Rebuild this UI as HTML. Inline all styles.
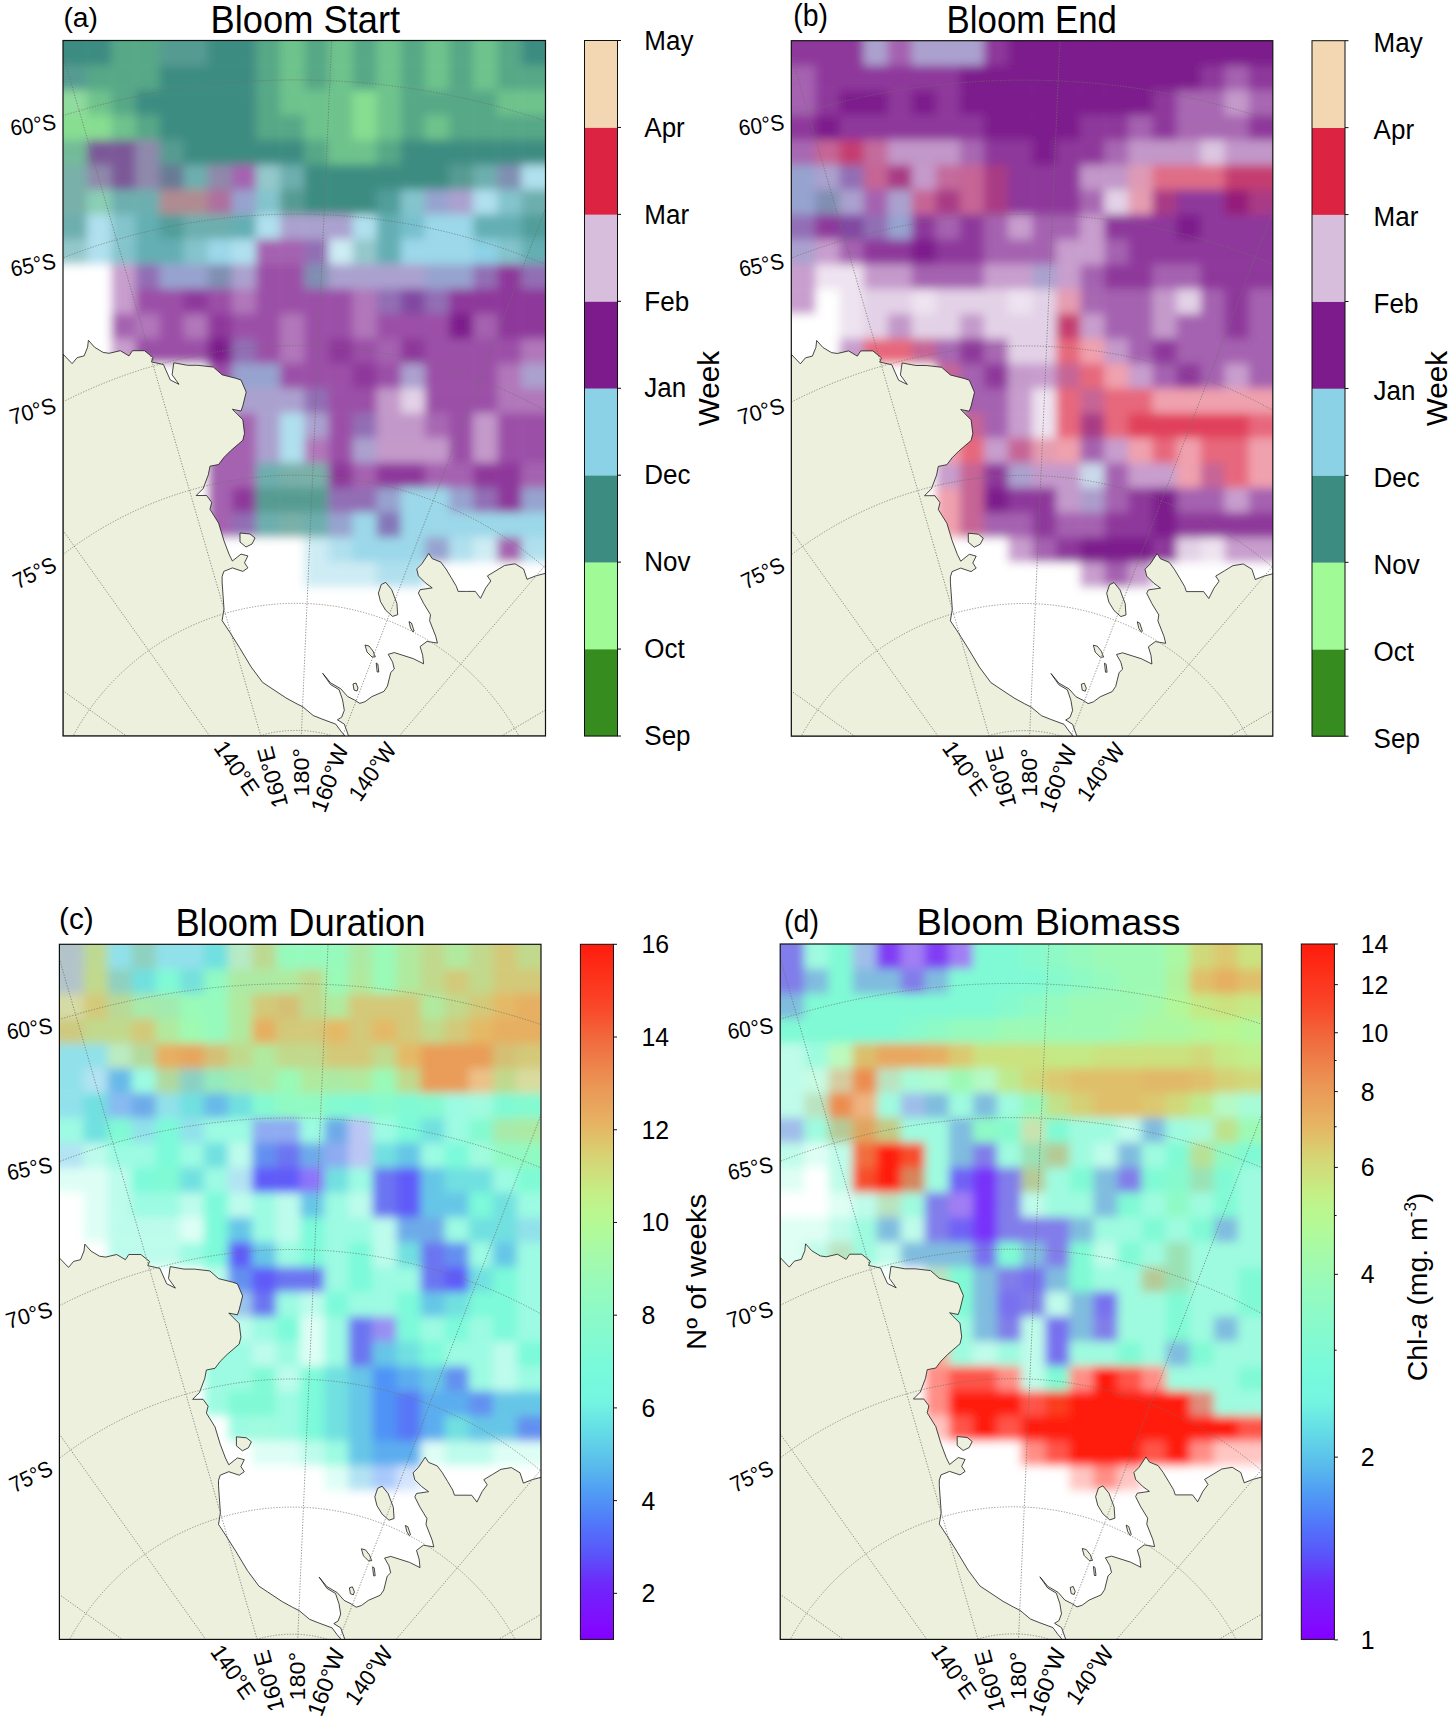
<!DOCTYPE html><html><head><meta charset="utf-8"><style>html,body{margin:0;padding:0;background:#fff;}svg{display:block}text{font-family:"Liberation Sans",sans-serif;fill:#000}</style></head><body>
<svg width="1450" height="1722" viewBox="0 0 1450 1722">
<rect width="1450" height="1722" fill="#fff"/>
<defs>
<clipPath id="clipa"><rect x="0" y="0" width="482.5" height="695.5"/></clipPath>
<clipPath id="clipb"><rect x="0" y="0" width="481.5" height="695.5"/></clipPath>
<clipPath id="clipc"><rect x="0" y="0" width="481.6" height="695.1"/></clipPath>
<clipPath id="clipd"><rect x="0" y="0" width="481.8" height="695.4"/></clipPath>
<filter id="blur" x="-5%" y="-5%" width="110%" height="110%"><feGaussianBlur stdDeviation="5"/></filter>
<linearGradient id="gc" x1="0" y1="1" x2="0" y2="0"><stop offset="0.000" stop-color="#8200ff"/><stop offset="0.010" stop-color="#8205ff"/><stop offset="0.020" stop-color="#820aff"/><stop offset="0.030" stop-color="#7f0ffe"/><stop offset="0.040" stop-color="#7b14fd"/><stop offset="0.050" stop-color="#7819fc"/><stop offset="0.060" stop-color="#741efc"/><stop offset="0.070" stop-color="#7123fb"/><stop offset="0.080" stop-color="#6e29fa"/><stop offset="0.090" stop-color="#6933fa"/><stop offset="0.100" stop-color="#643dfa"/><stop offset="0.110" stop-color="#6048fa"/><stop offset="0.120" stop-color="#5b52fa"/><stop offset="0.130" stop-color="#585bfa"/><stop offset="0.140" stop-color="#5663fa"/><stop offset="0.150" stop-color="#546afa"/><stop offset="0.160" stop-color="#5272fa"/><stop offset="0.170" stop-color="#507afa"/><stop offset="0.180" stop-color="#5083f8"/><stop offset="0.190" stop-color="#508bf7"/><stop offset="0.200" stop-color="#5093f6"/><stop offset="0.210" stop-color="#509bf5"/><stop offset="0.220" stop-color="#52a3f3"/><stop offset="0.230" stop-color="#55abf0"/><stop offset="0.240" stop-color="#57b3ee"/><stop offset="0.250" stop-color="#59bbec"/><stop offset="0.260" stop-color="#5bc2ea"/><stop offset="0.270" stop-color="#5ec9e9"/><stop offset="0.280" stop-color="#60cfe8"/><stop offset="0.290" stop-color="#62d6e7"/><stop offset="0.300" stop-color="#64dde6"/><stop offset="0.310" stop-color="#68e2e5"/><stop offset="0.320" stop-color="#6be8e4"/><stop offset="0.330" stop-color="#6feee2"/><stop offset="0.340" stop-color="#72f4e1"/><stop offset="0.350" stop-color="#74f6e0"/><stop offset="0.360" stop-color="#75f7df"/><stop offset="0.370" stop-color="#76f8de"/><stop offset="0.380" stop-color="#77f9dd"/><stop offset="0.390" stop-color="#79fadb"/><stop offset="0.400" stop-color="#7bfad9"/><stop offset="0.410" stop-color="#7efad6"/><stop offset="0.420" stop-color="#81fad3"/><stop offset="0.430" stop-color="#83fad1"/><stop offset="0.440" stop-color="#86face"/><stop offset="0.450" stop-color="#88facc"/><stop offset="0.460" stop-color="#8bfac9"/><stop offset="0.470" stop-color="#8dfac7"/><stop offset="0.480" stop-color="#90fac4"/><stop offset="0.490" stop-color="#93fac1"/><stop offset="0.500" stop-color="#95fabf"/><stop offset="0.510" stop-color="#98fabb"/><stop offset="0.520" stop-color="#9bfab7"/><stop offset="0.530" stop-color="#9efab3"/><stop offset="0.540" stop-color="#a1faaf"/><stop offset="0.550" stop-color="#a4faab"/><stop offset="0.560" stop-color="#a7faa7"/><stop offset="0.570" stop-color="#abfaa2"/><stop offset="0.580" stop-color="#aefa9d"/><stop offset="0.590" stop-color="#b2fa99"/><stop offset="0.600" stop-color="#b5f995"/><stop offset="0.610" stop-color="#b9f791"/><stop offset="0.620" stop-color="#bcf58e"/><stop offset="0.630" stop-color="#c0f28a"/><stop offset="0.640" stop-color="#c3f087"/><stop offset="0.650" stop-color="#c7eb83"/><stop offset="0.660" stop-color="#cae580"/><stop offset="0.670" stop-color="#cee07c"/><stop offset="0.680" stop-color="#d1db79"/><stop offset="0.690" stop-color="#d5d675"/><stop offset="0.700" stop-color="#d8d072"/><stop offset="0.710" stop-color="#dcc96e"/><stop offset="0.720" stop-color="#dfc26b"/><stop offset="0.730" stop-color="#e3bb67"/><stop offset="0.740" stop-color="#e6b464"/><stop offset="0.750" stop-color="#e7af61"/><stop offset="0.760" stop-color="#e8a95f"/><stop offset="0.770" stop-color="#e9a45c"/><stop offset="0.780" stop-color="#ea9f59"/><stop offset="0.790" stop-color="#ea9a57"/><stop offset="0.800" stop-color="#eb9454"/><stop offset="0.810" stop-color="#ec8d51"/><stop offset="0.820" stop-color="#ed874d"/><stop offset="0.830" stop-color="#ee804a"/><stop offset="0.840" stop-color="#ef7947"/><stop offset="0.850" stop-color="#ef7343"/><stop offset="0.860" stop-color="#f16c40"/><stop offset="0.870" stop-color="#f2653b"/><stop offset="0.880" stop-color="#f45e37"/><stop offset="0.890" stop-color="#f65632"/><stop offset="0.900" stop-color="#f84f2e"/><stop offset="0.910" stop-color="#f94829"/><stop offset="0.920" stop-color="#fa4226"/><stop offset="0.930" stop-color="#fb3d23"/><stop offset="0.940" stop-color="#fc3920"/><stop offset="0.950" stop-color="#fc341c"/><stop offset="0.960" stop-color="#fd2f19"/><stop offset="0.970" stop-color="#fe2a16"/><stop offset="0.980" stop-color="#fe2513"/><stop offset="0.990" stop-color="#ff2010"/><stop offset="1.000" stop-color="#ff1c0c"/></linearGradient>
<linearGradient id="gd" x1="0" y1="1" x2="0" y2="0"><stop offset="0.000" stop-color="#8200ff"/><stop offset="0.010" stop-color="#8205ff"/><stop offset="0.020" stop-color="#820aff"/><stop offset="0.030" stop-color="#7f0ffe"/><stop offset="0.040" stop-color="#7b14fd"/><stop offset="0.050" stop-color="#7819fc"/><stop offset="0.060" stop-color="#741efc"/><stop offset="0.070" stop-color="#7123fb"/><stop offset="0.080" stop-color="#6e29fa"/><stop offset="0.090" stop-color="#6933fa"/><stop offset="0.100" stop-color="#643dfa"/><stop offset="0.110" stop-color="#6048fa"/><stop offset="0.120" stop-color="#5b52fa"/><stop offset="0.130" stop-color="#585bfa"/><stop offset="0.140" stop-color="#5663fa"/><stop offset="0.150" stop-color="#546afa"/><stop offset="0.160" stop-color="#5272fa"/><stop offset="0.170" stop-color="#507afa"/><stop offset="0.180" stop-color="#5083f8"/><stop offset="0.190" stop-color="#508bf7"/><stop offset="0.200" stop-color="#5093f6"/><stop offset="0.210" stop-color="#509bf5"/><stop offset="0.220" stop-color="#52a3f3"/><stop offset="0.230" stop-color="#55abf0"/><stop offset="0.240" stop-color="#57b3ee"/><stop offset="0.250" stop-color="#59bbec"/><stop offset="0.260" stop-color="#5bc2ea"/><stop offset="0.270" stop-color="#5ec9e9"/><stop offset="0.280" stop-color="#60cfe8"/><stop offset="0.290" stop-color="#62d6e7"/><stop offset="0.300" stop-color="#64dde6"/><stop offset="0.310" stop-color="#68e2e5"/><stop offset="0.320" stop-color="#6be8e4"/><stop offset="0.330" stop-color="#6feee2"/><stop offset="0.340" stop-color="#72f4e1"/><stop offset="0.350" stop-color="#74f6e0"/><stop offset="0.360" stop-color="#75f7df"/><stop offset="0.370" stop-color="#76f8de"/><stop offset="0.380" stop-color="#77f9dd"/><stop offset="0.390" stop-color="#79fadb"/><stop offset="0.400" stop-color="#7bfad9"/><stop offset="0.410" stop-color="#7efad6"/><stop offset="0.420" stop-color="#81fad3"/><stop offset="0.430" stop-color="#83fad1"/><stop offset="0.440" stop-color="#86face"/><stop offset="0.450" stop-color="#88facc"/><stop offset="0.460" stop-color="#8bfac9"/><stop offset="0.470" stop-color="#8dfac7"/><stop offset="0.480" stop-color="#90fac4"/><stop offset="0.490" stop-color="#93fac1"/><stop offset="0.500" stop-color="#95fabf"/><stop offset="0.510" stop-color="#98fabb"/><stop offset="0.520" stop-color="#9bfab7"/><stop offset="0.530" stop-color="#9efab3"/><stop offset="0.540" stop-color="#a1faaf"/><stop offset="0.550" stop-color="#a4faab"/><stop offset="0.560" stop-color="#a7faa7"/><stop offset="0.570" stop-color="#abfaa2"/><stop offset="0.580" stop-color="#aefa9d"/><stop offset="0.590" stop-color="#b2fa99"/><stop offset="0.600" stop-color="#b5f995"/><stop offset="0.610" stop-color="#b9f791"/><stop offset="0.620" stop-color="#bcf58e"/><stop offset="0.630" stop-color="#c0f28a"/><stop offset="0.640" stop-color="#c3f087"/><stop offset="0.650" stop-color="#c7eb83"/><stop offset="0.660" stop-color="#cae580"/><stop offset="0.670" stop-color="#cee07c"/><stop offset="0.680" stop-color="#d1db79"/><stop offset="0.690" stop-color="#d5d675"/><stop offset="0.700" stop-color="#d8d072"/><stop offset="0.710" stop-color="#dcc96e"/><stop offset="0.720" stop-color="#dfc26b"/><stop offset="0.730" stop-color="#e3bb67"/><stop offset="0.740" stop-color="#e6b464"/><stop offset="0.750" stop-color="#e7af61"/><stop offset="0.760" stop-color="#e8a95f"/><stop offset="0.770" stop-color="#e9a45c"/><stop offset="0.780" stop-color="#ea9f59"/><stop offset="0.790" stop-color="#ea9a57"/><stop offset="0.800" stop-color="#eb9454"/><stop offset="0.810" stop-color="#ec8d51"/><stop offset="0.820" stop-color="#ed874d"/><stop offset="0.830" stop-color="#ee804a"/><stop offset="0.840" stop-color="#ef7947"/><stop offset="0.850" stop-color="#ef7343"/><stop offset="0.860" stop-color="#f16c40"/><stop offset="0.870" stop-color="#f2653b"/><stop offset="0.880" stop-color="#f45e37"/><stop offset="0.890" stop-color="#f65632"/><stop offset="0.900" stop-color="#f84f2e"/><stop offset="0.910" stop-color="#f94829"/><stop offset="0.920" stop-color="#fa4226"/><stop offset="0.930" stop-color="#fb3d23"/><stop offset="0.940" stop-color="#fc3920"/><stop offset="0.950" stop-color="#fc341c"/><stop offset="0.960" stop-color="#fd2f19"/><stop offset="0.970" stop-color="#fe2a16"/><stop offset="0.980" stop-color="#fe2513"/><stop offset="0.990" stop-color="#ff2010"/><stop offset="1.000" stop-color="#ff1c0c"/></linearGradient>
</defs>
<g transform="translate(63.0,40.5)">
<g clip-path="url(#clipa)">
<rect width="482.5" height="695.5" fill="#fff"/>
<g filter="url(#blur)"><rect x="-12.0" y="-12.0" width="36.7" height="37.4" fill="#3d8c82"/><rect x="24.1" y="-12.0" width="24.7" height="37.4" fill="#3d8c82"/><rect x="48.2" y="-12.0" width="24.7" height="37.4" fill="#56a887"/><rect x="72.4" y="-12.0" width="24.7" height="37.4" fill="#56a887"/><rect x="96.5" y="-12.0" width="24.7" height="37.4" fill="#569b92"/><rect x="120.6" y="-12.0" width="24.7" height="37.4" fill="#569b92"/><rect x="144.8" y="-12.0" width="24.7" height="37.4" fill="#3d8c82"/><rect x="168.9" y="-12.0" width="24.7" height="37.4" fill="#3d8c82"/><rect x="193.0" y="-12.0" width="24.7" height="37.4" fill="#56a887"/><rect x="217.1" y="-12.0" width="24.7" height="37.4" fill="#6ec38c"/><rect x="241.2" y="-12.0" width="24.7" height="37.4" fill="#56a887"/><rect x="265.4" y="-12.0" width="24.7" height="37.4" fill="#6ec38c"/><rect x="289.5" y="-12.0" width="24.7" height="37.4" fill="#56a887"/><rect x="313.6" y="-12.0" width="24.7" height="37.4" fill="#6ec38c"/><rect x="337.8" y="-12.0" width="24.7" height="37.4" fill="#56a887"/><rect x="361.9" y="-12.0" width="24.7" height="37.4" fill="#6ec38c"/><rect x="386.0" y="-12.0" width="24.7" height="37.4" fill="#56a887"/><rect x="410.1" y="-12.0" width="24.7" height="37.4" fill="#6ec38c"/><rect x="434.2" y="-12.0" width="24.7" height="37.4" fill="#56a887"/><rect x="458.4" y="-12.0" width="36.7" height="37.4" fill="#3d8c82"/><rect x="-12.0" y="24.8" width="36.7" height="25.4" fill="#569b92"/><rect x="24.1" y="24.8" width="24.7" height="25.4" fill="#56a887"/><rect x="48.2" y="24.8" width="24.7" height="25.4" fill="#56a887"/><rect x="72.4" y="24.8" width="24.7" height="25.4" fill="#56a887"/><rect x="96.5" y="24.8" width="24.7" height="25.4" fill="#3d8c82"/><rect x="120.6" y="24.8" width="24.7" height="25.4" fill="#3d8c82"/><rect x="144.8" y="24.8" width="24.7" height="25.4" fill="#3d8c82"/><rect x="168.9" y="24.8" width="24.7" height="25.4" fill="#3d8c82"/><rect x="193.0" y="24.8" width="24.7" height="25.4" fill="#56a887"/><rect x="217.1" y="24.8" width="24.7" height="25.4" fill="#6ec38c"/><rect x="241.2" y="24.8" width="24.7" height="25.4" fill="#56a887"/><rect x="265.4" y="24.8" width="24.7" height="25.4" fill="#6ec38c"/><rect x="289.5" y="24.8" width="24.7" height="25.4" fill="#56a887"/><rect x="313.6" y="24.8" width="24.7" height="25.4" fill="#6ec38c"/><rect x="337.8" y="24.8" width="24.7" height="25.4" fill="#56a887"/><rect x="361.9" y="24.8" width="24.7" height="25.4" fill="#6ec38c"/><rect x="386.0" y="24.8" width="24.7" height="25.4" fill="#56a887"/><rect x="410.1" y="24.8" width="24.7" height="25.4" fill="#6ec38c"/><rect x="434.2" y="24.8" width="24.7" height="25.4" fill="#56a887"/><rect x="458.4" y="24.8" width="36.7" height="25.4" fill="#56a887"/><rect x="-12.0" y="49.7" width="36.7" height="25.4" fill="#90db9e"/><rect x="24.1" y="49.7" width="24.7" height="25.4" fill="#6ec38c"/><rect x="48.2" y="49.7" width="24.7" height="25.4" fill="#56a887"/><rect x="72.4" y="49.7" width="24.7" height="25.4" fill="#3d8c82"/><rect x="96.5" y="49.7" width="24.7" height="25.4" fill="#3d8c82"/><rect x="120.6" y="49.7" width="24.7" height="25.4" fill="#3d8c82"/><rect x="144.8" y="49.7" width="24.7" height="25.4" fill="#3d8c82"/><rect x="168.9" y="49.7" width="24.7" height="25.4" fill="#3d8c82"/><rect x="193.0" y="49.7" width="24.7" height="25.4" fill="#56a887"/><rect x="217.1" y="49.7" width="24.7" height="25.4" fill="#6ec38c"/><rect x="241.2" y="49.7" width="24.7" height="25.4" fill="#6ec38c"/><rect x="265.4" y="49.7" width="24.7" height="25.4" fill="#6ec38c"/><rect x="289.5" y="49.7" width="24.7" height="25.4" fill="#87de91"/><rect x="313.6" y="49.7" width="24.7" height="25.4" fill="#6ec38c"/><rect x="337.8" y="49.7" width="24.7" height="25.4" fill="#56a887"/><rect x="361.9" y="49.7" width="24.7" height="25.4" fill="#56a887"/><rect x="386.0" y="49.7" width="24.7" height="25.4" fill="#56a887"/><rect x="410.1" y="49.7" width="24.7" height="25.4" fill="#56a887"/><rect x="434.2" y="49.7" width="24.7" height="25.4" fill="#6ec38c"/><rect x="458.4" y="49.7" width="36.7" height="25.4" fill="#6ec38c"/><rect x="-12.0" y="74.5" width="36.7" height="25.4" fill="#87de91"/><rect x="24.1" y="74.5" width="24.7" height="25.4" fill="#87de91"/><rect x="48.2" y="74.5" width="24.7" height="25.4" fill="#6ec38c"/><rect x="72.4" y="74.5" width="24.7" height="25.4" fill="#56a887"/><rect x="96.5" y="74.5" width="24.7" height="25.4" fill="#3d8c82"/><rect x="120.6" y="74.5" width="24.7" height="25.4" fill="#3d8c82"/><rect x="144.8" y="74.5" width="24.7" height="25.4" fill="#3d8c82"/><rect x="168.9" y="74.5" width="24.7" height="25.4" fill="#3d8c82"/><rect x="193.0" y="74.5" width="24.7" height="25.4" fill="#56a887"/><rect x="217.1" y="74.5" width="24.7" height="25.4" fill="#56a887"/><rect x="241.2" y="74.5" width="24.7" height="25.4" fill="#6ec38c"/><rect x="265.4" y="74.5" width="24.7" height="25.4" fill="#6ec38c"/><rect x="289.5" y="74.5" width="24.7" height="25.4" fill="#87de91"/><rect x="313.6" y="74.5" width="24.7" height="25.4" fill="#6ec38c"/><rect x="337.8" y="74.5" width="24.7" height="25.4" fill="#56a887"/><rect x="361.9" y="74.5" width="24.7" height="25.4" fill="#6ec38c"/><rect x="386.0" y="74.5" width="24.7" height="25.4" fill="#56a887"/><rect x="410.1" y="74.5" width="24.7" height="25.4" fill="#56a887"/><rect x="434.2" y="74.5" width="24.7" height="25.4" fill="#56a887"/><rect x="458.4" y="74.5" width="36.7" height="25.4" fill="#56a887"/><rect x="-12.0" y="99.4" width="36.7" height="25.4" fill="#73bb98"/><rect x="24.1" y="99.4" width="24.7" height="25.4" fill="#7b5998"/><rect x="48.2" y="99.4" width="24.7" height="25.4" fill="#7b5998"/><rect x="72.4" y="99.4" width="24.7" height="25.4" fill="#8f89ac"/><rect x="96.5" y="99.4" width="24.7" height="25.4" fill="#569b92"/><rect x="120.6" y="99.4" width="24.7" height="25.4" fill="#3d8c82"/><rect x="144.8" y="99.4" width="24.7" height="25.4" fill="#3d8c82"/><rect x="168.9" y="99.4" width="24.7" height="25.4" fill="#3d8c82"/><rect x="193.0" y="99.4" width="24.7" height="25.4" fill="#3d8c82"/><rect x="217.1" y="99.4" width="24.7" height="25.4" fill="#3d8c82"/><rect x="241.2" y="99.4" width="24.7" height="25.4" fill="#56a887"/><rect x="265.4" y="99.4" width="24.7" height="25.4" fill="#6ec38c"/><rect x="289.5" y="99.4" width="24.7" height="25.4" fill="#6ec38c"/><rect x="313.6" y="99.4" width="24.7" height="25.4" fill="#56a887"/><rect x="337.8" y="99.4" width="24.7" height="25.4" fill="#3d8c82"/><rect x="361.9" y="99.4" width="24.7" height="25.4" fill="#3d8c82"/><rect x="386.0" y="99.4" width="24.7" height="25.4" fill="#3d8c82"/><rect x="410.1" y="99.4" width="24.7" height="25.4" fill="#3d8c82"/><rect x="434.2" y="99.4" width="24.7" height="25.4" fill="#3d8c82"/><rect x="458.4" y="99.4" width="36.7" height="25.4" fill="#3d8c82"/><rect x="-12.0" y="124.2" width="36.7" height="25.4" fill="#79b0a9"/><rect x="24.1" y="124.2" width="24.7" height="25.4" fill="#8f89ac"/><rect x="48.2" y="124.2" width="24.7" height="25.4" fill="#7b5998"/><rect x="72.4" y="124.2" width="24.7" height="25.4" fill="#8f89ac"/><rect x="96.5" y="124.2" width="24.7" height="25.4" fill="#697a95"/><rect x="120.6" y="124.2" width="24.7" height="25.4" fill="#6dafaf"/><rect x="144.8" y="124.2" width="24.7" height="25.4" fill="#8f89ac"/><rect x="168.9" y="124.2" width="24.7" height="25.4" fill="#a562b0"/><rect x="193.0" y="124.2" width="24.7" height="25.4" fill="#94c8cb"/><rect x="217.1" y="124.2" width="24.7" height="25.4" fill="#6dafaf"/><rect x="241.2" y="124.2" width="24.7" height="25.4" fill="#3d8c82"/><rect x="265.4" y="124.2" width="24.7" height="25.4" fill="#3d8c82"/><rect x="289.5" y="124.2" width="24.7" height="25.4" fill="#3d8c82"/><rect x="313.6" y="124.2" width="24.7" height="25.4" fill="#3d8c82"/><rect x="337.8" y="124.2" width="24.7" height="25.4" fill="#3d8c82"/><rect x="361.9" y="124.2" width="24.7" height="25.4" fill="#3d8c82"/><rect x="386.0" y="124.2" width="24.7" height="25.4" fill="#569b92"/><rect x="410.1" y="124.2" width="24.7" height="25.4" fill="#6dafaf"/><rect x="434.2" y="124.2" width="24.7" height="25.4" fill="#808fb2"/><rect x="458.4" y="124.2" width="36.7" height="25.4" fill="#b0e0ee"/><rect x="-12.0" y="149.0" width="36.7" height="25.4" fill="#79b0a9"/><rect x="24.1" y="149.0" width="24.7" height="25.4" fill="#8acfb5"/><rect x="48.2" y="149.0" width="24.7" height="25.4" fill="#6dafaf"/><rect x="72.4" y="149.0" width="24.7" height="25.4" fill="#6dafaf"/><rect x="96.5" y="149.0" width="24.7" height="25.4" fill="#b08b92"/><rect x="120.6" y="149.0" width="24.7" height="25.4" fill="#b08b92"/><rect x="144.8" y="149.0" width="24.7" height="25.4" fill="#ae709f"/><rect x="168.9" y="149.0" width="24.7" height="25.4" fill="#97a3cf"/><rect x="193.0" y="149.0" width="24.7" height="25.4" fill="#84c4cc"/><rect x="217.1" y="149.0" width="24.7" height="25.4" fill="#569b92"/><rect x="241.2" y="149.0" width="24.7" height="25.4" fill="#3d8c82"/><rect x="265.4" y="149.0" width="24.7" height="25.4" fill="#3d8c82"/><rect x="289.5" y="149.0" width="24.7" height="25.4" fill="#3d8c82"/><rect x="313.6" y="149.0" width="24.7" height="25.4" fill="#519e9b"/><rect x="337.8" y="149.0" width="24.7" height="25.4" fill="#84c4cc"/><rect x="361.9" y="149.0" width="24.7" height="25.4" fill="#97a3cf"/><rect x="386.0" y="149.0" width="24.7" height="25.4" fill="#aba1cf"/><rect x="410.1" y="149.0" width="24.7" height="25.4" fill="#b0e0ee"/><rect x="434.2" y="149.0" width="24.7" height="25.4" fill="#84c4cc"/><rect x="458.4" y="149.0" width="36.7" height="25.4" fill="#6dafaf"/><rect x="-12.0" y="173.9" width="36.7" height="25.4" fill="#6dafaf"/><rect x="24.1" y="173.9" width="24.7" height="25.4" fill="#b0e0ee"/><rect x="48.2" y="173.9" width="24.7" height="25.4" fill="#84c4cc"/><rect x="72.4" y="173.9" width="24.7" height="25.4" fill="#64afb4"/><rect x="96.5" y="173.9" width="24.7" height="25.4" fill="#519e9b"/><rect x="120.6" y="173.9" width="24.7" height="25.4" fill="#6dafaf"/><rect x="144.8" y="173.9" width="24.7" height="25.4" fill="#6dafaf"/><rect x="168.9" y="173.9" width="24.7" height="25.4" fill="#64afb4"/><rect x="193.0" y="173.9" width="24.7" height="25.4" fill="#b0e0ee"/><rect x="217.1" y="173.9" width="24.7" height="25.4" fill="#aba1cf"/><rect x="241.2" y="173.9" width="24.7" height="25.4" fill="#aba1cf"/><rect x="265.4" y="173.9" width="24.7" height="25.4" fill="#aba1cf"/><rect x="289.5" y="173.9" width="24.7" height="25.4" fill="#b0e0ee"/><rect x="313.6" y="173.9" width="24.7" height="25.4" fill="#64afb4"/><rect x="337.8" y="173.9" width="24.7" height="25.4" fill="#78c0cd"/><rect x="361.9" y="173.9" width="24.7" height="25.4" fill="#9bd8e9"/><rect x="386.0" y="173.9" width="24.7" height="25.4" fill="#9bd8e9"/><rect x="410.1" y="173.9" width="24.7" height="25.4" fill="#64afb4"/><rect x="434.2" y="173.9" width="24.7" height="25.4" fill="#64afb4"/><rect x="458.4" y="173.9" width="36.7" height="25.4" fill="#519e9b"/><rect x="-12.0" y="198.7" width="36.7" height="25.4" fill="#94c8cb"/><rect x="24.1" y="198.7" width="24.7" height="25.4" fill="#b0e0ee"/><rect x="48.2" y="198.7" width="24.7" height="25.4" fill="#84c4cc"/><rect x="72.4" y="198.7" width="24.7" height="25.4" fill="#64afb4"/><rect x="96.5" y="198.7" width="24.7" height="25.4" fill="#64afb4"/><rect x="120.6" y="198.7" width="24.7" height="25.4" fill="#84c4cc"/><rect x="144.8" y="198.7" width="24.7" height="25.4" fill="#9bd8e9"/><rect x="168.9" y="198.7" width="24.7" height="25.4" fill="#b0e0ee"/><rect x="193.0" y="198.7" width="24.7" height="25.4" fill="#a562b0"/><rect x="217.1" y="198.7" width="24.7" height="25.4" fill="#a562b0"/><rect x="241.2" y="198.7" width="24.7" height="25.4" fill="#926eb5"/><rect x="265.4" y="198.7" width="24.7" height="25.4" fill="#ceecf4"/><rect x="289.5" y="198.7" width="24.7" height="25.4" fill="#94c8cb"/><rect x="313.6" y="198.7" width="24.7" height="25.4" fill="#64afb4"/><rect x="337.8" y="198.7" width="24.7" height="25.4" fill="#9bd8e9"/><rect x="361.9" y="198.7" width="24.7" height="25.4" fill="#9bd8e9"/><rect x="386.0" y="198.7" width="24.7" height="25.4" fill="#9bd8e9"/><rect x="410.1" y="198.7" width="24.7" height="25.4" fill="#8cd2e6"/><rect x="434.2" y="198.7" width="24.7" height="25.4" fill="#84c4cc"/><rect x="458.4" y="198.7" width="36.7" height="25.4" fill="#64afb4"/><rect x="-12.0" y="223.6" width="36.7" height="25.4" fill="#ffffff"/><rect x="24.1" y="223.6" width="24.7" height="25.4" fill="#ffffff"/><rect x="48.2" y="223.6" width="24.7" height="25.4" fill="#c89ece"/><rect x="72.4" y="223.6" width="24.7" height="25.4" fill="#926eb5"/><rect x="96.5" y="223.6" width="24.7" height="25.4" fill="#97a3cf"/><rect x="120.6" y="223.6" width="24.7" height="25.4" fill="#97a3cf"/><rect x="144.8" y="223.6" width="24.7" height="25.4" fill="#808fb2"/><rect x="168.9" y="223.6" width="24.7" height="25.4" fill="#aba1cf"/><rect x="193.0" y="223.6" width="24.7" height="25.4" fill="#9b50a7"/><rect x="217.1" y="223.6" width="24.7" height="25.4" fill="#9b50a7"/><rect x="241.2" y="223.6" width="24.7" height="25.4" fill="#808fb2"/><rect x="265.4" y="223.6" width="24.7" height="25.4" fill="#aba1cf"/><rect x="289.5" y="223.6" width="24.7" height="25.4" fill="#aba1cf"/><rect x="313.6" y="223.6" width="24.7" height="25.4" fill="#aba1cf"/><rect x="337.8" y="223.6" width="24.7" height="25.4" fill="#aba1cf"/><rect x="361.9" y="223.6" width="24.7" height="25.4" fill="#97a3cf"/><rect x="386.0" y="223.6" width="24.7" height="25.4" fill="#97a3cf"/><rect x="410.1" y="223.6" width="24.7" height="25.4" fill="#926eb5"/><rect x="434.2" y="223.6" width="24.7" height="25.4" fill="#8e399b"/><rect x="458.4" y="223.6" width="36.7" height="25.4" fill="#926eb5"/><rect x="-12.0" y="248.4" width="36.7" height="25.4" fill="#ffffff"/><rect x="24.1" y="248.4" width="24.7" height="25.4" fill="#ffffff"/><rect x="48.2" y="248.4" width="24.7" height="25.4" fill="#c89ece"/><rect x="72.4" y="248.4" width="24.7" height="25.4" fill="#9b50a7"/><rect x="96.5" y="248.4" width="24.7" height="25.4" fill="#9b50a7"/><rect x="120.6" y="248.4" width="24.7" height="25.4" fill="#8e399b"/><rect x="144.8" y="248.4" width="24.7" height="25.4" fill="#9b50a7"/><rect x="168.9" y="248.4" width="24.7" height="25.4" fill="#b177ba"/><rect x="193.0" y="248.4" width="24.7" height="25.4" fill="#9b50a7"/><rect x="217.1" y="248.4" width="24.7" height="25.4" fill="#9b50a7"/><rect x="241.2" y="248.4" width="24.7" height="25.4" fill="#9b50a7"/><rect x="265.4" y="248.4" width="24.7" height="25.4" fill="#9b50a7"/><rect x="289.5" y="248.4" width="24.7" height="25.4" fill="#b177ba"/><rect x="313.6" y="248.4" width="24.7" height="25.4" fill="#926eb5"/><rect x="337.8" y="248.4" width="24.7" height="25.4" fill="#8149a2"/><rect x="361.9" y="248.4" width="24.7" height="25.4" fill="#926eb5"/><rect x="386.0" y="248.4" width="24.7" height="25.4" fill="#8e399b"/><rect x="410.1" y="248.4" width="24.7" height="25.4" fill="#8e399b"/><rect x="434.2" y="248.4" width="24.7" height="25.4" fill="#8e399b"/><rect x="458.4" y="248.4" width="36.7" height="25.4" fill="#8e399b"/><rect x="-12.0" y="273.2" width="36.7" height="25.4" fill="#ffffff"/><rect x="24.1" y="273.2" width="24.7" height="25.4" fill="#ffffff"/><rect x="48.2" y="273.2" width="24.7" height="25.4" fill="#a562b0"/><rect x="72.4" y="273.2" width="24.7" height="25.4" fill="#b177ba"/><rect x="96.5" y="273.2" width="24.7" height="25.4" fill="#9b50a7"/><rect x="120.6" y="273.2" width="24.7" height="25.4" fill="#b177ba"/><rect x="144.8" y="273.2" width="24.7" height="25.4" fill="#8e399b"/><rect x="168.9" y="273.2" width="24.7" height="25.4" fill="#9b50a7"/><rect x="193.0" y="273.2" width="24.7" height="25.4" fill="#9b50a7"/><rect x="217.1" y="273.2" width="24.7" height="25.4" fill="#b177ba"/><rect x="241.2" y="273.2" width="24.7" height="25.4" fill="#9b50a7"/><rect x="265.4" y="273.2" width="24.7" height="25.4" fill="#9b50a7"/><rect x="289.5" y="273.2" width="24.7" height="25.4" fill="#b177ba"/><rect x="313.6" y="273.2" width="24.7" height="25.4" fill="#9b50a7"/><rect x="337.8" y="273.2" width="24.7" height="25.4" fill="#9b50a7"/><rect x="361.9" y="273.2" width="24.7" height="25.4" fill="#9b50a7"/><rect x="386.0" y="273.2" width="24.7" height="25.4" fill="#7d1b8c"/><rect x="410.1" y="273.2" width="24.7" height="25.4" fill="#a562b0"/><rect x="434.2" y="273.2" width="24.7" height="25.4" fill="#8e399b"/><rect x="458.4" y="273.2" width="36.7" height="25.4" fill="#8e399b"/><rect x="-12.0" y="298.1" width="36.7" height="25.4" fill="#ffffff"/><rect x="24.1" y="298.1" width="24.7" height="25.4" fill="#ffffff"/><rect x="48.2" y="298.1" width="24.7" height="25.4" fill="#c89ece"/><rect x="72.4" y="298.1" width="24.7" height="25.4" fill="#9b50a7"/><rect x="96.5" y="298.1" width="24.7" height="25.4" fill="#9b50a7"/><rect x="120.6" y="298.1" width="24.7" height="25.4" fill="#9b50a7"/><rect x="144.8" y="298.1" width="24.7" height="25.4" fill="#7d1b8c"/><rect x="168.9" y="298.1" width="24.7" height="25.4" fill="#926eb5"/><rect x="193.0" y="298.1" width="24.7" height="25.4" fill="#9b50a7"/><rect x="217.1" y="298.1" width="24.7" height="25.4" fill="#b177ba"/><rect x="241.2" y="298.1" width="24.7" height="25.4" fill="#9b50a7"/><rect x="265.4" y="298.1" width="24.7" height="25.4" fill="#8e399b"/><rect x="289.5" y="298.1" width="24.7" height="25.4" fill="#9b50a7"/><rect x="313.6" y="298.1" width="24.7" height="25.4" fill="#a562b0"/><rect x="337.8" y="298.1" width="24.7" height="25.4" fill="#8e399b"/><rect x="361.9" y="298.1" width="24.7" height="25.4" fill="#9b50a7"/><rect x="386.0" y="298.1" width="24.7" height="25.4" fill="#9b50a7"/><rect x="410.1" y="298.1" width="24.7" height="25.4" fill="#9b50a7"/><rect x="434.2" y="298.1" width="24.7" height="25.4" fill="#9b50a7"/><rect x="458.4" y="298.1" width="36.7" height="25.4" fill="#b177ba"/><rect x="-12.0" y="322.9" width="36.7" height="25.4" fill="#ffffff"/><rect x="24.1" y="322.9" width="24.7" height="25.4" fill="#ffffff"/><rect x="48.2" y="322.9" width="24.7" height="25.4" fill="#ffffff"/><rect x="72.4" y="322.9" width="24.7" height="25.4" fill="#ffffff"/><rect x="96.5" y="322.9" width="24.7" height="25.4" fill="#ffffff"/><rect x="120.6" y="322.9" width="24.7" height="25.4" fill="#ffffff"/><rect x="144.8" y="322.9" width="24.7" height="25.4" fill="#9b50a7"/><rect x="168.9" y="322.9" width="24.7" height="25.4" fill="#97a3cf"/><rect x="193.0" y="322.9" width="24.7" height="25.4" fill="#97a3cf"/><rect x="217.1" y="322.9" width="24.7" height="25.4" fill="#9b50a7"/><rect x="241.2" y="322.9" width="24.7" height="25.4" fill="#9b50a7"/><rect x="265.4" y="322.9" width="24.7" height="25.4" fill="#9b50a7"/><rect x="289.5" y="322.9" width="24.7" height="25.4" fill="#8e399b"/><rect x="313.6" y="322.9" width="24.7" height="25.4" fill="#9b50a7"/><rect x="337.8" y="322.9" width="24.7" height="25.4" fill="#aba1cf"/><rect x="361.9" y="322.9" width="24.7" height="25.4" fill="#9b50a7"/><rect x="386.0" y="322.9" width="24.7" height="25.4" fill="#9b50a7"/><rect x="410.1" y="322.9" width="24.7" height="25.4" fill="#9b50a7"/><rect x="434.2" y="322.9" width="24.7" height="25.4" fill="#b177ba"/><rect x="458.4" y="322.9" width="36.7" height="25.4" fill="#aba1cf"/><rect x="-12.0" y="347.8" width="36.7" height="25.4" fill="#ffffff"/><rect x="24.1" y="347.8" width="24.7" height="25.4" fill="#ffffff"/><rect x="48.2" y="347.8" width="24.7" height="25.4" fill="#ffffff"/><rect x="72.4" y="347.8" width="24.7" height="25.4" fill="#ffffff"/><rect x="96.5" y="347.8" width="24.7" height="25.4" fill="#ffffff"/><rect x="120.6" y="347.8" width="24.7" height="25.4" fill="#ffffff"/><rect x="144.8" y="347.8" width="24.7" height="25.4" fill="#ffffff"/><rect x="168.9" y="347.8" width="24.7" height="25.4" fill="#aba1cf"/><rect x="193.0" y="347.8" width="24.7" height="25.4" fill="#aba1cf"/><rect x="217.1" y="347.8" width="24.7" height="25.4" fill="#aba1cf"/><rect x="241.2" y="347.8" width="24.7" height="25.4" fill="#926eb5"/><rect x="265.4" y="347.8" width="24.7" height="25.4" fill="#9b50a7"/><rect x="289.5" y="347.8" width="24.7" height="25.4" fill="#9b50a7"/><rect x="313.6" y="347.8" width="24.7" height="25.4" fill="#c49acb"/><rect x="337.8" y="347.8" width="24.7" height="25.4" fill="#e3d2e7"/><rect x="361.9" y="347.8" width="24.7" height="25.4" fill="#9b50a7"/><rect x="386.0" y="347.8" width="24.7" height="25.4" fill="#9b50a7"/><rect x="410.1" y="347.8" width="24.7" height="25.4" fill="#9b50a7"/><rect x="434.2" y="347.8" width="24.7" height="25.4" fill="#b177ba"/><rect x="458.4" y="347.8" width="36.7" height="25.4" fill="#b177ba"/><rect x="-12.0" y="372.6" width="36.7" height="25.4" fill="#ffffff"/><rect x="24.1" y="372.6" width="24.7" height="25.4" fill="#ffffff"/><rect x="48.2" y="372.6" width="24.7" height="25.4" fill="#ffffff"/><rect x="72.4" y="372.6" width="24.7" height="25.4" fill="#ffffff"/><rect x="96.5" y="372.6" width="24.7" height="25.4" fill="#ffffff"/><rect x="120.6" y="372.6" width="24.7" height="25.4" fill="#ffffff"/><rect x="144.8" y="372.6" width="24.7" height="25.4" fill="#ffffff"/><rect x="168.9" y="372.6" width="24.7" height="25.4" fill="#a562b0"/><rect x="193.0" y="372.6" width="24.7" height="25.4" fill="#aba1cf"/><rect x="217.1" y="372.6" width="24.7" height="25.4" fill="#b0e0ee"/><rect x="241.2" y="372.6" width="24.7" height="25.4" fill="#aba1cf"/><rect x="265.4" y="372.6" width="24.7" height="25.4" fill="#9b50a7"/><rect x="289.5" y="372.6" width="24.7" height="25.4" fill="#926eb5"/><rect x="313.6" y="372.6" width="24.7" height="25.4" fill="#c297c9"/><rect x="337.8" y="372.6" width="24.7" height="25.4" fill="#c297c9"/><rect x="361.9" y="372.6" width="24.7" height="25.4" fill="#a868b2"/><rect x="386.0" y="372.6" width="24.7" height="25.4" fill="#9b50a7"/><rect x="410.1" y="372.6" width="24.7" height="25.4" fill="#c49acb"/><rect x="434.2" y="372.6" width="24.7" height="25.4" fill="#9b50a7"/><rect x="458.4" y="372.6" width="36.7" height="25.4" fill="#9b50a7"/><rect x="-12.0" y="397.4" width="36.7" height="25.4" fill="#ffffff"/><rect x="24.1" y="397.4" width="24.7" height="25.4" fill="#ffffff"/><rect x="48.2" y="397.4" width="24.7" height="25.4" fill="#ffffff"/><rect x="72.4" y="397.4" width="24.7" height="25.4" fill="#ffffff"/><rect x="96.5" y="397.4" width="24.7" height="25.4" fill="#ffffff"/><rect x="120.6" y="397.4" width="24.7" height="25.4" fill="#ffffff"/><rect x="144.8" y="397.4" width="24.7" height="25.4" fill="#a562b0"/><rect x="168.9" y="397.4" width="24.7" height="25.4" fill="#a562b0"/><rect x="193.0" y="397.4" width="24.7" height="25.4" fill="#aba1cf"/><rect x="217.1" y="397.4" width="24.7" height="25.4" fill="#b0e0ee"/><rect x="241.2" y="397.4" width="24.7" height="25.4" fill="#b177ba"/><rect x="265.4" y="397.4" width="24.7" height="25.4" fill="#9b50a7"/><rect x="289.5" y="397.4" width="24.7" height="25.4" fill="#aba1cf"/><rect x="313.6" y="397.4" width="24.7" height="25.4" fill="#c49acb"/><rect x="337.8" y="397.4" width="24.7" height="25.4" fill="#c49acb"/><rect x="361.9" y="397.4" width="24.7" height="25.4" fill="#c49acb"/><rect x="386.0" y="397.4" width="24.7" height="25.4" fill="#9b50a7"/><rect x="410.1" y="397.4" width="24.7" height="25.4" fill="#c49acb"/><rect x="434.2" y="397.4" width="24.7" height="25.4" fill="#9b50a7"/><rect x="458.4" y="397.4" width="36.7" height="25.4" fill="#9b50a7"/><rect x="-12.0" y="422.3" width="36.7" height="25.4" fill="#ffffff"/><rect x="24.1" y="422.3" width="24.7" height="25.4" fill="#ffffff"/><rect x="48.2" y="422.3" width="24.7" height="25.4" fill="#ffffff"/><rect x="72.4" y="422.3" width="24.7" height="25.4" fill="#ffffff"/><rect x="96.5" y="422.3" width="24.7" height="25.4" fill="#ffffff"/><rect x="120.6" y="422.3" width="24.7" height="25.4" fill="#ffffff"/><rect x="144.8" y="422.3" width="24.7" height="25.4" fill="#a562b0"/><rect x="168.9" y="422.3" width="24.7" height="25.4" fill="#a562b0"/><rect x="193.0" y="422.3" width="24.7" height="25.4" fill="#6dafaf"/><rect x="217.1" y="422.3" width="24.7" height="25.4" fill="#79b0a9"/><rect x="241.2" y="422.3" width="24.7" height="25.4" fill="#79b0a9"/><rect x="265.4" y="422.3" width="24.7" height="25.4" fill="#8e399b"/><rect x="289.5" y="422.3" width="24.7" height="25.4" fill="#a562b0"/><rect x="313.6" y="422.3" width="24.7" height="25.4" fill="#8e399b"/><rect x="337.8" y="422.3" width="24.7" height="25.4" fill="#8e399b"/><rect x="361.9" y="422.3" width="24.7" height="25.4" fill="#a562b0"/><rect x="386.0" y="422.3" width="24.7" height="25.4" fill="#a562b0"/><rect x="410.1" y="422.3" width="24.7" height="25.4" fill="#8e399b"/><rect x="434.2" y="422.3" width="24.7" height="25.4" fill="#8e399b"/><rect x="458.4" y="422.3" width="36.7" height="25.4" fill="#a562b0"/><rect x="-12.0" y="447.1" width="36.7" height="25.4" fill="#ffffff"/><rect x="24.1" y="447.1" width="24.7" height="25.4" fill="#ffffff"/><rect x="48.2" y="447.1" width="24.7" height="25.4" fill="#ffffff"/><rect x="72.4" y="447.1" width="24.7" height="25.4" fill="#ffffff"/><rect x="96.5" y="447.1" width="24.7" height="25.4" fill="#ffffff"/><rect x="120.6" y="447.1" width="24.7" height="25.4" fill="#ffffff"/><rect x="144.8" y="447.1" width="24.7" height="25.4" fill="#a562b0"/><rect x="168.9" y="447.1" width="24.7" height="25.4" fill="#8e399b"/><rect x="193.0" y="447.1" width="24.7" height="25.4" fill="#569b92"/><rect x="217.1" y="447.1" width="24.7" height="25.4" fill="#569b92"/><rect x="241.2" y="447.1" width="24.7" height="25.4" fill="#569b92"/><rect x="265.4" y="447.1" width="24.7" height="25.4" fill="#926eb5"/><rect x="289.5" y="447.1" width="24.7" height="25.4" fill="#926eb5"/><rect x="313.6" y="447.1" width="24.7" height="25.4" fill="#97a3cf"/><rect x="337.8" y="447.1" width="24.7" height="25.4" fill="#9bd8e9"/><rect x="361.9" y="447.1" width="24.7" height="25.4" fill="#9bd8e9"/><rect x="386.0" y="447.1" width="24.7" height="25.4" fill="#97a3cf"/><rect x="410.1" y="447.1" width="24.7" height="25.4" fill="#926eb5"/><rect x="434.2" y="447.1" width="24.7" height="25.4" fill="#8e399b"/><rect x="458.4" y="447.1" width="36.7" height="25.4" fill="#97a3cf"/><rect x="-12.0" y="471.9" width="36.7" height="25.4" fill="#ffffff"/><rect x="24.1" y="471.9" width="24.7" height="25.4" fill="#ffffff"/><rect x="48.2" y="471.9" width="24.7" height="25.4" fill="#ffffff"/><rect x="72.4" y="471.9" width="24.7" height="25.4" fill="#ffffff"/><rect x="96.5" y="471.9" width="24.7" height="25.4" fill="#ffffff"/><rect x="120.6" y="471.9" width="24.7" height="25.4" fill="#ffffff"/><rect x="144.8" y="471.9" width="24.7" height="25.4" fill="#a562b0"/><rect x="168.9" y="471.9" width="24.7" height="25.4" fill="#926eb5"/><rect x="193.0" y="471.9" width="24.7" height="25.4" fill="#6dafaf"/><rect x="217.1" y="471.9" width="24.7" height="25.4" fill="#79b0a9"/><rect x="241.2" y="471.9" width="24.7" height="25.4" fill="#6dafaf"/><rect x="265.4" y="471.9" width="24.7" height="25.4" fill="#97a3cf"/><rect x="289.5" y="471.9" width="24.7" height="25.4" fill="#9bd8e9"/><rect x="313.6" y="471.9" width="24.7" height="25.4" fill="#8476b9"/><rect x="337.8" y="471.9" width="24.7" height="25.4" fill="#9bd8e9"/><rect x="361.9" y="471.9" width="24.7" height="25.4" fill="#9bd8e9"/><rect x="386.0" y="471.9" width="24.7" height="25.4" fill="#9bd8e9"/><rect x="410.1" y="471.9" width="24.7" height="25.4" fill="#9bd8e9"/><rect x="434.2" y="471.9" width="24.7" height="25.4" fill="#9bd8e9"/><rect x="458.4" y="471.9" width="36.7" height="25.4" fill="#9bd8e9"/><rect x="-12.0" y="496.8" width="36.7" height="25.4" fill="#ffffff"/><rect x="24.1" y="496.8" width="24.7" height="25.4" fill="#ffffff"/><rect x="48.2" y="496.8" width="24.7" height="25.4" fill="#ffffff"/><rect x="72.4" y="496.8" width="24.7" height="25.4" fill="#ffffff"/><rect x="96.5" y="496.8" width="24.7" height="25.4" fill="#ffffff"/><rect x="120.6" y="496.8" width="24.7" height="25.4" fill="#ffffff"/><rect x="144.8" y="496.8" width="24.7" height="25.4" fill="#ffffff"/><rect x="168.9" y="496.8" width="24.7" height="25.4" fill="#ffffff"/><rect x="193.0" y="496.8" width="24.7" height="25.4" fill="#ffffff"/><rect x="217.1" y="496.8" width="24.7" height="25.4" fill="#ffffff"/><rect x="241.2" y="496.8" width="24.7" height="25.4" fill="#ceecf4"/><rect x="265.4" y="496.8" width="24.7" height="25.4" fill="#b0e0ee"/><rect x="289.5" y="496.8" width="24.7" height="25.4" fill="#9bd8e9"/><rect x="313.6" y="496.8" width="24.7" height="25.4" fill="#9bd8e9"/><rect x="337.8" y="496.8" width="24.7" height="25.4" fill="#9bd8e9"/><rect x="361.9" y="496.8" width="24.7" height="25.4" fill="#97a3cf"/><rect x="386.0" y="496.8" width="24.7" height="25.4" fill="#b0e0ee"/><rect x="410.1" y="496.8" width="24.7" height="25.4" fill="#ceecf4"/><rect x="434.2" y="496.8" width="24.7" height="25.4" fill="#a562b0"/><rect x="458.4" y="496.8" width="36.7" height="25.4" fill="#b0e0ee"/><rect x="-12.0" y="521.6" width="36.7" height="25.4" fill="#ffffff"/><rect x="24.1" y="521.6" width="24.7" height="25.4" fill="#ffffff"/><rect x="48.2" y="521.6" width="24.7" height="25.4" fill="#ffffff"/><rect x="72.4" y="521.6" width="24.7" height="25.4" fill="#ffffff"/><rect x="96.5" y="521.6" width="24.7" height="25.4" fill="#ffffff"/><rect x="120.6" y="521.6" width="24.7" height="25.4" fill="#ffffff"/><rect x="144.8" y="521.6" width="24.7" height="25.4" fill="#ffffff"/><rect x="168.9" y="521.6" width="24.7" height="25.4" fill="#ffffff"/><rect x="193.0" y="521.6" width="24.7" height="25.4" fill="#ffffff"/><rect x="217.1" y="521.6" width="24.7" height="25.4" fill="#ffffff"/><rect x="241.2" y="521.6" width="24.7" height="25.4" fill="#ceecf4"/><rect x="265.4" y="521.6" width="24.7" height="25.4" fill="#ceecf4"/><rect x="289.5" y="521.6" width="24.7" height="25.4" fill="#ceecf4"/><rect x="313.6" y="521.6" width="24.7" height="25.4" fill="#b0e0ee"/><rect x="337.8" y="521.6" width="24.7" height="25.4" fill="#b0e0ee"/><rect x="361.9" y="521.6" width="24.7" height="25.4" fill="#ffffff"/><rect x="386.0" y="521.6" width="24.7" height="25.4" fill="#ffffff"/><rect x="410.1" y="521.6" width="24.7" height="25.4" fill="#ffffff"/><rect x="434.2" y="521.6" width="24.7" height="25.4" fill="#ffffff"/><rect x="458.4" y="521.6" width="36.7" height="25.4" fill="#ffffff"/><rect x="-12.0" y="546.5" width="36.7" height="25.4" fill="#ffffff"/><rect x="24.1" y="546.5" width="24.7" height="25.4" fill="#ffffff"/><rect x="48.2" y="546.5" width="24.7" height="25.4" fill="#ffffff"/><rect x="72.4" y="546.5" width="24.7" height="25.4" fill="#ffffff"/><rect x="96.5" y="546.5" width="24.7" height="25.4" fill="#ffffff"/><rect x="120.6" y="546.5" width="24.7" height="25.4" fill="#ffffff"/><rect x="144.8" y="546.5" width="24.7" height="25.4" fill="#ffffff"/><rect x="168.9" y="546.5" width="24.7" height="25.4" fill="#ffffff"/><rect x="193.0" y="546.5" width="24.7" height="25.4" fill="#ffffff"/><rect x="217.1" y="546.5" width="24.7" height="25.4" fill="#ffffff"/><rect x="241.2" y="546.5" width="24.7" height="25.4" fill="#ffffff"/><rect x="265.4" y="546.5" width="24.7" height="25.4" fill="#ffffff"/><rect x="289.5" y="546.5" width="24.7" height="25.4" fill="#ffffff"/><rect x="313.6" y="546.5" width="24.7" height="25.4" fill="#ffffff"/><rect x="337.8" y="546.5" width="24.7" height="25.4" fill="#ffffff"/><rect x="361.9" y="546.5" width="24.7" height="25.4" fill="#ffffff"/><rect x="386.0" y="546.5" width="24.7" height="25.4" fill="#ffffff"/><rect x="410.1" y="546.5" width="24.7" height="25.4" fill="#ffffff"/><rect x="434.2" y="546.5" width="24.7" height="25.4" fill="#ffffff"/><rect x="458.4" y="546.5" width="36.7" height="25.4" fill="#ffffff"/><rect x="-12.0" y="571.3" width="36.7" height="25.4" fill="#ffffff"/><rect x="24.1" y="571.3" width="24.7" height="25.4" fill="#ffffff"/><rect x="48.2" y="571.3" width="24.7" height="25.4" fill="#ffffff"/><rect x="72.4" y="571.3" width="24.7" height="25.4" fill="#ffffff"/><rect x="96.5" y="571.3" width="24.7" height="25.4" fill="#ffffff"/><rect x="120.6" y="571.3" width="24.7" height="25.4" fill="#ffffff"/><rect x="144.8" y="571.3" width="24.7" height="25.4" fill="#ffffff"/><rect x="168.9" y="571.3" width="24.7" height="25.4" fill="#ffffff"/><rect x="193.0" y="571.3" width="24.7" height="25.4" fill="#ffffff"/><rect x="217.1" y="571.3" width="24.7" height="25.4" fill="#ffffff"/><rect x="241.2" y="571.3" width="24.7" height="25.4" fill="#ffffff"/><rect x="265.4" y="571.3" width="24.7" height="25.4" fill="#ffffff"/><rect x="289.5" y="571.3" width="24.7" height="25.4" fill="#ffffff"/><rect x="313.6" y="571.3" width="24.7" height="25.4" fill="#ffffff"/><rect x="337.8" y="571.3" width="24.7" height="25.4" fill="#ffffff"/><rect x="361.9" y="571.3" width="24.7" height="25.4" fill="#ffffff"/><rect x="386.0" y="571.3" width="24.7" height="25.4" fill="#ffffff"/><rect x="410.1" y="571.3" width="24.7" height="25.4" fill="#ffffff"/><rect x="434.2" y="571.3" width="24.7" height="25.4" fill="#ffffff"/><rect x="458.4" y="571.3" width="36.7" height="25.4" fill="#ffffff"/><rect x="-12.0" y="596.1" width="36.7" height="25.4" fill="#ffffff"/><rect x="24.1" y="596.1" width="24.7" height="25.4" fill="#ffffff"/><rect x="48.2" y="596.1" width="24.7" height="25.4" fill="#ffffff"/><rect x="72.4" y="596.1" width="24.7" height="25.4" fill="#ffffff"/><rect x="96.5" y="596.1" width="24.7" height="25.4" fill="#ffffff"/><rect x="120.6" y="596.1" width="24.7" height="25.4" fill="#ffffff"/><rect x="144.8" y="596.1" width="24.7" height="25.4" fill="#ffffff"/><rect x="168.9" y="596.1" width="24.7" height="25.4" fill="#ffffff"/><rect x="193.0" y="596.1" width="24.7" height="25.4" fill="#ffffff"/><rect x="217.1" y="596.1" width="24.7" height="25.4" fill="#ffffff"/><rect x="241.2" y="596.1" width="24.7" height="25.4" fill="#ffffff"/><rect x="265.4" y="596.1" width="24.7" height="25.4" fill="#ffffff"/><rect x="289.5" y="596.1" width="24.7" height="25.4" fill="#ffffff"/><rect x="313.6" y="596.1" width="24.7" height="25.4" fill="#ffffff"/><rect x="337.8" y="596.1" width="24.7" height="25.4" fill="#ffffff"/><rect x="361.9" y="596.1" width="24.7" height="25.4" fill="#ffffff"/><rect x="386.0" y="596.1" width="24.7" height="25.4" fill="#ffffff"/><rect x="410.1" y="596.1" width="24.7" height="25.4" fill="#ffffff"/><rect x="434.2" y="596.1" width="24.7" height="25.4" fill="#ffffff"/><rect x="458.4" y="596.1" width="36.7" height="25.4" fill="#ffffff"/><rect x="-12.0" y="621.0" width="36.7" height="25.4" fill="#ffffff"/><rect x="24.1" y="621.0" width="24.7" height="25.4" fill="#ffffff"/><rect x="48.2" y="621.0" width="24.7" height="25.4" fill="#ffffff"/><rect x="72.4" y="621.0" width="24.7" height="25.4" fill="#ffffff"/><rect x="96.5" y="621.0" width="24.7" height="25.4" fill="#ffffff"/><rect x="120.6" y="621.0" width="24.7" height="25.4" fill="#ffffff"/><rect x="144.8" y="621.0" width="24.7" height="25.4" fill="#ffffff"/><rect x="168.9" y="621.0" width="24.7" height="25.4" fill="#ffffff"/><rect x="193.0" y="621.0" width="24.7" height="25.4" fill="#ffffff"/><rect x="217.1" y="621.0" width="24.7" height="25.4" fill="#ffffff"/><rect x="241.2" y="621.0" width="24.7" height="25.4" fill="#ffffff"/><rect x="265.4" y="621.0" width="24.7" height="25.4" fill="#ffffff"/><rect x="289.5" y="621.0" width="24.7" height="25.4" fill="#ffffff"/><rect x="313.6" y="621.0" width="24.7" height="25.4" fill="#ffffff"/><rect x="337.8" y="621.0" width="24.7" height="25.4" fill="#ffffff"/><rect x="361.9" y="621.0" width="24.7" height="25.4" fill="#ffffff"/><rect x="386.0" y="621.0" width="24.7" height="25.4" fill="#ffffff"/><rect x="410.1" y="621.0" width="24.7" height="25.4" fill="#ffffff"/><rect x="434.2" y="621.0" width="24.7" height="25.4" fill="#ffffff"/><rect x="458.4" y="621.0" width="36.7" height="25.4" fill="#ffffff"/><rect x="-12.0" y="645.8" width="36.7" height="25.4" fill="#ffffff"/><rect x="24.1" y="645.8" width="24.7" height="25.4" fill="#ffffff"/><rect x="48.2" y="645.8" width="24.7" height="25.4" fill="#ffffff"/><rect x="72.4" y="645.8" width="24.7" height="25.4" fill="#ffffff"/><rect x="96.5" y="645.8" width="24.7" height="25.4" fill="#ffffff"/><rect x="120.6" y="645.8" width="24.7" height="25.4" fill="#ffffff"/><rect x="144.8" y="645.8" width="24.7" height="25.4" fill="#ffffff"/><rect x="168.9" y="645.8" width="24.7" height="25.4" fill="#ffffff"/><rect x="193.0" y="645.8" width="24.7" height="25.4" fill="#ffffff"/><rect x="217.1" y="645.8" width="24.7" height="25.4" fill="#ffffff"/><rect x="241.2" y="645.8" width="24.7" height="25.4" fill="#ffffff"/><rect x="265.4" y="645.8" width="24.7" height="25.4" fill="#ffffff"/><rect x="289.5" y="645.8" width="24.7" height="25.4" fill="#ffffff"/><rect x="313.6" y="645.8" width="24.7" height="25.4" fill="#ffffff"/><rect x="337.8" y="645.8" width="24.7" height="25.4" fill="#ffffff"/><rect x="361.9" y="645.8" width="24.7" height="25.4" fill="#ffffff"/><rect x="386.0" y="645.8" width="24.7" height="25.4" fill="#ffffff"/><rect x="410.1" y="645.8" width="24.7" height="25.4" fill="#ffffff"/><rect x="434.2" y="645.8" width="24.7" height="25.4" fill="#ffffff"/><rect x="458.4" y="645.8" width="36.7" height="25.4" fill="#ffffff"/><rect x="-12.0" y="670.7" width="36.7" height="37.4" fill="#ffffff"/><rect x="24.1" y="670.7" width="24.7" height="37.4" fill="#ffffff"/><rect x="48.2" y="670.7" width="24.7" height="37.4" fill="#ffffff"/><rect x="72.4" y="670.7" width="24.7" height="37.4" fill="#ffffff"/><rect x="96.5" y="670.7" width="24.7" height="37.4" fill="#ffffff"/><rect x="120.6" y="670.7" width="24.7" height="37.4" fill="#ffffff"/><rect x="144.8" y="670.7" width="24.7" height="37.4" fill="#ffffff"/><rect x="168.9" y="670.7" width="24.7" height="37.4" fill="#ffffff"/><rect x="193.0" y="670.7" width="24.7" height="37.4" fill="#ffffff"/><rect x="217.1" y="670.7" width="24.7" height="37.4" fill="#ffffff"/><rect x="241.2" y="670.7" width="24.7" height="37.4" fill="#ffffff"/><rect x="265.4" y="670.7" width="24.7" height="37.4" fill="#ffffff"/><rect x="289.5" y="670.7" width="24.7" height="37.4" fill="#ffffff"/><rect x="313.6" y="670.7" width="24.7" height="37.4" fill="#ffffff"/><rect x="337.8" y="670.7" width="24.7" height="37.4" fill="#ffffff"/><rect x="361.9" y="670.7" width="24.7" height="37.4" fill="#ffffff"/><rect x="386.0" y="670.7" width="24.7" height="37.4" fill="#ffffff"/><rect x="410.1" y="670.7" width="24.7" height="37.4" fill="#ffffff"/><rect x="434.2" y="670.7" width="24.7" height="37.4" fill="#ffffff"/><rect x="458.4" y="670.7" width="36.7" height="37.4" fill="#ffffff"/></g>
<path d="M0.0,313.6 L9.1,323.1 L14.2,317.1 L21.1,315.4 L24.6,306.7 L25.4,299.8 L31.5,306.7 L40.1,311.9 L46.1,312.8 L57.3,310.2 L66.0,315.4 L69.4,310.2 L81.5,310.2 L90.1,317.1 L88.4,321.4 L100.4,324.0 L107.3,339.5 L116.0,343.8 L109.1,334.3 L110.8,322.3 L124.6,324.8 L134.9,324.8 L150.4,326.6 L159.1,334.3 L172.9,337.8 L178.0,339.5 L183.2,351.6 L179.8,365.4 L178.0,370.5 L169.4,368.8 L179.8,379.2 L181.5,392.9 L179.8,399.8 L167.7,410.2 L160.8,417.1 L155.6,424.0 L147.0,425.7 L145.3,434.3 L140.1,448.1 L133.2,455.0 L143.6,455.0 L148.7,461.9 L147.0,468.8 L155.6,482.6 L160.8,499.8 L166.0,513.6 L169.4,520.5 L178.0,513.6 L184.9,515.4 L181.5,522.3 L184.9,527.4 L179.8,530.9 L169.4,527.4 L160.8,530.9 L159.1,536.1 L159.1,541.5 L161.0,568.5 L159.1,580.1 L166.8,591.7 L176.5,607.1 L188.1,626.4 L199.6,641.9 L222.8,657.3 L233.0,662.9 L239.9,666.4 L250.2,675.0 L258.9,678.5 L272.7,683.6 L277.8,690.5 L282.0,695.5 L0.0,695.5 Z" fill="#ecf0dc" stroke="#1a1a1a" stroke-width="0.8"/>
<path d="M285.6,695.5 L281.3,683.6 L274.4,679.3 L278.7,676.7 L281.3,669.8 L279.6,659.5 L276.1,649.2 L267.5,644.0 L259.7,632.8 L267.5,642.3 L277.8,648.3 L284.7,656.1 L291.6,659.5 L296.8,662.9 L302.0,661.2 L308.9,656.1 L320.9,650.9 L324.4,645.7 L327.8,631.9 L331.3,628.5 L329.6,621.6 L325.2,613.8 L331.3,612.1 L350.2,618.1 L360.6,623.3 L359.7,614.7 L357.1,606.1 L364.0,600.9 L374.4,602.6 L372.7,595.7 L366.6,580.2 L367.5,574.2 L360.6,562.9 L355.4,552.6 L357.1,549.2 L369.2,547.4 L362.3,542.3 L355.4,535.4 L353.7,528.5 L358.9,523.3 L365.8,512.9 L369.2,518.1 L377.8,521.6 L383.0,528.5 L388.2,537.1 L393.3,545.7 L395.1,550.9 L403.7,550.9 L412.3,550.9 L417.5,557.8 L422.7,547.4 L427.8,540.5 L424.4,535.4 L433.0,530.2 L441.6,525.0 L452.0,523.3 L460.6,528.5 L464.0,538.8 L472.7,535.4 L482.5,532.8 L482.5,695.5 Z" fill="#ecf0dc" stroke="#1a1a1a" stroke-width="0.8"/>
<path d="M322.7,541.9 L328.7,549.2 L333.9,562.9 L334.7,574.2 L329.6,575.9 L322.7,569.8 L317.5,561.2 L315.4,552.6 L318.3,544.0 Z" fill="#ecf0dc" stroke="#1a1a1a" stroke-width="0.8"/>
<path d="M302.0,604.5 L306.0,605.5 L310.0,610.5 L312.3,616.4 L309.0,616.5 L304.0,611.5 Z" fill="#ecf0dc" stroke="#1a1a1a" stroke-width="0.8"/>
<path d="M290.0,643.5 L293.0,642.5 L295.0,647.5 L294.0,650.5 L291.0,649.5 Z" fill="#ecf0dc" stroke="#1a1a1a" stroke-width="0.8"/>
<path d="M177.0,492.5 L187.0,493.5 L192.0,497.5 L189.0,503.5 L183.0,506.5 L177.0,501.5 Z" fill="#ecf0dc" stroke="#1a1a1a" stroke-width="0.8"/>
<path d="M346.0,581.1 L348.5,582.5 L351.1,590.5 L350.0,591.5 L347.5,587.5 Z" fill="#ecf0dc" stroke="#1a1a1a" stroke-width="0.8"/>
<path d="M313.2,622.5 L314.8,623.5 L315.8,631.5 L314.2,631.5 Z" fill="#ecf0dc" stroke="#1a1a1a" stroke-width="0.8"/>
<g fill="none" stroke="#6e7268" stroke-width="1.0" stroke-dasharray="1.3,1.5" opacity="0.75"><circle cx="233.0" cy="816.5" r="777.1"/><circle cx="233.0" cy="816.5" r="642.9"/><circle cx="233.0" cy="816.5" r="511.3"/><circle cx="233.0" cy="816.5" r="381.8"/><circle cx="233.0" cy="816.5" r="253.7"/><circle cx="233.0" cy="816.5" r="126.6"/><line x1="233.0" y1="816.5" x2="-1684.6" y2="248.5"/><line x1="233.0" y1="816.5" x2="-1395.2" y2="-344.9"/><line x1="233.0" y1="816.5" x2="-928.4" y2="-811.7"/><line x1="233.0" y1="816.5" x2="-325.0" y2="-1104.1"/><line x1="233.0" y1="816.5" x2="320.2" y2="-1181.6"/><line x1="233.0" y1="816.5" x2="951.4" y2="-1050.0"/><line x1="233.0" y1="816.5" x2="1531.9" y2="-704.3"/><line x1="233.0" y1="816.5" x2="1956.3" y2="-198.6"/><line x1="233.0" y1="816.5" x2="2192.8" y2="417.8"/></g>
</g>
<rect x="0" y="0" width="482.5" height="695.5" fill="none" stroke="#111" stroke-width="1.2"/>
</g>
<g transform="translate(791.3,40.7)">
<g clip-path="url(#clipb)">
<rect width="481.5" height="695.5" fill="#fff"/>
<g filter="url(#blur)"><rect x="-12.0" y="-12.0" width="36.7" height="37.4" fill="#8e399b"/><rect x="24.1" y="-12.0" width="24.7" height="37.4" fill="#8e399b"/><rect x="48.1" y="-12.0" width="24.7" height="37.4" fill="#8e399b"/><rect x="72.2" y="-12.0" width="24.7" height="37.4" fill="#aba1cf"/><rect x="96.3" y="-12.0" width="24.7" height="37.4" fill="#a562b0"/><rect x="120.4" y="-12.0" width="24.7" height="37.4" fill="#aba1cf"/><rect x="144.4" y="-12.0" width="24.7" height="37.4" fill="#aba1cf"/><rect x="168.5" y="-12.0" width="24.7" height="37.4" fill="#aba1cf"/><rect x="192.6" y="-12.0" width="24.7" height="37.4" fill="#8e399b"/><rect x="216.7" y="-12.0" width="24.7" height="37.4" fill="#7d1b8c"/><rect x="240.8" y="-12.0" width="24.7" height="37.4" fill="#7d1b8c"/><rect x="264.8" y="-12.0" width="24.7" height="37.4" fill="#7d1b8c"/><rect x="288.9" y="-12.0" width="24.7" height="37.4" fill="#7d1b8c"/><rect x="313.0" y="-12.0" width="24.7" height="37.4" fill="#7d1b8c"/><rect x="337.1" y="-12.0" width="24.7" height="37.4" fill="#7d1b8c"/><rect x="361.1" y="-12.0" width="24.7" height="37.4" fill="#7d1b8c"/><rect x="385.2" y="-12.0" width="24.7" height="37.4" fill="#7d1b8c"/><rect x="409.3" y="-12.0" width="24.7" height="37.4" fill="#7d1b8c"/><rect x="433.3" y="-12.0" width="24.7" height="37.4" fill="#7d1b8c"/><rect x="457.4" y="-12.0" width="36.7" height="37.4" fill="#7d1b8c"/><rect x="-12.0" y="24.8" width="36.7" height="25.4" fill="#a562b0"/><rect x="24.1" y="24.8" width="24.7" height="25.4" fill="#8e399b"/><rect x="48.1" y="24.8" width="24.7" height="25.4" fill="#8e399b"/><rect x="72.2" y="24.8" width="24.7" height="25.4" fill="#8e399b"/><rect x="96.3" y="24.8" width="24.7" height="25.4" fill="#8e399b"/><rect x="120.4" y="24.8" width="24.7" height="25.4" fill="#8e399b"/><rect x="144.4" y="24.8" width="24.7" height="25.4" fill="#8e399b"/><rect x="168.5" y="24.8" width="24.7" height="25.4" fill="#7d1b8c"/><rect x="192.6" y="24.8" width="24.7" height="25.4" fill="#7d1b8c"/><rect x="216.7" y="24.8" width="24.7" height="25.4" fill="#7d1b8c"/><rect x="240.8" y="24.8" width="24.7" height="25.4" fill="#7d1b8c"/><rect x="264.8" y="24.8" width="24.7" height="25.4" fill="#7d1b8c"/><rect x="288.9" y="24.8" width="24.7" height="25.4" fill="#7d1b8c"/><rect x="313.0" y="24.8" width="24.7" height="25.4" fill="#7d1b8c"/><rect x="337.1" y="24.8" width="24.7" height="25.4" fill="#7d1b8c"/><rect x="361.1" y="24.8" width="24.7" height="25.4" fill="#7d1b8c"/><rect x="385.2" y="24.8" width="24.7" height="25.4" fill="#7d1b8c"/><rect x="409.3" y="24.8" width="24.7" height="25.4" fill="#8e399b"/><rect x="433.3" y="24.8" width="24.7" height="25.4" fill="#a562b0"/><rect x="457.4" y="24.8" width="36.7" height="25.4" fill="#8e399b"/><rect x="-12.0" y="49.7" width="36.7" height="25.4" fill="#a562b0"/><rect x="24.1" y="49.7" width="24.7" height="25.4" fill="#8e399b"/><rect x="48.1" y="49.7" width="24.7" height="25.4" fill="#7d1b8c"/><rect x="72.2" y="49.7" width="24.7" height="25.4" fill="#7d1b8c"/><rect x="96.3" y="49.7" width="24.7" height="25.4" fill="#8e399b"/><rect x="120.4" y="49.7" width="24.7" height="25.4" fill="#7d1b8c"/><rect x="144.4" y="49.7" width="24.7" height="25.4" fill="#8e399b"/><rect x="168.5" y="49.7" width="24.7" height="25.4" fill="#7d1b8c"/><rect x="192.6" y="49.7" width="24.7" height="25.4" fill="#7d1b8c"/><rect x="216.7" y="49.7" width="24.7" height="25.4" fill="#7d1b8c"/><rect x="240.8" y="49.7" width="24.7" height="25.4" fill="#7d1b8c"/><rect x="264.8" y="49.7" width="24.7" height="25.4" fill="#7d1b8c"/><rect x="288.9" y="49.7" width="24.7" height="25.4" fill="#7d1b8c"/><rect x="313.0" y="49.7" width="24.7" height="25.4" fill="#7d1b8c"/><rect x="337.1" y="49.7" width="24.7" height="25.4" fill="#7d1b8c"/><rect x="361.1" y="49.7" width="24.7" height="25.4" fill="#8e399b"/><rect x="385.2" y="49.7" width="24.7" height="25.4" fill="#a868b2"/><rect x="409.3" y="49.7" width="24.7" height="25.4" fill="#a868b2"/><rect x="433.3" y="49.7" width="24.7" height="25.4" fill="#c49acb"/><rect x="457.4" y="49.7" width="36.7" height="25.4" fill="#a868b2"/><rect x="-12.0" y="74.5" width="36.7" height="25.4" fill="#8e399b"/><rect x="24.1" y="74.5" width="24.7" height="25.4" fill="#7d1b8c"/><rect x="48.1" y="74.5" width="24.7" height="25.4" fill="#8e399b"/><rect x="72.2" y="74.5" width="24.7" height="25.4" fill="#8e399b"/><rect x="96.3" y="74.5" width="24.7" height="25.4" fill="#8e399b"/><rect x="120.4" y="74.5" width="24.7" height="25.4" fill="#8e399b"/><rect x="144.4" y="74.5" width="24.7" height="25.4" fill="#8e399b"/><rect x="168.5" y="74.5" width="24.7" height="25.4" fill="#8e399b"/><rect x="192.6" y="74.5" width="24.7" height="25.4" fill="#7d1b8c"/><rect x="216.7" y="74.5" width="24.7" height="25.4" fill="#7d1b8c"/><rect x="240.8" y="74.5" width="24.7" height="25.4" fill="#7d1b8c"/><rect x="264.8" y="74.5" width="24.7" height="25.4" fill="#7d1b8c"/><rect x="288.9" y="74.5" width="24.7" height="25.4" fill="#8e399b"/><rect x="313.0" y="74.5" width="24.7" height="25.4" fill="#8e399b"/><rect x="337.1" y="74.5" width="24.7" height="25.4" fill="#a562b0"/><rect x="361.1" y="74.5" width="24.7" height="25.4" fill="#8e399b"/><rect x="385.2" y="74.5" width="24.7" height="25.4" fill="#a868b2"/><rect x="409.3" y="74.5" width="24.7" height="25.4" fill="#a868b2"/><rect x="433.3" y="74.5" width="24.7" height="25.4" fill="#a868b2"/><rect x="457.4" y="74.5" width="36.7" height="25.4" fill="#8e399b"/><rect x="-12.0" y="99.4" width="36.7" height="25.4" fill="#a868b2"/><rect x="24.1" y="99.4" width="24.7" height="25.4" fill="#c66596"/><rect x="48.1" y="99.4" width="24.7" height="25.4" fill="#c53d70"/><rect x="72.2" y="99.4" width="24.7" height="25.4" fill="#c46a9c"/><rect x="96.3" y="99.4" width="24.7" height="25.4" fill="#c297c9"/><rect x="120.4" y="99.4" width="24.7" height="25.4" fill="#c297c9"/><rect x="144.4" y="99.4" width="24.7" height="25.4" fill="#c297c9"/><rect x="168.5" y="99.4" width="24.7" height="25.4" fill="#a868b2"/><rect x="192.6" y="99.4" width="24.7" height="25.4" fill="#8e399b"/><rect x="216.7" y="99.4" width="24.7" height="25.4" fill="#8e399b"/><rect x="240.8" y="99.4" width="24.7" height="25.4" fill="#7d1b8c"/><rect x="264.8" y="99.4" width="24.7" height="25.4" fill="#8e399b"/><rect x="288.9" y="99.4" width="24.7" height="25.4" fill="#8e399b"/><rect x="313.0" y="99.4" width="24.7" height="25.4" fill="#a868b2"/><rect x="337.1" y="99.4" width="24.7" height="25.4" fill="#c297c9"/><rect x="361.1" y="99.4" width="24.7" height="25.4" fill="#c297c9"/><rect x="385.2" y="99.4" width="24.7" height="25.4" fill="#c297c9"/><rect x="409.3" y="99.4" width="24.7" height="25.4" fill="#dcc6e1"/><rect x="433.3" y="99.4" width="24.7" height="25.4" fill="#c297c9"/><rect x="457.4" y="99.4" width="36.7" height="25.4" fill="#c297c9"/><rect x="-12.0" y="124.2" width="36.7" height="25.4" fill="#97a3cf"/><rect x="24.1" y="124.2" width="24.7" height="25.4" fill="#aba1cf"/><rect x="48.1" y="124.2" width="24.7" height="25.4" fill="#926eb5"/><rect x="72.2" y="124.2" width="24.7" height="25.4" fill="#c66596"/><rect x="96.3" y="124.2" width="24.7" height="25.4" fill="#a93b85"/><rect x="120.4" y="124.2" width="24.7" height="25.4" fill="#c49acb"/><rect x="144.4" y="124.2" width="24.7" height="25.4" fill="#c46a9c"/><rect x="168.5" y="124.2" width="24.7" height="25.4" fill="#c66596"/><rect x="192.6" y="124.2" width="24.7" height="25.4" fill="#a93b85"/><rect x="216.7" y="124.2" width="24.7" height="25.4" fill="#8e399b"/><rect x="240.8" y="124.2" width="24.7" height="25.4" fill="#8e399b"/><rect x="264.8" y="124.2" width="24.7" height="25.4" fill="#8e399b"/><rect x="288.9" y="124.2" width="24.7" height="25.4" fill="#c297c9"/><rect x="313.0" y="124.2" width="24.7" height="25.4" fill="#c297c9"/><rect x="337.1" y="124.2" width="24.7" height="25.4" fill="#de9ab4"/><rect x="361.1" y="124.2" width="24.7" height="25.4" fill="#df6d87"/><rect x="385.2" y="124.2" width="24.7" height="25.4" fill="#df6d87"/><rect x="409.3" y="124.2" width="24.7" height="25.4" fill="#df6d87"/><rect x="433.3" y="124.2" width="24.7" height="25.4" fill="#c53d70"/><rect x="457.4" y="124.2" width="36.7" height="25.4" fill="#c53d70"/><rect x="-12.0" y="149.0" width="36.7" height="25.4" fill="#97a3cf"/><rect x="24.1" y="149.0" width="24.7" height="25.4" fill="#808fb2"/><rect x="48.1" y="149.0" width="24.7" height="25.4" fill="#aba1cf"/><rect x="72.2" y="149.0" width="24.7" height="25.4" fill="#a562b0"/><rect x="96.3" y="149.0" width="24.7" height="25.4" fill="#aba1cf"/><rect x="120.4" y="149.0" width="24.7" height="25.4" fill="#c66596"/><rect x="144.4" y="149.0" width="24.7" height="25.4" fill="#a93b85"/><rect x="168.5" y="149.0" width="24.7" height="25.4" fill="#c66596"/><rect x="192.6" y="149.0" width="24.7" height="25.4" fill="#a93b85"/><rect x="216.7" y="149.0" width="24.7" height="25.4" fill="#8e399b"/><rect x="240.8" y="149.0" width="24.7" height="25.4" fill="#8e399b"/><rect x="264.8" y="149.0" width="24.7" height="25.4" fill="#8e399b"/><rect x="288.9" y="149.0" width="24.7" height="25.4" fill="#a868b2"/><rect x="313.0" y="149.0" width="24.7" height="25.4" fill="#e3d2e7"/><rect x="337.1" y="149.0" width="24.7" height="25.4" fill="#e59db1"/><rect x="361.1" y="149.0" width="24.7" height="25.4" fill="#a93b85"/><rect x="385.2" y="149.0" width="24.7" height="25.4" fill="#8e399b"/><rect x="409.3" y="149.0" width="24.7" height="25.4" fill="#8e399b"/><rect x="433.3" y="149.0" width="24.7" height="25.4" fill="#951d79"/><rect x="457.4" y="149.0" width="36.7" height="25.4" fill="#a93b85"/><rect x="-12.0" y="173.9" width="36.7" height="25.4" fill="#926eb5"/><rect x="24.1" y="173.9" width="24.7" height="25.4" fill="#8e399b"/><rect x="48.1" y="173.9" width="24.7" height="25.4" fill="#8149a2"/><rect x="72.2" y="173.9" width="24.7" height="25.4" fill="#926eb5"/><rect x="96.3" y="173.9" width="24.7" height="25.4" fill="#97a3cf"/><rect x="120.4" y="173.9" width="24.7" height="25.4" fill="#8e399b"/><rect x="144.4" y="173.9" width="24.7" height="25.4" fill="#a562b0"/><rect x="168.5" y="173.9" width="24.7" height="25.4" fill="#8e399b"/><rect x="192.6" y="173.9" width="24.7" height="25.4" fill="#a562b0"/><rect x="216.7" y="173.9" width="24.7" height="25.4" fill="#c89ece"/><rect x="240.8" y="173.9" width="24.7" height="25.4" fill="#a562b0"/><rect x="264.8" y="173.9" width="24.7" height="25.4" fill="#a562b0"/><rect x="288.9" y="173.9" width="24.7" height="25.4" fill="#c89ece"/><rect x="313.0" y="173.9" width="24.7" height="25.4" fill="#8e399b"/><rect x="337.1" y="173.9" width="24.7" height="25.4" fill="#8e399b"/><rect x="361.1" y="173.9" width="24.7" height="25.4" fill="#8e399b"/><rect x="385.2" y="173.9" width="24.7" height="25.4" fill="#7d1b8c"/><rect x="409.3" y="173.9" width="24.7" height="25.4" fill="#8e399b"/><rect x="433.3" y="173.9" width="24.7" height="25.4" fill="#8e399b"/><rect x="457.4" y="173.9" width="36.7" height="25.4" fill="#8e399b"/><rect x="-12.0" y="198.7" width="36.7" height="25.4" fill="#aba1cf"/><rect x="24.1" y="198.7" width="24.7" height="25.4" fill="#c89ece"/><rect x="48.1" y="198.7" width="24.7" height="25.4" fill="#a562b0"/><rect x="72.2" y="198.7" width="24.7" height="25.4" fill="#8e399b"/><rect x="96.3" y="198.7" width="24.7" height="25.4" fill="#8e399b"/><rect x="120.4" y="198.7" width="24.7" height="25.4" fill="#7d1b8c"/><rect x="144.4" y="198.7" width="24.7" height="25.4" fill="#8e399b"/><rect x="168.5" y="198.7" width="24.7" height="25.4" fill="#8e399b"/><rect x="192.6" y="198.7" width="24.7" height="25.4" fill="#a562b0"/><rect x="216.7" y="198.7" width="24.7" height="25.4" fill="#a562b0"/><rect x="240.8" y="198.7" width="24.7" height="25.4" fill="#a562b0"/><rect x="264.8" y="198.7" width="24.7" height="25.4" fill="#c89ece"/><rect x="288.9" y="198.7" width="24.7" height="25.4" fill="#c89ece"/><rect x="313.0" y="198.7" width="24.7" height="25.4" fill="#a562b0"/><rect x="337.1" y="198.7" width="24.7" height="25.4" fill="#8e399b"/><rect x="361.1" y="198.7" width="24.7" height="25.4" fill="#8e399b"/><rect x="385.2" y="198.7" width="24.7" height="25.4" fill="#8e399b"/><rect x="409.3" y="198.7" width="24.7" height="25.4" fill="#8e399b"/><rect x="433.3" y="198.7" width="24.7" height="25.4" fill="#8e399b"/><rect x="457.4" y="198.7" width="36.7" height="25.4" fill="#8e399b"/><rect x="-12.0" y="223.6" width="36.7" height="25.4" fill="#c89ece"/><rect x="24.1" y="223.6" width="24.7" height="25.4" fill="#eee3f0"/><rect x="48.1" y="223.6" width="24.7" height="25.4" fill="#eee3f0"/><rect x="72.2" y="223.6" width="24.7" height="25.4" fill="#c49acb"/><rect x="96.3" y="223.6" width="24.7" height="25.4" fill="#c49acb"/><rect x="120.4" y="223.6" width="24.7" height="25.4" fill="#a562b0"/><rect x="144.4" y="223.6" width="24.7" height="25.4" fill="#a562b0"/><rect x="168.5" y="223.6" width="24.7" height="25.4" fill="#a562b0"/><rect x="192.6" y="223.6" width="24.7" height="25.4" fill="#c89ece"/><rect x="216.7" y="223.6" width="24.7" height="25.4" fill="#c89ece"/><rect x="240.8" y="223.6" width="24.7" height="25.4" fill="#aba1cf"/><rect x="264.8" y="223.6" width="24.7" height="25.4" fill="#c89ece"/><rect x="288.9" y="223.6" width="24.7" height="25.4" fill="#a562b0"/><rect x="313.0" y="223.6" width="24.7" height="25.4" fill="#8e399b"/><rect x="337.1" y="223.6" width="24.7" height="25.4" fill="#8e399b"/><rect x="361.1" y="223.6" width="24.7" height="25.4" fill="#a562b0"/><rect x="385.2" y="223.6" width="24.7" height="25.4" fill="#a562b0"/><rect x="409.3" y="223.6" width="24.7" height="25.4" fill="#8e399b"/><rect x="433.3" y="223.6" width="24.7" height="25.4" fill="#8e399b"/><rect x="457.4" y="223.6" width="36.7" height="25.4" fill="#8e399b"/><rect x="-12.0" y="248.4" width="36.7" height="25.4" fill="#c89ece"/><rect x="24.1" y="248.4" width="24.7" height="25.4" fill="#ffffff"/><rect x="48.1" y="248.4" width="24.7" height="25.4" fill="#eee3f0"/><rect x="72.2" y="248.4" width="24.7" height="25.4" fill="#e3d2e7"/><rect x="96.3" y="248.4" width="24.7" height="25.4" fill="#e3d2e7"/><rect x="120.4" y="248.4" width="24.7" height="25.4" fill="#eee3f0"/><rect x="144.4" y="248.4" width="24.7" height="25.4" fill="#e3d2e7"/><rect x="168.5" y="248.4" width="24.7" height="25.4" fill="#e3d2e7"/><rect x="192.6" y="248.4" width="24.7" height="25.4" fill="#e3d2e7"/><rect x="216.7" y="248.4" width="24.7" height="25.4" fill="#eee3f0"/><rect x="240.8" y="248.4" width="24.7" height="25.4" fill="#e3d2e7"/><rect x="264.8" y="248.4" width="24.7" height="25.4" fill="#e59db1"/><rect x="288.9" y="248.4" width="24.7" height="25.4" fill="#a868b2"/><rect x="313.0" y="248.4" width="24.7" height="25.4" fill="#a562b0"/><rect x="337.1" y="248.4" width="24.7" height="25.4" fill="#a562b0"/><rect x="361.1" y="248.4" width="24.7" height="25.4" fill="#c49acb"/><rect x="385.2" y="248.4" width="24.7" height="25.4" fill="#e3d2e7"/><rect x="409.3" y="248.4" width="24.7" height="25.4" fill="#a562b0"/><rect x="433.3" y="248.4" width="24.7" height="25.4" fill="#8e399b"/><rect x="457.4" y="248.4" width="36.7" height="25.4" fill="#a562b0"/><rect x="-12.0" y="273.2" width="36.7" height="25.4" fill="#ffffff"/><rect x="24.1" y="273.2" width="24.7" height="25.4" fill="#ffffff"/><rect x="48.1" y="273.2" width="24.7" height="25.4" fill="#eee3f0"/><rect x="72.2" y="273.2" width="24.7" height="25.4" fill="#e3d2e7"/><rect x="96.3" y="273.2" width="24.7" height="25.4" fill="#c297c9"/><rect x="120.4" y="273.2" width="24.7" height="25.4" fill="#e3d2e7"/><rect x="144.4" y="273.2" width="24.7" height="25.4" fill="#e3d2e7"/><rect x="168.5" y="273.2" width="24.7" height="25.4" fill="#c49acb"/><rect x="192.6" y="273.2" width="24.7" height="25.4" fill="#e3d2e7"/><rect x="216.7" y="273.2" width="24.7" height="25.4" fill="#e3d2e7"/><rect x="240.8" y="273.2" width="24.7" height="25.4" fill="#e3d2e7"/><rect x="264.8" y="273.2" width="24.7" height="25.4" fill="#c53d70"/><rect x="288.9" y="273.2" width="24.7" height="25.4" fill="#c89ece"/><rect x="313.0" y="273.2" width="24.7" height="25.4" fill="#a562b0"/><rect x="337.1" y="273.2" width="24.7" height="25.4" fill="#a562b0"/><rect x="361.1" y="273.2" width="24.7" height="25.4" fill="#c49acb"/><rect x="385.2" y="273.2" width="24.7" height="25.4" fill="#a562b0"/><rect x="409.3" y="273.2" width="24.7" height="25.4" fill="#a562b0"/><rect x="433.3" y="273.2" width="24.7" height="25.4" fill="#8e399b"/><rect x="457.4" y="273.2" width="36.7" height="25.4" fill="#a562b0"/><rect x="-12.0" y="298.1" width="36.7" height="25.4" fill="#ffffff"/><rect x="24.1" y="298.1" width="24.7" height="25.4" fill="#ffffff"/><rect x="48.1" y="298.1" width="24.7" height="25.4" fill="#c89ece"/><rect x="72.2" y="298.1" width="24.7" height="25.4" fill="#e7677c"/><rect x="96.3" y="298.1" width="24.7" height="25.4" fill="#e7677c"/><rect x="120.4" y="298.1" width="24.7" height="25.4" fill="#c66596"/><rect x="144.4" y="298.1" width="24.7" height="25.4" fill="#a868b2"/><rect x="168.5" y="298.1" width="24.7" height="25.4" fill="#8e399b"/><rect x="192.6" y="298.1" width="24.7" height="25.4" fill="#a868b2"/><rect x="216.7" y="298.1" width="24.7" height="25.4" fill="#e3d2e7"/><rect x="240.8" y="298.1" width="24.7" height="25.4" fill="#e3d2e7"/><rect x="264.8" y="298.1" width="24.7" height="25.4" fill="#e7677c"/><rect x="288.9" y="298.1" width="24.7" height="25.4" fill="#f0a1ae"/><rect x="313.0" y="298.1" width="24.7" height="25.4" fill="#c49acb"/><rect x="337.1" y="298.1" width="24.7" height="25.4" fill="#a562b0"/><rect x="361.1" y="298.1" width="24.7" height="25.4" fill="#8e399b"/><rect x="385.2" y="298.1" width="24.7" height="25.4" fill="#a562b0"/><rect x="409.3" y="298.1" width="24.7" height="25.4" fill="#a562b0"/><rect x="433.3" y="298.1" width="24.7" height="25.4" fill="#a562b0"/><rect x="457.4" y="298.1" width="36.7" height="25.4" fill="#a562b0"/><rect x="-12.0" y="322.9" width="36.7" height="25.4" fill="#ffffff"/><rect x="24.1" y="322.9" width="24.7" height="25.4" fill="#ffffff"/><rect x="48.1" y="322.9" width="24.7" height="25.4" fill="#ffffff"/><rect x="72.2" y="322.9" width="24.7" height="25.4" fill="#ffffff"/><rect x="96.3" y="322.9" width="24.7" height="25.4" fill="#ffffff"/><rect x="120.4" y="322.9" width="24.7" height="25.4" fill="#ffffff"/><rect x="144.4" y="322.9" width="24.7" height="25.4" fill="#c66596"/><rect x="168.5" y="322.9" width="24.7" height="25.4" fill="#a562b0"/><rect x="192.6" y="322.9" width="24.7" height="25.4" fill="#8e399b"/><rect x="216.7" y="322.9" width="24.7" height="25.4" fill="#c49acb"/><rect x="240.8" y="322.9" width="24.7" height="25.4" fill="#c89ece"/><rect x="264.8" y="322.9" width="24.7" height="25.4" fill="#c66596"/><rect x="288.9" y="322.9" width="24.7" height="25.4" fill="#e7677c"/><rect x="313.0" y="322.9" width="24.7" height="25.4" fill="#f0a1ae"/><rect x="337.1" y="322.9" width="24.7" height="25.4" fill="#c89ece"/><rect x="361.1" y="322.9" width="24.7" height="25.4" fill="#a562b0"/><rect x="385.2" y="322.9" width="24.7" height="25.4" fill="#8e399b"/><rect x="409.3" y="322.9" width="24.7" height="25.4" fill="#a562b0"/><rect x="433.3" y="322.9" width="24.7" height="25.4" fill="#c89ece"/><rect x="457.4" y="322.9" width="36.7" height="25.4" fill="#a562b0"/><rect x="-12.0" y="347.8" width="36.7" height="25.4" fill="#ffffff"/><rect x="24.1" y="347.8" width="24.7" height="25.4" fill="#ffffff"/><rect x="48.1" y="347.8" width="24.7" height="25.4" fill="#ffffff"/><rect x="72.2" y="347.8" width="24.7" height="25.4" fill="#ffffff"/><rect x="96.3" y="347.8" width="24.7" height="25.4" fill="#ffffff"/><rect x="120.4" y="347.8" width="24.7" height="25.4" fill="#ffffff"/><rect x="144.4" y="347.8" width="24.7" height="25.4" fill="#ffffff"/><rect x="168.5" y="347.8" width="24.7" height="25.4" fill="#a562b0"/><rect x="192.6" y="347.8" width="24.7" height="25.4" fill="#a562b0"/><rect x="216.7" y="347.8" width="24.7" height="25.4" fill="#c89ece"/><rect x="240.8" y="347.8" width="24.7" height="25.4" fill="#eee3f0"/><rect x="264.8" y="347.8" width="24.7" height="25.4" fill="#e7677c"/><rect x="288.9" y="347.8" width="24.7" height="25.4" fill="#c66596"/><rect x="313.0" y="347.8" width="24.7" height="25.4" fill="#e7677c"/><rect x="337.1" y="347.8" width="24.7" height="25.4" fill="#e7677c"/><rect x="361.1" y="347.8" width="24.7" height="25.4" fill="#f0a1ae"/><rect x="385.2" y="347.8" width="24.7" height="25.4" fill="#f0a1ae"/><rect x="409.3" y="347.8" width="24.7" height="25.4" fill="#f0a1ae"/><rect x="433.3" y="347.8" width="24.7" height="25.4" fill="#f0a1ae"/><rect x="457.4" y="347.8" width="36.7" height="25.4" fill="#f0a1ae"/><rect x="-12.0" y="372.6" width="36.7" height="25.4" fill="#ffffff"/><rect x="24.1" y="372.6" width="24.7" height="25.4" fill="#ffffff"/><rect x="48.1" y="372.6" width="24.7" height="25.4" fill="#ffffff"/><rect x="72.2" y="372.6" width="24.7" height="25.4" fill="#ffffff"/><rect x="96.3" y="372.6" width="24.7" height="25.4" fill="#ffffff"/><rect x="120.4" y="372.6" width="24.7" height="25.4" fill="#ffffff"/><rect x="144.4" y="372.6" width="24.7" height="25.4" fill="#ffffff"/><rect x="168.5" y="372.6" width="24.7" height="25.4" fill="#c66596"/><rect x="192.6" y="372.6" width="24.7" height="25.4" fill="#a562b0"/><rect x="216.7" y="372.6" width="24.7" height="25.4" fill="#c89ece"/><rect x="240.8" y="372.6" width="24.7" height="25.4" fill="#eee3f0"/><rect x="264.8" y="372.6" width="24.7" height="25.4" fill="#e7677c"/><rect x="288.9" y="372.6" width="24.7" height="25.4" fill="#a93b85"/><rect x="313.0" y="372.6" width="24.7" height="25.4" fill="#e7677c"/><rect x="337.1" y="372.6" width="24.7" height="25.4" fill="#e1405a"/><rect x="361.1" y="372.6" width="24.7" height="25.4" fill="#e1405a"/><rect x="385.2" y="372.6" width="24.7" height="25.4" fill="#e1405a"/><rect x="409.3" y="372.6" width="24.7" height="25.4" fill="#e1405a"/><rect x="433.3" y="372.6" width="24.7" height="25.4" fill="#e1405a"/><rect x="457.4" y="372.6" width="36.7" height="25.4" fill="#e7677c"/><rect x="-12.0" y="397.4" width="36.7" height="25.4" fill="#ffffff"/><rect x="24.1" y="397.4" width="24.7" height="25.4" fill="#ffffff"/><rect x="48.1" y="397.4" width="24.7" height="25.4" fill="#ffffff"/><rect x="72.2" y="397.4" width="24.7" height="25.4" fill="#ffffff"/><rect x="96.3" y="397.4" width="24.7" height="25.4" fill="#ffffff"/><rect x="120.4" y="397.4" width="24.7" height="25.4" fill="#ffffff"/><rect x="144.4" y="397.4" width="24.7" height="25.4" fill="#f0a1ae"/><rect x="168.5" y="397.4" width="24.7" height="25.4" fill="#e7677c"/><rect x="192.6" y="397.4" width="24.7" height="25.4" fill="#c89ece"/><rect x="216.7" y="397.4" width="24.7" height="25.4" fill="#c66596"/><rect x="240.8" y="397.4" width="24.7" height="25.4" fill="#e59db1"/><rect x="264.8" y="397.4" width="24.7" height="25.4" fill="#f0a1ae"/><rect x="288.9" y="397.4" width="24.7" height="25.4" fill="#a562b0"/><rect x="313.0" y="397.4" width="24.7" height="25.4" fill="#c89ece"/><rect x="337.1" y="397.4" width="24.7" height="25.4" fill="#f0a1ae"/><rect x="361.1" y="397.4" width="24.7" height="25.4" fill="#e7677c"/><rect x="385.2" y="397.4" width="24.7" height="25.4" fill="#f0a1ae"/><rect x="409.3" y="397.4" width="24.7" height="25.4" fill="#e7677c"/><rect x="433.3" y="397.4" width="24.7" height="25.4" fill="#e7677c"/><rect x="457.4" y="397.4" width="36.7" height="25.4" fill="#f0a1ae"/><rect x="-12.0" y="422.3" width="36.7" height="25.4" fill="#ffffff"/><rect x="24.1" y="422.3" width="24.7" height="25.4" fill="#ffffff"/><rect x="48.1" y="422.3" width="24.7" height="25.4" fill="#ffffff"/><rect x="72.2" y="422.3" width="24.7" height="25.4" fill="#ffffff"/><rect x="96.3" y="422.3" width="24.7" height="25.4" fill="#ffffff"/><rect x="120.4" y="422.3" width="24.7" height="25.4" fill="#ffffff"/><rect x="144.4" y="422.3" width="24.7" height="25.4" fill="#c89ece"/><rect x="168.5" y="422.3" width="24.7" height="25.4" fill="#c66596"/><rect x="192.6" y="422.3" width="24.7" height="25.4" fill="#8e399b"/><rect x="216.7" y="422.3" width="24.7" height="25.4" fill="#aba1cf"/><rect x="240.8" y="422.3" width="24.7" height="25.4" fill="#c49acb"/><rect x="264.8" y="422.3" width="24.7" height="25.4" fill="#c49acb"/><rect x="288.9" y="422.3" width="24.7" height="25.4" fill="#cad9ea"/><rect x="313.0" y="422.3" width="24.7" height="25.4" fill="#a562b0"/><rect x="337.1" y="422.3" width="24.7" height="25.4" fill="#c89ece"/><rect x="361.1" y="422.3" width="24.7" height="25.4" fill="#c89ece"/><rect x="385.2" y="422.3" width="24.7" height="25.4" fill="#f0a1ae"/><rect x="409.3" y="422.3" width="24.7" height="25.4" fill="#c66596"/><rect x="433.3" y="422.3" width="24.7" height="25.4" fill="#e7677c"/><rect x="457.4" y="422.3" width="36.7" height="25.4" fill="#f0a1ae"/><rect x="-12.0" y="447.1" width="36.7" height="25.4" fill="#ffffff"/><rect x="24.1" y="447.1" width="24.7" height="25.4" fill="#ffffff"/><rect x="48.1" y="447.1" width="24.7" height="25.4" fill="#ffffff"/><rect x="72.2" y="447.1" width="24.7" height="25.4" fill="#ffffff"/><rect x="96.3" y="447.1" width="24.7" height="25.4" fill="#ffffff"/><rect x="120.4" y="447.1" width="24.7" height="25.4" fill="#ffffff"/><rect x="144.4" y="447.1" width="24.7" height="25.4" fill="#f0a1ae"/><rect x="168.5" y="447.1" width="24.7" height="25.4" fill="#c66596"/><rect x="192.6" y="447.1" width="24.7" height="25.4" fill="#7d1b8c"/><rect x="216.7" y="447.1" width="24.7" height="25.4" fill="#8e399b"/><rect x="240.8" y="447.1" width="24.7" height="25.4" fill="#8e399b"/><rect x="264.8" y="447.1" width="24.7" height="25.4" fill="#c49acb"/><rect x="288.9" y="447.1" width="24.7" height="25.4" fill="#ac9dcc"/><rect x="313.0" y="447.1" width="24.7" height="25.4" fill="#a562b0"/><rect x="337.1" y="447.1" width="24.7" height="25.4" fill="#8e399b"/><rect x="361.1" y="447.1" width="24.7" height="25.4" fill="#7d1b8c"/><rect x="385.2" y="447.1" width="24.7" height="25.4" fill="#a562b0"/><rect x="409.3" y="447.1" width="24.7" height="25.4" fill="#a562b0"/><rect x="433.3" y="447.1" width="24.7" height="25.4" fill="#c89ece"/><rect x="457.4" y="447.1" width="36.7" height="25.4" fill="#a562b0"/><rect x="-12.0" y="471.9" width="36.7" height="25.4" fill="#ffffff"/><rect x="24.1" y="471.9" width="24.7" height="25.4" fill="#ffffff"/><rect x="48.1" y="471.9" width="24.7" height="25.4" fill="#ffffff"/><rect x="72.2" y="471.9" width="24.7" height="25.4" fill="#ffffff"/><rect x="96.3" y="471.9" width="24.7" height="25.4" fill="#ffffff"/><rect x="120.4" y="471.9" width="24.7" height="25.4" fill="#ffffff"/><rect x="144.4" y="471.9" width="24.7" height="25.4" fill="#f0a1ae"/><rect x="168.5" y="471.9" width="24.7" height="25.4" fill="#c66596"/><rect x="192.6" y="471.9" width="24.7" height="25.4" fill="#a562b0"/><rect x="216.7" y="471.9" width="24.7" height="25.4" fill="#a562b0"/><rect x="240.8" y="471.9" width="24.7" height="25.4" fill="#8e399b"/><rect x="264.8" y="471.9" width="24.7" height="25.4" fill="#a562b0"/><rect x="288.9" y="471.9" width="24.7" height="25.4" fill="#a562b0"/><rect x="313.0" y="471.9" width="24.7" height="25.4" fill="#8e399b"/><rect x="337.1" y="471.9" width="24.7" height="25.4" fill="#8e399b"/><rect x="361.1" y="471.9" width="24.7" height="25.4" fill="#7d1b8c"/><rect x="385.2" y="471.9" width="24.7" height="25.4" fill="#8e399b"/><rect x="409.3" y="471.9" width="24.7" height="25.4" fill="#8e399b"/><rect x="433.3" y="471.9" width="24.7" height="25.4" fill="#8e399b"/><rect x="457.4" y="471.9" width="36.7" height="25.4" fill="#8e399b"/><rect x="-12.0" y="496.8" width="36.7" height="25.4" fill="#ffffff"/><rect x="24.1" y="496.8" width="24.7" height="25.4" fill="#ffffff"/><rect x="48.1" y="496.8" width="24.7" height="25.4" fill="#ffffff"/><rect x="72.2" y="496.8" width="24.7" height="25.4" fill="#ffffff"/><rect x="96.3" y="496.8" width="24.7" height="25.4" fill="#ffffff"/><rect x="120.4" y="496.8" width="24.7" height="25.4" fill="#ffffff"/><rect x="144.4" y="496.8" width="24.7" height="25.4" fill="#ffffff"/><rect x="168.5" y="496.8" width="24.7" height="25.4" fill="#ffffff"/><rect x="192.6" y="496.8" width="24.7" height="25.4" fill="#ffffff"/><rect x="216.7" y="496.8" width="24.7" height="25.4" fill="#c89ece"/><rect x="240.8" y="496.8" width="24.7" height="25.4" fill="#a562b0"/><rect x="264.8" y="496.8" width="24.7" height="25.4" fill="#8e399b"/><rect x="288.9" y="496.8" width="24.7" height="25.4" fill="#7d1b8c"/><rect x="313.0" y="496.8" width="24.7" height="25.4" fill="#7d1b8c"/><rect x="337.1" y="496.8" width="24.7" height="25.4" fill="#7d1b8c"/><rect x="361.1" y="496.8" width="24.7" height="25.4" fill="#8e399b"/><rect x="385.2" y="496.8" width="24.7" height="25.4" fill="#e3d2e7"/><rect x="409.3" y="496.8" width="24.7" height="25.4" fill="#eee3f0"/><rect x="433.3" y="496.8" width="24.7" height="25.4" fill="#c89ece"/><rect x="457.4" y="496.8" width="36.7" height="25.4" fill="#c89ece"/><rect x="-12.0" y="521.6" width="36.7" height="25.4" fill="#ffffff"/><rect x="24.1" y="521.6" width="24.7" height="25.4" fill="#ffffff"/><rect x="48.1" y="521.6" width="24.7" height="25.4" fill="#ffffff"/><rect x="72.2" y="521.6" width="24.7" height="25.4" fill="#ffffff"/><rect x="96.3" y="521.6" width="24.7" height="25.4" fill="#ffffff"/><rect x="120.4" y="521.6" width="24.7" height="25.4" fill="#ffffff"/><rect x="144.4" y="521.6" width="24.7" height="25.4" fill="#ffffff"/><rect x="168.5" y="521.6" width="24.7" height="25.4" fill="#ffffff"/><rect x="192.6" y="521.6" width="24.7" height="25.4" fill="#ffffff"/><rect x="216.7" y="521.6" width="24.7" height="25.4" fill="#ffffff"/><rect x="240.8" y="521.6" width="24.7" height="25.4" fill="#ffffff"/><rect x="264.8" y="521.6" width="24.7" height="25.4" fill="#ffffff"/><rect x="288.9" y="521.6" width="24.7" height="25.4" fill="#c89ece"/><rect x="313.0" y="521.6" width="24.7" height="25.4" fill="#a562b0"/><rect x="337.1" y="521.6" width="24.7" height="25.4" fill="#c89ece"/><rect x="361.1" y="521.6" width="24.7" height="25.4" fill="#ffffff"/><rect x="385.2" y="521.6" width="24.7" height="25.4" fill="#ffffff"/><rect x="409.3" y="521.6" width="24.7" height="25.4" fill="#ffffff"/><rect x="433.3" y="521.6" width="24.7" height="25.4" fill="#ffffff"/><rect x="457.4" y="521.6" width="36.7" height="25.4" fill="#ffffff"/><rect x="-12.0" y="546.5" width="36.7" height="25.4" fill="#ffffff"/><rect x="24.1" y="546.5" width="24.7" height="25.4" fill="#ffffff"/><rect x="48.1" y="546.5" width="24.7" height="25.4" fill="#ffffff"/><rect x="72.2" y="546.5" width="24.7" height="25.4" fill="#ffffff"/><rect x="96.3" y="546.5" width="24.7" height="25.4" fill="#ffffff"/><rect x="120.4" y="546.5" width="24.7" height="25.4" fill="#ffffff"/><rect x="144.4" y="546.5" width="24.7" height="25.4" fill="#ffffff"/><rect x="168.5" y="546.5" width="24.7" height="25.4" fill="#ffffff"/><rect x="192.6" y="546.5" width="24.7" height="25.4" fill="#ffffff"/><rect x="216.7" y="546.5" width="24.7" height="25.4" fill="#ffffff"/><rect x="240.8" y="546.5" width="24.7" height="25.4" fill="#ffffff"/><rect x="264.8" y="546.5" width="24.7" height="25.4" fill="#ffffff"/><rect x="288.9" y="546.5" width="24.7" height="25.4" fill="#ffffff"/><rect x="313.0" y="546.5" width="24.7" height="25.4" fill="#ffffff"/><rect x="337.1" y="546.5" width="24.7" height="25.4" fill="#ffffff"/><rect x="361.1" y="546.5" width="24.7" height="25.4" fill="#ffffff"/><rect x="385.2" y="546.5" width="24.7" height="25.4" fill="#ffffff"/><rect x="409.3" y="546.5" width="24.7" height="25.4" fill="#ffffff"/><rect x="433.3" y="546.5" width="24.7" height="25.4" fill="#ffffff"/><rect x="457.4" y="546.5" width="36.7" height="25.4" fill="#ffffff"/><rect x="-12.0" y="571.3" width="36.7" height="25.4" fill="#ffffff"/><rect x="24.1" y="571.3" width="24.7" height="25.4" fill="#ffffff"/><rect x="48.1" y="571.3" width="24.7" height="25.4" fill="#ffffff"/><rect x="72.2" y="571.3" width="24.7" height="25.4" fill="#ffffff"/><rect x="96.3" y="571.3" width="24.7" height="25.4" fill="#ffffff"/><rect x="120.4" y="571.3" width="24.7" height="25.4" fill="#ffffff"/><rect x="144.4" y="571.3" width="24.7" height="25.4" fill="#ffffff"/><rect x="168.5" y="571.3" width="24.7" height="25.4" fill="#ffffff"/><rect x="192.6" y="571.3" width="24.7" height="25.4" fill="#ffffff"/><rect x="216.7" y="571.3" width="24.7" height="25.4" fill="#ffffff"/><rect x="240.8" y="571.3" width="24.7" height="25.4" fill="#ffffff"/><rect x="264.8" y="571.3" width="24.7" height="25.4" fill="#ffffff"/><rect x="288.9" y="571.3" width="24.7" height="25.4" fill="#ffffff"/><rect x="313.0" y="571.3" width="24.7" height="25.4" fill="#ffffff"/><rect x="337.1" y="571.3" width="24.7" height="25.4" fill="#ffffff"/><rect x="361.1" y="571.3" width="24.7" height="25.4" fill="#ffffff"/><rect x="385.2" y="571.3" width="24.7" height="25.4" fill="#ffffff"/><rect x="409.3" y="571.3" width="24.7" height="25.4" fill="#ffffff"/><rect x="433.3" y="571.3" width="24.7" height="25.4" fill="#ffffff"/><rect x="457.4" y="571.3" width="36.7" height="25.4" fill="#ffffff"/><rect x="-12.0" y="596.1" width="36.7" height="25.4" fill="#ffffff"/><rect x="24.1" y="596.1" width="24.7" height="25.4" fill="#ffffff"/><rect x="48.1" y="596.1" width="24.7" height="25.4" fill="#ffffff"/><rect x="72.2" y="596.1" width="24.7" height="25.4" fill="#ffffff"/><rect x="96.3" y="596.1" width="24.7" height="25.4" fill="#ffffff"/><rect x="120.4" y="596.1" width="24.7" height="25.4" fill="#ffffff"/><rect x="144.4" y="596.1" width="24.7" height="25.4" fill="#ffffff"/><rect x="168.5" y="596.1" width="24.7" height="25.4" fill="#ffffff"/><rect x="192.6" y="596.1" width="24.7" height="25.4" fill="#ffffff"/><rect x="216.7" y="596.1" width="24.7" height="25.4" fill="#ffffff"/><rect x="240.8" y="596.1" width="24.7" height="25.4" fill="#ffffff"/><rect x="264.8" y="596.1" width="24.7" height="25.4" fill="#ffffff"/><rect x="288.9" y="596.1" width="24.7" height="25.4" fill="#ffffff"/><rect x="313.0" y="596.1" width="24.7" height="25.4" fill="#ffffff"/><rect x="337.1" y="596.1" width="24.7" height="25.4" fill="#ffffff"/><rect x="361.1" y="596.1" width="24.7" height="25.4" fill="#ffffff"/><rect x="385.2" y="596.1" width="24.7" height="25.4" fill="#ffffff"/><rect x="409.3" y="596.1" width="24.7" height="25.4" fill="#ffffff"/><rect x="433.3" y="596.1" width="24.7" height="25.4" fill="#ffffff"/><rect x="457.4" y="596.1" width="36.7" height="25.4" fill="#ffffff"/><rect x="-12.0" y="621.0" width="36.7" height="25.4" fill="#ffffff"/><rect x="24.1" y="621.0" width="24.7" height="25.4" fill="#ffffff"/><rect x="48.1" y="621.0" width="24.7" height="25.4" fill="#ffffff"/><rect x="72.2" y="621.0" width="24.7" height="25.4" fill="#ffffff"/><rect x="96.3" y="621.0" width="24.7" height="25.4" fill="#ffffff"/><rect x="120.4" y="621.0" width="24.7" height="25.4" fill="#ffffff"/><rect x="144.4" y="621.0" width="24.7" height="25.4" fill="#ffffff"/><rect x="168.5" y="621.0" width="24.7" height="25.4" fill="#ffffff"/><rect x="192.6" y="621.0" width="24.7" height="25.4" fill="#ffffff"/><rect x="216.7" y="621.0" width="24.7" height="25.4" fill="#ffffff"/><rect x="240.8" y="621.0" width="24.7" height="25.4" fill="#ffffff"/><rect x="264.8" y="621.0" width="24.7" height="25.4" fill="#ffffff"/><rect x="288.9" y="621.0" width="24.7" height="25.4" fill="#ffffff"/><rect x="313.0" y="621.0" width="24.7" height="25.4" fill="#ffffff"/><rect x="337.1" y="621.0" width="24.7" height="25.4" fill="#ffffff"/><rect x="361.1" y="621.0" width="24.7" height="25.4" fill="#ffffff"/><rect x="385.2" y="621.0" width="24.7" height="25.4" fill="#ffffff"/><rect x="409.3" y="621.0" width="24.7" height="25.4" fill="#ffffff"/><rect x="433.3" y="621.0" width="24.7" height="25.4" fill="#ffffff"/><rect x="457.4" y="621.0" width="36.7" height="25.4" fill="#ffffff"/><rect x="-12.0" y="645.8" width="36.7" height="25.4" fill="#ffffff"/><rect x="24.1" y="645.8" width="24.7" height="25.4" fill="#ffffff"/><rect x="48.1" y="645.8" width="24.7" height="25.4" fill="#ffffff"/><rect x="72.2" y="645.8" width="24.7" height="25.4" fill="#ffffff"/><rect x="96.3" y="645.8" width="24.7" height="25.4" fill="#ffffff"/><rect x="120.4" y="645.8" width="24.7" height="25.4" fill="#ffffff"/><rect x="144.4" y="645.8" width="24.7" height="25.4" fill="#ffffff"/><rect x="168.5" y="645.8" width="24.7" height="25.4" fill="#ffffff"/><rect x="192.6" y="645.8" width="24.7" height="25.4" fill="#ffffff"/><rect x="216.7" y="645.8" width="24.7" height="25.4" fill="#ffffff"/><rect x="240.8" y="645.8" width="24.7" height="25.4" fill="#ffffff"/><rect x="264.8" y="645.8" width="24.7" height="25.4" fill="#ffffff"/><rect x="288.9" y="645.8" width="24.7" height="25.4" fill="#ffffff"/><rect x="313.0" y="645.8" width="24.7" height="25.4" fill="#ffffff"/><rect x="337.1" y="645.8" width="24.7" height="25.4" fill="#ffffff"/><rect x="361.1" y="645.8" width="24.7" height="25.4" fill="#ffffff"/><rect x="385.2" y="645.8" width="24.7" height="25.4" fill="#ffffff"/><rect x="409.3" y="645.8" width="24.7" height="25.4" fill="#ffffff"/><rect x="433.3" y="645.8" width="24.7" height="25.4" fill="#ffffff"/><rect x="457.4" y="645.8" width="36.7" height="25.4" fill="#ffffff"/><rect x="-12.0" y="670.7" width="36.7" height="37.4" fill="#ffffff"/><rect x="24.1" y="670.7" width="24.7" height="37.4" fill="#ffffff"/><rect x="48.1" y="670.7" width="24.7" height="37.4" fill="#ffffff"/><rect x="72.2" y="670.7" width="24.7" height="37.4" fill="#ffffff"/><rect x="96.3" y="670.7" width="24.7" height="37.4" fill="#ffffff"/><rect x="120.4" y="670.7" width="24.7" height="37.4" fill="#ffffff"/><rect x="144.4" y="670.7" width="24.7" height="37.4" fill="#ffffff"/><rect x="168.5" y="670.7" width="24.7" height="37.4" fill="#ffffff"/><rect x="192.6" y="670.7" width="24.7" height="37.4" fill="#ffffff"/><rect x="216.7" y="670.7" width="24.7" height="37.4" fill="#ffffff"/><rect x="240.8" y="670.7" width="24.7" height="37.4" fill="#ffffff"/><rect x="264.8" y="670.7" width="24.7" height="37.4" fill="#ffffff"/><rect x="288.9" y="670.7" width="24.7" height="37.4" fill="#ffffff"/><rect x="313.0" y="670.7" width="24.7" height="37.4" fill="#ffffff"/><rect x="337.1" y="670.7" width="24.7" height="37.4" fill="#ffffff"/><rect x="361.1" y="670.7" width="24.7" height="37.4" fill="#ffffff"/><rect x="385.2" y="670.7" width="24.7" height="37.4" fill="#ffffff"/><rect x="409.3" y="670.7" width="24.7" height="37.4" fill="#ffffff"/><rect x="433.3" y="670.7" width="24.7" height="37.4" fill="#ffffff"/><rect x="457.4" y="670.7" width="36.7" height="37.4" fill="#ffffff"/></g>
<path d="M0.0,313.6 L9.1,323.1 L14.2,317.1 L21.1,315.4 L24.6,306.7 L25.4,299.8 L31.5,306.7 L40.1,311.9 L46.1,312.8 L57.3,310.2 L66.0,315.4 L69.4,310.2 L81.5,310.2 L90.1,317.1 L88.4,321.4 L100.4,324.0 L107.3,339.5 L116.0,343.8 L109.1,334.3 L110.8,322.3 L124.6,324.8 L134.9,324.8 L150.4,326.6 L159.1,334.3 L172.9,337.8 L178.0,339.5 L183.2,351.6 L179.8,365.4 L178.0,370.5 L169.4,368.8 L179.8,379.2 L181.5,392.9 L179.8,399.8 L167.7,410.2 L160.8,417.1 L155.6,424.0 L147.0,425.7 L145.3,434.3 L140.1,448.1 L133.2,455.0 L143.6,455.0 L148.7,461.9 L147.0,468.8 L155.6,482.6 L160.8,499.8 L166.0,513.6 L169.4,520.5 L178.0,513.6 L184.9,515.4 L181.5,522.3 L184.9,527.4 L179.8,530.9 L169.4,527.4 L160.8,530.9 L159.1,536.1 L159.1,541.5 L161.0,568.5 L159.1,580.1 L166.8,591.7 L176.5,607.1 L188.1,626.4 L199.6,641.9 L222.8,657.3 L233.0,662.9 L239.9,666.4 L250.2,675.0 L258.9,678.5 L272.7,683.6 L277.8,690.5 L282.0,695.5 L0.0,695.5 Z" fill="#ecf0dc" stroke="#1a1a1a" stroke-width="0.8"/>
<path d="M285.6,695.5 L281.3,683.6 L274.4,679.3 L278.7,676.7 L281.3,669.8 L279.6,659.5 L276.1,649.2 L267.5,644.0 L259.7,632.8 L267.5,642.3 L277.8,648.3 L284.7,656.1 L291.6,659.5 L296.8,662.9 L302.0,661.2 L308.9,656.1 L320.9,650.9 L324.4,645.7 L327.8,631.9 L331.3,628.5 L329.6,621.6 L325.2,613.8 L331.3,612.1 L350.2,618.1 L360.6,623.3 L359.7,614.7 L357.1,606.1 L364.0,600.9 L374.4,602.6 L372.7,595.7 L366.6,580.2 L367.5,574.2 L360.6,562.9 L355.4,552.6 L357.1,549.2 L369.2,547.4 L362.3,542.3 L355.4,535.4 L353.7,528.5 L358.9,523.3 L365.8,512.9 L369.2,518.1 L377.8,521.6 L383.0,528.5 L388.2,537.1 L393.3,545.7 L395.1,550.9 L403.7,550.9 L412.3,550.9 L417.5,557.8 L422.7,547.4 L427.8,540.5 L424.4,535.4 L433.0,530.2 L441.6,525.0 L452.0,523.3 L460.6,528.5 L464.0,538.8 L472.7,535.4 L482.5,532.8 L482.5,695.5 Z" fill="#ecf0dc" stroke="#1a1a1a" stroke-width="0.8"/>
<path d="M322.7,541.9 L328.7,549.2 L333.9,562.9 L334.7,574.2 L329.6,575.9 L322.7,569.8 L317.5,561.2 L315.4,552.6 L318.3,544.0 Z" fill="#ecf0dc" stroke="#1a1a1a" stroke-width="0.8"/>
<path d="M302.0,604.5 L306.0,605.5 L310.0,610.5 L312.3,616.4 L309.0,616.5 L304.0,611.5 Z" fill="#ecf0dc" stroke="#1a1a1a" stroke-width="0.8"/>
<path d="M290.0,643.5 L293.0,642.5 L295.0,647.5 L294.0,650.5 L291.0,649.5 Z" fill="#ecf0dc" stroke="#1a1a1a" stroke-width="0.8"/>
<path d="M177.0,492.5 L187.0,493.5 L192.0,497.5 L189.0,503.5 L183.0,506.5 L177.0,501.5 Z" fill="#ecf0dc" stroke="#1a1a1a" stroke-width="0.8"/>
<path d="M346.0,581.1 L348.5,582.5 L351.1,590.5 L350.0,591.5 L347.5,587.5 Z" fill="#ecf0dc" stroke="#1a1a1a" stroke-width="0.8"/>
<path d="M313.2,622.5 L314.8,623.5 L315.8,631.5 L314.2,631.5 Z" fill="#ecf0dc" stroke="#1a1a1a" stroke-width="0.8"/>
<g fill="none" stroke="#6e7268" stroke-width="1.0" stroke-dasharray="1.3,1.5" opacity="0.75"><circle cx="233.0" cy="816.5" r="777.1"/><circle cx="233.0" cy="816.5" r="642.9"/><circle cx="233.0" cy="816.5" r="511.3"/><circle cx="233.0" cy="816.5" r="381.8"/><circle cx="233.0" cy="816.5" r="253.7"/><circle cx="233.0" cy="816.5" r="126.6"/><line x1="233.0" y1="816.5" x2="-1684.6" y2="248.5"/><line x1="233.0" y1="816.5" x2="-1395.2" y2="-344.9"/><line x1="233.0" y1="816.5" x2="-928.4" y2="-811.7"/><line x1="233.0" y1="816.5" x2="-325.0" y2="-1104.1"/><line x1="233.0" y1="816.5" x2="320.2" y2="-1181.6"/><line x1="233.0" y1="816.5" x2="951.4" y2="-1050.0"/><line x1="233.0" y1="816.5" x2="1531.9" y2="-704.3"/><line x1="233.0" y1="816.5" x2="1956.3" y2="-198.6"/><line x1="233.0" y1="816.5" x2="2192.8" y2="417.8"/></g>
</g>
<rect x="0" y="0" width="481.5" height="695.5" fill="none" stroke="#111" stroke-width="1.2"/>
</g>
<g transform="translate(59.4,944.3)">
<g clip-path="url(#clipc)">
<rect width="481.6" height="695.1" fill="#fff"/>
<g filter="url(#blur)"><rect x="-12.0" y="-12.0" width="36.7" height="37.4" fill="#b2c4ca"/><rect x="24.1" y="-12.0" width="24.7" height="37.4" fill="#bdd991"/><rect x="48.2" y="-12.0" width="24.7" height="37.4" fill="#91e1ea"/><rect x="72.2" y="-12.0" width="24.7" height="37.4" fill="#8fd0bf"/><rect x="96.3" y="-12.0" width="24.7" height="37.4" fill="#91e1ea"/><rect x="120.4" y="-12.0" width="24.7" height="37.4" fill="#91e1ea"/><rect x="144.5" y="-12.0" width="24.7" height="37.4" fill="#71e0e0"/><rect x="168.6" y="-12.0" width="24.7" height="37.4" fill="#b6ebc6"/><rect x="192.6" y="-12.0" width="24.7" height="37.4" fill="#bdd991"/><rect x="216.7" y="-12.0" width="24.7" height="37.4" fill="#96fabd"/><rect x="240.8" y="-12.0" width="24.7" height="37.4" fill="#96fabd"/><rect x="264.9" y="-12.0" width="24.7" height="37.4" fill="#96fabd"/><rect x="289.0" y="-12.0" width="24.7" height="37.4" fill="#aceaa4"/><rect x="313.0" y="-12.0" width="24.7" height="37.4" fill="#9afab7"/><rect x="337.1" y="-12.0" width="24.7" height="37.4" fill="#b0ea9f"/><rect x="361.2" y="-12.0" width="24.7" height="37.4" fill="#c1d98c"/><rect x="385.3" y="-12.0" width="24.7" height="37.4" fill="#b0ea9f"/><rect x="409.4" y="-12.0" width="24.7" height="37.4" fill="#c1d98c"/><rect x="433.4" y="-12.0" width="24.7" height="37.4" fill="#d3c979"/><rect x="457.5" y="-12.0" width="36.7" height="37.4" fill="#c1d98c"/><rect x="-12.0" y="24.8" width="36.7" height="25.4" fill="#b2c4ca"/><rect x="24.1" y="24.8" width="24.7" height="25.4" fill="#c1d98c"/><rect x="48.2" y="24.8" width="24.7" height="25.4" fill="#8fd0bf"/><rect x="72.2" y="24.8" width="24.7" height="25.4" fill="#71e0e0"/><rect x="96.3" y="24.8" width="24.7" height="25.4" fill="#80fad4"/><rect x="120.4" y="24.8" width="24.7" height="25.4" fill="#75e0dc"/><rect x="144.5" y="24.8" width="24.7" height="25.4" fill="#91fac2"/><rect x="168.6" y="24.8" width="24.7" height="25.4" fill="#aceaa4"/><rect x="192.6" y="24.8" width="24.7" height="25.4" fill="#aceaa4"/><rect x="216.7" y="24.8" width="24.7" height="25.4" fill="#b0ea9f"/><rect x="240.8" y="24.8" width="24.7" height="25.4" fill="#c1d98c"/><rect x="264.9" y="24.8" width="24.7" height="25.4" fill="#9afab7"/><rect x="289.0" y="24.8" width="24.7" height="25.4" fill="#b0ea9f"/><rect x="313.0" y="24.8" width="24.7" height="25.4" fill="#9afab7"/><rect x="337.1" y="24.8" width="24.7" height="25.4" fill="#b0ea9f"/><rect x="361.2" y="24.8" width="24.7" height="25.4" fill="#c1d98c"/><rect x="385.3" y="24.8" width="24.7" height="25.4" fill="#d3c979"/><rect x="409.4" y="24.8" width="24.7" height="25.4" fill="#c1d98c"/><rect x="433.4" y="24.8" width="24.7" height="25.4" fill="#d3c979"/><rect x="457.5" y="24.8" width="36.7" height="25.4" fill="#d3c979"/><rect x="-12.0" y="49.6" width="36.7" height="25.4" fill="#d5dba5"/><rect x="24.1" y="49.6" width="24.7" height="25.4" fill="#d3c979"/><rect x="48.2" y="49.6" width="24.7" height="25.4" fill="#b8d997"/><rect x="72.2" y="49.6" width="24.7" height="25.4" fill="#a7eaaa"/><rect x="96.3" y="49.6" width="24.7" height="25.4" fill="#a2eaaf"/><rect x="120.4" y="49.6" width="24.7" height="25.4" fill="#9afab7"/><rect x="144.5" y="49.6" width="24.7" height="25.4" fill="#96fabd"/><rect x="168.6" y="49.6" width="24.7" height="25.4" fill="#b0ea9f"/><rect x="192.6" y="49.6" width="24.7" height="25.4" fill="#d3c979"/><rect x="216.7" y="49.6" width="24.7" height="25.4" fill="#d4c075"/><rect x="240.8" y="49.6" width="24.7" height="25.4" fill="#c1d98c"/><rect x="264.9" y="49.6" width="24.7" height="25.4" fill="#b0ea9f"/><rect x="289.0" y="49.6" width="24.7" height="25.4" fill="#d3c979"/><rect x="313.0" y="49.6" width="24.7" height="25.4" fill="#d3c979"/><rect x="337.1" y="49.6" width="24.7" height="25.4" fill="#d3c979"/><rect x="361.2" y="49.6" width="24.7" height="25.4" fill="#b0ea9f"/><rect x="385.3" y="49.6" width="24.7" height="25.4" fill="#c1d98c"/><rect x="409.4" y="49.6" width="24.7" height="25.4" fill="#d3c979"/><rect x="433.4" y="49.6" width="24.7" height="25.4" fill="#e4b966"/><rect x="457.5" y="49.6" width="36.7" height="25.4" fill="#e6af62"/><rect x="-12.0" y="74.5" width="36.7" height="25.4" fill="#cec97f"/><rect x="24.1" y="74.5" width="24.7" height="25.4" fill="#c1d98c"/><rect x="48.2" y="74.5" width="24.7" height="25.4" fill="#c1d98c"/><rect x="72.2" y="74.5" width="24.7" height="25.4" fill="#d3c979"/><rect x="96.3" y="74.5" width="24.7" height="25.4" fill="#b0ea9f"/><rect x="120.4" y="74.5" width="24.7" height="25.4" fill="#9ffab2"/><rect x="144.5" y="74.5" width="24.7" height="25.4" fill="#96fabd"/><rect x="168.6" y="74.5" width="24.7" height="25.4" fill="#b0ea9f"/><rect x="192.6" y="74.5" width="24.7" height="25.4" fill="#e6af62"/><rect x="216.7" y="74.5" width="24.7" height="25.4" fill="#d3c979"/><rect x="240.8" y="74.5" width="24.7" height="25.4" fill="#d3c979"/><rect x="264.9" y="74.5" width="24.7" height="25.4" fill="#e4b966"/><rect x="289.0" y="74.5" width="24.7" height="25.4" fill="#d3c979"/><rect x="313.0" y="74.5" width="24.7" height="25.4" fill="#e4b966"/><rect x="337.1" y="74.5" width="24.7" height="25.4" fill="#d3c979"/><rect x="361.2" y="74.5" width="24.7" height="25.4" fill="#c1d98c"/><rect x="385.3" y="74.5" width="24.7" height="25.4" fill="#d3c979"/><rect x="409.4" y="74.5" width="24.7" height="25.4" fill="#e4b966"/><rect x="433.4" y="74.5" width="24.7" height="25.4" fill="#e6af62"/><rect x="457.5" y="74.5" width="36.7" height="25.4" fill="#e6af62"/><rect x="-12.0" y="99.3" width="36.7" height="25.4" fill="#91e1ea"/><rect x="24.1" y="99.3" width="24.7" height="25.4" fill="#91e1ea"/><rect x="48.2" y="99.3" width="24.7" height="25.4" fill="#bbebc1"/><rect x="72.2" y="99.3" width="24.7" height="25.4" fill="#b4d99b"/><rect x="96.3" y="99.3" width="24.7" height="25.4" fill="#e6af62"/><rect x="120.4" y="99.3" width="24.7" height="25.4" fill="#e7a65d"/><rect x="144.5" y="99.3" width="24.7" height="25.4" fill="#d4c075"/><rect x="168.6" y="99.3" width="24.7" height="25.4" fill="#c1d98c"/><rect x="192.6" y="99.3" width="24.7" height="25.4" fill="#b0ea9f"/><rect x="216.7" y="99.3" width="24.7" height="25.4" fill="#c1d98c"/><rect x="240.8" y="99.3" width="24.7" height="25.4" fill="#c1d98c"/><rect x="264.9" y="99.3" width="24.7" height="25.4" fill="#d3c979"/><rect x="289.0" y="99.3" width="24.7" height="25.4" fill="#d3c979"/><rect x="313.0" y="99.3" width="24.7" height="25.4" fill="#c1d98c"/><rect x="337.1" y="99.3" width="24.7" height="25.4" fill="#e4b966"/><rect x="361.2" y="99.3" width="24.7" height="25.4" fill="#e99d59"/><rect x="385.3" y="99.3" width="24.7" height="25.4" fill="#e99d59"/><rect x="409.4" y="99.3" width="24.7" height="25.4" fill="#e99d59"/><rect x="433.4" y="99.3" width="24.7" height="25.4" fill="#d4c075"/><rect x="457.5" y="99.3" width="36.7" height="25.4" fill="#d3c979"/><rect x="-12.0" y="124.1" width="36.7" height="25.4" fill="#91e1ea"/><rect x="24.1" y="124.1" width="24.7" height="25.4" fill="#b2e3f3"/><rect x="48.2" y="124.1" width="24.7" height="25.4" fill="#68b9e8"/><rect x="72.2" y="124.1" width="24.7" height="25.4" fill="#9cfbe2"/><rect x="96.3" y="124.1" width="24.7" height="25.4" fill="#b0d99f"/><rect x="120.4" y="124.1" width="24.7" height="25.4" fill="#8bd0c3"/><rect x="144.5" y="124.1" width="24.7" height="25.4" fill="#95eabc"/><rect x="168.6" y="124.1" width="24.7" height="25.4" fill="#a3eaae"/><rect x="192.6" y="124.1" width="24.7" height="25.4" fill="#aceaa4"/><rect x="216.7" y="124.1" width="24.7" height="25.4" fill="#9afab7"/><rect x="240.8" y="124.1" width="24.7" height="25.4" fill="#b0ea9f"/><rect x="264.9" y="124.1" width="24.7" height="25.4" fill="#aceaa4"/><rect x="289.0" y="124.1" width="24.7" height="25.4" fill="#b0ea9f"/><rect x="313.0" y="124.1" width="24.7" height="25.4" fill="#9afab7"/><rect x="337.1" y="124.1" width="24.7" height="25.4" fill="#c1d98c"/><rect x="361.2" y="124.1" width="24.7" height="25.4" fill="#e99d59"/><rect x="385.3" y="124.1" width="24.7" height="25.4" fill="#e99d59"/><rect x="409.4" y="124.1" width="24.7" height="25.4" fill="#ecc188"/><rect x="433.4" y="124.1" width="24.7" height="25.4" fill="#c1d98c"/><rect x="457.5" y="124.1" width="36.7" height="25.4" fill="#d9db9f"/><rect x="-12.0" y="148.9" width="36.7" height="25.4" fill="#91e1ea"/><rect x="24.1" y="148.9" width="24.7" height="25.4" fill="#71e0e0"/><rect x="48.2" y="148.9" width="24.7" height="25.4" fill="#89baf2"/><rect x="72.2" y="148.9" width="24.7" height="25.4" fill="#6eaae9"/><rect x="96.3" y="148.9" width="24.7" height="25.4" fill="#91e1ea"/><rect x="120.4" y="148.9" width="24.7" height="25.4" fill="#71e0e0"/><rect x="144.5" y="148.9" width="24.7" height="25.4" fill="#68b9e8"/><rect x="168.6" y="148.9" width="24.7" height="25.4" fill="#71e0e0"/><rect x="192.6" y="148.9" width="24.7" height="25.4" fill="#84fad0"/><rect x="216.7" y="148.9" width="24.7" height="25.4" fill="#91fac2"/><rect x="240.8" y="148.9" width="24.7" height="25.4" fill="#91fac2"/><rect x="264.9" y="148.9" width="24.7" height="25.4" fill="#84fad0"/><rect x="289.0" y="148.9" width="24.7" height="25.4" fill="#80fad4"/><rect x="313.0" y="148.9" width="24.7" height="25.4" fill="#88facc"/><rect x="337.1" y="148.9" width="24.7" height="25.4" fill="#80fad4"/><rect x="361.2" y="148.9" width="24.7" height="25.4" fill="#84fad0"/><rect x="385.3" y="148.9" width="24.7" height="25.4" fill="#9cfbe2"/><rect x="409.4" y="148.9" width="24.7" height="25.4" fill="#a1fbde"/><rect x="433.4" y="148.9" width="24.7" height="25.4" fill="#80fad4"/><rect x="457.5" y="148.9" width="36.7" height="25.4" fill="#84fad0"/><rect x="-12.0" y="173.8" width="36.7" height="25.4" fill="#9cfbe2"/><rect x="24.1" y="173.8" width="24.7" height="25.4" fill="#71e0e0"/><rect x="48.2" y="173.8" width="24.7" height="25.4" fill="#80fad4"/><rect x="72.2" y="173.8" width="24.7" height="25.4" fill="#91e1ea"/><rect x="96.3" y="173.8" width="24.7" height="25.4" fill="#7bfad9"/><rect x="120.4" y="173.8" width="24.7" height="25.4" fill="#91e1ea"/><rect x="144.5" y="173.8" width="24.7" height="25.4" fill="#9cfbe2"/><rect x="168.6" y="173.8" width="24.7" height="25.4" fill="#9cfbe2"/><rect x="192.6" y="173.8" width="24.7" height="25.4" fill="#8fabf2"/><rect x="216.7" y="173.8" width="24.7" height="25.4" fill="#8fabf2"/><rect x="240.8" y="173.8" width="24.7" height="25.4" fill="#9cfbe2"/><rect x="264.9" y="173.8" width="24.7" height="25.4" fill="#6eaae9"/><rect x="289.0" y="173.8" width="24.7" height="25.4" fill="#bbc6f4"/><rect x="313.0" y="173.8" width="24.7" height="25.4" fill="#9cfbe2"/><rect x="337.1" y="173.8" width="24.7" height="25.4" fill="#7bfad9"/><rect x="361.2" y="173.8" width="24.7" height="25.4" fill="#71e0e0"/><rect x="385.3" y="173.8" width="24.7" height="25.4" fill="#9cfbe2"/><rect x="409.4" y="173.8" width="24.7" height="25.4" fill="#84fad0"/><rect x="433.4" y="173.8" width="24.7" height="25.4" fill="#a7eaaa"/><rect x="457.5" y="173.8" width="36.7" height="25.4" fill="#aceaa4"/><rect x="-12.0" y="198.6" width="36.7" height="25.4" fill="#b2e3f3"/><rect x="24.1" y="198.6" width="24.7" height="25.4" fill="#bdfcec"/><rect x="48.2" y="198.6" width="24.7" height="25.4" fill="#9cfbe2"/><rect x="72.2" y="198.6" width="24.7" height="25.4" fill="#9cfbe2"/><rect x="96.3" y="198.6" width="24.7" height="25.4" fill="#7bfad9"/><rect x="120.4" y="198.6" width="24.7" height="25.4" fill="#9cfbe2"/><rect x="144.5" y="198.6" width="24.7" height="25.4" fill="#71e0e0"/><rect x="168.6" y="198.6" width="24.7" height="25.4" fill="#bdfcec"/><rect x="192.6" y="198.6" width="24.7" height="25.4" fill="#6390f0"/><rect x="216.7" y="198.6" width="24.7" height="25.4" fill="#6c74f1"/><rect x="240.8" y="198.6" width="24.7" height="25.4" fill="#6eaae9"/><rect x="264.9" y="198.6" width="24.7" height="25.4" fill="#8fabf2"/><rect x="289.0" y="198.6" width="24.7" height="25.4" fill="#bbc6f4"/><rect x="313.0" y="198.6" width="24.7" height="25.4" fill="#71e0e0"/><rect x="337.1" y="198.6" width="24.7" height="25.4" fill="#66c6e7"/><rect x="361.2" y="198.6" width="24.7" height="25.4" fill="#9cfbe2"/><rect x="385.3" y="198.6" width="24.7" height="25.4" fill="#7bfad9"/><rect x="409.4" y="198.6" width="24.7" height="25.4" fill="#a1fbde"/><rect x="433.4" y="198.6" width="24.7" height="25.4" fill="#91fac2"/><rect x="457.5" y="198.6" width="36.7" height="25.4" fill="#91fac2"/><rect x="-12.0" y="223.4" width="36.7" height="25.4" fill="#defef5"/><rect x="24.1" y="223.4" width="24.7" height="25.4" fill="#defef5"/><rect x="48.2" y="223.4" width="24.7" height="25.4" fill="#bdfcec"/><rect x="72.2" y="223.4" width="24.7" height="25.4" fill="#7bfad9"/><rect x="96.3" y="223.4" width="24.7" height="25.4" fill="#80fad4"/><rect x="120.4" y="223.4" width="24.7" height="25.4" fill="#71e0e0"/><rect x="144.5" y="223.4" width="24.7" height="25.4" fill="#9cfbe2"/><rect x="168.6" y="223.4" width="24.7" height="25.4" fill="#b2e3f3"/><rect x="192.6" y="223.4" width="24.7" height="25.4" fill="#615af9"/><rect x="216.7" y="223.4" width="24.7" height="25.4" fill="#615af9"/><rect x="240.8" y="223.4" width="24.7" height="25.4" fill="#8d75fb"/><rect x="264.9" y="223.4" width="24.7" height="25.4" fill="#71e0e0"/><rect x="289.0" y="223.4" width="24.7" height="25.4" fill="#9cfbe2"/><rect x="313.0" y="223.4" width="24.7" height="25.4" fill="#6c74f1"/><rect x="337.1" y="223.4" width="24.7" height="25.4" fill="#615af9"/><rect x="361.2" y="223.4" width="24.7" height="25.4" fill="#66c6e7"/><rect x="385.3" y="223.4" width="24.7" height="25.4" fill="#71e0e0"/><rect x="409.4" y="223.4" width="24.7" height="25.4" fill="#71e0e0"/><rect x="433.4" y="223.4" width="24.7" height="25.4" fill="#9cfbe2"/><rect x="457.5" y="223.4" width="36.7" height="25.4" fill="#80fad4"/><rect x="-12.0" y="248.2" width="36.7" height="25.4" fill="#ffffff"/><rect x="24.1" y="248.2" width="24.7" height="25.4" fill="#defef5"/><rect x="48.2" y="248.2" width="24.7" height="25.4" fill="#bdfcec"/><rect x="72.2" y="248.2" width="24.7" height="25.4" fill="#9cfbe2"/><rect x="96.3" y="248.2" width="24.7" height="25.4" fill="#9cfbe2"/><rect x="120.4" y="248.2" width="24.7" height="25.4" fill="#bdfcec"/><rect x="144.5" y="248.2" width="24.7" height="25.4" fill="#7bfad9"/><rect x="168.6" y="248.2" width="24.7" height="25.4" fill="#bdfcec"/><rect x="192.6" y="248.2" width="24.7" height="25.4" fill="#9cfbe2"/><rect x="216.7" y="248.2" width="24.7" height="25.4" fill="#bdfcec"/><rect x="240.8" y="248.2" width="24.7" height="25.4" fill="#66c6e7"/><rect x="264.9" y="248.2" width="24.7" height="25.4" fill="#9cfbe2"/><rect x="289.0" y="248.2" width="24.7" height="25.4" fill="#bdfcec"/><rect x="313.0" y="248.2" width="24.7" height="25.4" fill="#6c74f1"/><rect x="337.1" y="248.2" width="24.7" height="25.4" fill="#615af9"/><rect x="361.2" y="248.2" width="24.7" height="25.4" fill="#66c6e7"/><rect x="385.3" y="248.2" width="24.7" height="25.4" fill="#66c6e7"/><rect x="409.4" y="248.2" width="24.7" height="25.4" fill="#7bfad9"/><rect x="433.4" y="248.2" width="24.7" height="25.4" fill="#71e0e0"/><rect x="457.5" y="248.2" width="36.7" height="25.4" fill="#9cfbe2"/><rect x="-12.0" y="273.1" width="36.7" height="25.4" fill="#ffffff"/><rect x="24.1" y="273.1" width="24.7" height="25.4" fill="#defef5"/><rect x="48.2" y="273.1" width="24.7" height="25.4" fill="#bdfcec"/><rect x="72.2" y="273.1" width="24.7" height="25.4" fill="#bdfcec"/><rect x="96.3" y="273.1" width="24.7" height="25.4" fill="#bdfcec"/><rect x="120.4" y="273.1" width="24.7" height="25.4" fill="#defef5"/><rect x="144.5" y="273.1" width="24.7" height="25.4" fill="#7bfad9"/><rect x="168.6" y="273.1" width="24.7" height="25.4" fill="#66c6e7"/><rect x="192.6" y="273.1" width="24.7" height="25.4" fill="#9cfbe2"/><rect x="216.7" y="273.1" width="24.7" height="25.4" fill="#bdfcec"/><rect x="240.8" y="273.1" width="24.7" height="25.4" fill="#7bfad9"/><rect x="264.9" y="273.1" width="24.7" height="25.4" fill="#9cfbe2"/><rect x="289.0" y="273.1" width="24.7" height="25.4" fill="#9cfbe2"/><rect x="313.0" y="273.1" width="24.7" height="25.4" fill="#bdfcec"/><rect x="337.1" y="273.1" width="24.7" height="25.4" fill="#6eaae9"/><rect x="361.2" y="273.1" width="24.7" height="25.4" fill="#6eaae9"/><rect x="385.3" y="273.1" width="24.7" height="25.4" fill="#9cfbe2"/><rect x="409.4" y="273.1" width="24.7" height="25.4" fill="#71e0e0"/><rect x="433.4" y="273.1" width="24.7" height="25.4" fill="#71e0e0"/><rect x="457.5" y="273.1" width="36.7" height="25.4" fill="#91e1ea"/><rect x="-12.0" y="297.9" width="36.7" height="25.4" fill="#ffffff"/><rect x="24.1" y="297.9" width="24.7" height="25.4" fill="#ffffff"/><rect x="48.2" y="297.9" width="24.7" height="25.4" fill="#bdfcec"/><rect x="72.2" y="297.9" width="24.7" height="25.4" fill="#bdfcec"/><rect x="96.3" y="297.9" width="24.7" height="25.4" fill="#bdfcec"/><rect x="120.4" y="297.9" width="24.7" height="25.4" fill="#9cfbe2"/><rect x="144.5" y="297.9" width="24.7" height="25.4" fill="#7bfad9"/><rect x="168.6" y="297.9" width="24.7" height="25.4" fill="#615af9"/><rect x="192.6" y="297.9" width="24.7" height="25.4" fill="#66c6e7"/><rect x="216.7" y="297.9" width="24.7" height="25.4" fill="#9cfbe2"/><rect x="240.8" y="297.9" width="24.7" height="25.4" fill="#7bfad9"/><rect x="264.9" y="297.9" width="24.7" height="25.4" fill="#9cfbe2"/><rect x="289.0" y="297.9" width="24.7" height="25.4" fill="#7bfad9"/><rect x="313.0" y="297.9" width="24.7" height="25.4" fill="#bdfcec"/><rect x="337.1" y="297.9" width="24.7" height="25.4" fill="#71e0e0"/><rect x="361.2" y="297.9" width="24.7" height="25.4" fill="#6c74f1"/><rect x="385.3" y="297.9" width="24.7" height="25.4" fill="#6390f0"/><rect x="409.4" y="297.9" width="24.7" height="25.4" fill="#9cfbe2"/><rect x="433.4" y="297.9" width="24.7" height="25.4" fill="#66c6e7"/><rect x="457.5" y="297.9" width="36.7" height="25.4" fill="#9cfbe2"/><rect x="-12.0" y="322.7" width="36.7" height="25.4" fill="#ffffff"/><rect x="24.1" y="322.7" width="24.7" height="25.4" fill="#ffffff"/><rect x="48.2" y="322.7" width="24.7" height="25.4" fill="#ffffff"/><rect x="72.2" y="322.7" width="24.7" height="25.4" fill="#ffffff"/><rect x="96.3" y="322.7" width="24.7" height="25.4" fill="#ffffff"/><rect x="120.4" y="322.7" width="24.7" height="25.4" fill="#ffffff"/><rect x="144.5" y="322.7" width="24.7" height="25.4" fill="#bdfcec"/><rect x="168.6" y="322.7" width="24.7" height="25.4" fill="#6390f0"/><rect x="192.6" y="322.7" width="24.7" height="25.4" fill="#615af9"/><rect x="216.7" y="322.7" width="24.7" height="25.4" fill="#6c74f1"/><rect x="240.8" y="322.7" width="24.7" height="25.4" fill="#6c74f1"/><rect x="264.9" y="322.7" width="24.7" height="25.4" fill="#9cfbe2"/><rect x="289.0" y="322.7" width="24.7" height="25.4" fill="#7bfad9"/><rect x="313.0" y="322.7" width="24.7" height="25.4" fill="#9cfbe2"/><rect x="337.1" y="322.7" width="24.7" height="25.4" fill="#9cfbe2"/><rect x="361.2" y="322.7" width="24.7" height="25.4" fill="#6c74f1"/><rect x="385.3" y="322.7" width="24.7" height="25.4" fill="#615af9"/><rect x="409.4" y="322.7" width="24.7" height="25.4" fill="#71e0e0"/><rect x="433.4" y="322.7" width="24.7" height="25.4" fill="#7bfad9"/><rect x="457.5" y="322.7" width="36.7" height="25.4" fill="#9cfbe2"/><rect x="-12.0" y="347.6" width="36.7" height="25.4" fill="#ffffff"/><rect x="24.1" y="347.6" width="24.7" height="25.4" fill="#ffffff"/><rect x="48.2" y="347.6" width="24.7" height="25.4" fill="#ffffff"/><rect x="72.2" y="347.6" width="24.7" height="25.4" fill="#ffffff"/><rect x="96.3" y="347.6" width="24.7" height="25.4" fill="#ffffff"/><rect x="120.4" y="347.6" width="24.7" height="25.4" fill="#ffffff"/><rect x="144.5" y="347.6" width="24.7" height="25.4" fill="#ffffff"/><rect x="168.6" y="347.6" width="24.7" height="25.4" fill="#9ac5eb"/><rect x="192.6" y="347.6" width="24.7" height="25.4" fill="#6c74f1"/><rect x="216.7" y="347.6" width="24.7" height="25.4" fill="#9cfbe2"/><rect x="240.8" y="347.6" width="24.7" height="25.4" fill="#bdfcec"/><rect x="264.9" y="347.6" width="24.7" height="25.4" fill="#7bfad9"/><rect x="289.0" y="347.6" width="24.7" height="25.4" fill="#9cfbe2"/><rect x="313.0" y="347.6" width="24.7" height="25.4" fill="#9cfbe2"/><rect x="337.1" y="347.6" width="24.7" height="25.4" fill="#7bfad9"/><rect x="361.2" y="347.6" width="24.7" height="25.4" fill="#66c6e7"/><rect x="385.3" y="347.6" width="24.7" height="25.4" fill="#71e0e0"/><rect x="409.4" y="347.6" width="24.7" height="25.4" fill="#7bfad9"/><rect x="433.4" y="347.6" width="24.7" height="25.4" fill="#7bfad9"/><rect x="457.5" y="347.6" width="36.7" height="25.4" fill="#9cfbe2"/><rect x="-12.0" y="372.4" width="36.7" height="25.4" fill="#ffffff"/><rect x="24.1" y="372.4" width="24.7" height="25.4" fill="#ffffff"/><rect x="48.2" y="372.4" width="24.7" height="25.4" fill="#ffffff"/><rect x="72.2" y="372.4" width="24.7" height="25.4" fill="#ffffff"/><rect x="96.3" y="372.4" width="24.7" height="25.4" fill="#ffffff"/><rect x="120.4" y="372.4" width="24.7" height="25.4" fill="#ffffff"/><rect x="144.5" y="372.4" width="24.7" height="25.4" fill="#9cfbe2"/><rect x="168.6" y="372.4" width="24.7" height="25.4" fill="#bdfcec"/><rect x="192.6" y="372.4" width="24.7" height="25.4" fill="#9cfbe2"/><rect x="216.7" y="372.4" width="24.7" height="25.4" fill="#7bfad9"/><rect x="240.8" y="372.4" width="24.7" height="25.4" fill="#defef5"/><rect x="264.9" y="372.4" width="24.7" height="25.4" fill="#9cfbe2"/><rect x="289.0" y="372.4" width="24.7" height="25.4" fill="#6c74f1"/><rect x="313.0" y="372.4" width="24.7" height="25.4" fill="#988ff3"/><rect x="337.1" y="372.4" width="24.7" height="25.4" fill="#7bfad9"/><rect x="361.2" y="372.4" width="24.7" height="25.4" fill="#9cfbe2"/><rect x="385.3" y="372.4" width="24.7" height="25.4" fill="#7bfad9"/><rect x="409.4" y="372.4" width="24.7" height="25.4" fill="#9cfbe2"/><rect x="433.4" y="372.4" width="24.7" height="25.4" fill="#7bfad9"/><rect x="457.5" y="372.4" width="36.7" height="25.4" fill="#9cfbe2"/><rect x="-12.0" y="397.2" width="36.7" height="25.4" fill="#ffffff"/><rect x="24.1" y="397.2" width="24.7" height="25.4" fill="#ffffff"/><rect x="48.2" y="397.2" width="24.7" height="25.4" fill="#ffffff"/><rect x="72.2" y="397.2" width="24.7" height="25.4" fill="#ffffff"/><rect x="96.3" y="397.2" width="24.7" height="25.4" fill="#ffffff"/><rect x="120.4" y="397.2" width="24.7" height="25.4" fill="#ffffff"/><rect x="144.5" y="397.2" width="24.7" height="25.4" fill="#9cfbe2"/><rect x="168.6" y="397.2" width="24.7" height="25.4" fill="#9cfbe2"/><rect x="192.6" y="397.2" width="24.7" height="25.4" fill="#bdfcec"/><rect x="216.7" y="397.2" width="24.7" height="25.4" fill="#9cfbe2"/><rect x="240.8" y="397.2" width="24.7" height="25.4" fill="#defef5"/><rect x="264.9" y="397.2" width="24.7" height="25.4" fill="#9cfbe2"/><rect x="289.0" y="397.2" width="24.7" height="25.4" fill="#6c74f1"/><rect x="313.0" y="397.2" width="24.7" height="25.4" fill="#66c6e7"/><rect x="337.1" y="397.2" width="24.7" height="25.4" fill="#71e0e0"/><rect x="361.2" y="397.2" width="24.7" height="25.4" fill="#7bfad9"/><rect x="385.3" y="397.2" width="24.7" height="25.4" fill="#9cfbe2"/><rect x="409.4" y="397.2" width="24.7" height="25.4" fill="#9cfbe2"/><rect x="433.4" y="397.2" width="24.7" height="25.4" fill="#bdfcec"/><rect x="457.5" y="397.2" width="36.7" height="25.4" fill="#7bfad9"/><rect x="-12.0" y="422.0" width="36.7" height="25.4" fill="#ffffff"/><rect x="24.1" y="422.0" width="24.7" height="25.4" fill="#ffffff"/><rect x="48.2" y="422.0" width="24.7" height="25.4" fill="#ffffff"/><rect x="72.2" y="422.0" width="24.7" height="25.4" fill="#ffffff"/><rect x="96.3" y="422.0" width="24.7" height="25.4" fill="#ffffff"/><rect x="120.4" y="422.0" width="24.7" height="25.4" fill="#ffffff"/><rect x="144.5" y="422.0" width="24.7" height="25.4" fill="#9cfbe2"/><rect x="168.6" y="422.0" width="24.7" height="25.4" fill="#9cfbe2"/><rect x="192.6" y="422.0" width="24.7" height="25.4" fill="#80fad4"/><rect x="216.7" y="422.0" width="24.7" height="25.4" fill="#bdfcec"/><rect x="240.8" y="422.0" width="24.7" height="25.4" fill="#7bfad9"/><rect x="264.9" y="422.0" width="24.7" height="25.4" fill="#71e0e0"/><rect x="289.0" y="422.0" width="24.7" height="25.4" fill="#66c6e7"/><rect x="313.0" y="422.0" width="24.7" height="25.4" fill="#5093f6"/><rect x="337.1" y="422.0" width="24.7" height="25.4" fill="#5badef"/><rect x="361.2" y="422.0" width="24.7" height="25.4" fill="#66c6e7"/><rect x="385.3" y="422.0" width="24.7" height="25.4" fill="#6390f0"/><rect x="409.4" y="422.0" width="24.7" height="25.4" fill="#9cfbe2"/><rect x="433.4" y="422.0" width="24.7" height="25.4" fill="#bdfcec"/><rect x="457.5" y="422.0" width="36.7" height="25.4" fill="#9cfbe2"/><rect x="-12.0" y="446.8" width="36.7" height="25.4" fill="#ffffff"/><rect x="24.1" y="446.8" width="24.7" height="25.4" fill="#ffffff"/><rect x="48.2" y="446.8" width="24.7" height="25.4" fill="#ffffff"/><rect x="72.2" y="446.8" width="24.7" height="25.4" fill="#ffffff"/><rect x="96.3" y="446.8" width="24.7" height="25.4" fill="#ffffff"/><rect x="120.4" y="446.8" width="24.7" height="25.4" fill="#ffffff"/><rect x="144.5" y="446.8" width="24.7" height="25.4" fill="#9cfbe2"/><rect x="168.6" y="446.8" width="24.7" height="25.4" fill="#80fad4"/><rect x="192.6" y="446.8" width="24.7" height="25.4" fill="#80fad4"/><rect x="216.7" y="446.8" width="24.7" height="25.4" fill="#9cfbe2"/><rect x="240.8" y="446.8" width="24.7" height="25.4" fill="#7bfad9"/><rect x="264.9" y="446.8" width="24.7" height="25.4" fill="#71e0e0"/><rect x="289.0" y="446.8" width="24.7" height="25.4" fill="#66c6e7"/><rect x="313.0" y="446.8" width="24.7" height="25.4" fill="#5093f6"/><rect x="337.1" y="446.8" width="24.7" height="25.4" fill="#5977f7"/><rect x="361.2" y="446.8" width="24.7" height="25.4" fill="#5badef"/><rect x="385.3" y="446.8" width="24.7" height="25.4" fill="#5badef"/><rect x="409.4" y="446.8" width="24.7" height="25.4" fill="#6390f0"/><rect x="433.4" y="446.8" width="24.7" height="25.4" fill="#66c6e7"/><rect x="457.5" y="446.8" width="36.7" height="25.4" fill="#66c6e7"/><rect x="-12.0" y="471.7" width="36.7" height="25.4" fill="#ffffff"/><rect x="24.1" y="471.7" width="24.7" height="25.4" fill="#ffffff"/><rect x="48.2" y="471.7" width="24.7" height="25.4" fill="#ffffff"/><rect x="72.2" y="471.7" width="24.7" height="25.4" fill="#ffffff"/><rect x="96.3" y="471.7" width="24.7" height="25.4" fill="#ffffff"/><rect x="120.4" y="471.7" width="24.7" height="25.4" fill="#ffffff"/><rect x="144.5" y="471.7" width="24.7" height="25.4" fill="#ffffff"/><rect x="168.6" y="471.7" width="24.7" height="25.4" fill="#9cfbe2"/><rect x="192.6" y="471.7" width="24.7" height="25.4" fill="#a1fbde"/><rect x="216.7" y="471.7" width="24.7" height="25.4" fill="#9cfbe2"/><rect x="240.8" y="471.7" width="24.7" height="25.4" fill="#7bfad9"/><rect x="264.9" y="471.7" width="24.7" height="25.4" fill="#71e0e0"/><rect x="289.0" y="471.7" width="24.7" height="25.4" fill="#66c6e7"/><rect x="313.0" y="471.7" width="24.7" height="25.4" fill="#5093f6"/><rect x="337.1" y="471.7" width="24.7" height="25.4" fill="#5977f7"/><rect x="361.2" y="471.7" width="24.7" height="25.4" fill="#5badef"/><rect x="385.3" y="471.7" width="24.7" height="25.4" fill="#71e0e0"/><rect x="409.4" y="471.7" width="24.7" height="25.4" fill="#66c6e7"/><rect x="433.4" y="471.7" width="24.7" height="25.4" fill="#66c6e7"/><rect x="457.5" y="471.7" width="36.7" height="25.4" fill="#6390f0"/><rect x="-12.0" y="496.5" width="36.7" height="25.4" fill="#ffffff"/><rect x="24.1" y="496.5" width="24.7" height="25.4" fill="#ffffff"/><rect x="48.2" y="496.5" width="24.7" height="25.4" fill="#ffffff"/><rect x="72.2" y="496.5" width="24.7" height="25.4" fill="#ffffff"/><rect x="96.3" y="496.5" width="24.7" height="25.4" fill="#ffffff"/><rect x="120.4" y="496.5" width="24.7" height="25.4" fill="#ffffff"/><rect x="144.5" y="496.5" width="24.7" height="25.4" fill="#ffffff"/><rect x="168.6" y="496.5" width="24.7" height="25.4" fill="#ffffff"/><rect x="192.6" y="496.5" width="24.7" height="25.4" fill="#defef5"/><rect x="216.7" y="496.5" width="24.7" height="25.4" fill="#defef5"/><rect x="240.8" y="496.5" width="24.7" height="25.4" fill="#bdfcec"/><rect x="264.9" y="496.5" width="24.7" height="25.4" fill="#9cfbe2"/><rect x="289.0" y="496.5" width="24.7" height="25.4" fill="#66c6e7"/><rect x="313.0" y="496.5" width="24.7" height="25.4" fill="#5badef"/><rect x="337.1" y="496.5" width="24.7" height="25.4" fill="#5badef"/><rect x="361.2" y="496.5" width="24.7" height="25.4" fill="#defef5"/><rect x="385.3" y="496.5" width="24.7" height="25.4" fill="#bdfcec"/><rect x="409.4" y="496.5" width="24.7" height="25.4" fill="#bdfcec"/><rect x="433.4" y="496.5" width="24.7" height="25.4" fill="#defef5"/><rect x="457.5" y="496.5" width="36.7" height="25.4" fill="#defef5"/><rect x="-12.0" y="521.3" width="36.7" height="25.4" fill="#ffffff"/><rect x="24.1" y="521.3" width="24.7" height="25.4" fill="#ffffff"/><rect x="48.2" y="521.3" width="24.7" height="25.4" fill="#ffffff"/><rect x="72.2" y="521.3" width="24.7" height="25.4" fill="#ffffff"/><rect x="96.3" y="521.3" width="24.7" height="25.4" fill="#ffffff"/><rect x="120.4" y="521.3" width="24.7" height="25.4" fill="#ffffff"/><rect x="144.5" y="521.3" width="24.7" height="25.4" fill="#ffffff"/><rect x="168.6" y="521.3" width="24.7" height="25.4" fill="#ffffff"/><rect x="192.6" y="521.3" width="24.7" height="25.4" fill="#ffffff"/><rect x="216.7" y="521.3" width="24.7" height="25.4" fill="#ffffff"/><rect x="240.8" y="521.3" width="24.7" height="25.4" fill="#ffffff"/><rect x="264.9" y="521.3" width="24.7" height="25.4" fill="#defef5"/><rect x="289.0" y="521.3" width="24.7" height="25.4" fill="#b2e3f3"/><rect x="313.0" y="521.3" width="24.7" height="25.4" fill="#a8c9fb"/><rect x="337.1" y="521.3" width="24.7" height="25.4" fill="#d3e4fd"/><rect x="361.2" y="521.3" width="24.7" height="25.4" fill="#ffffff"/><rect x="385.3" y="521.3" width="24.7" height="25.4" fill="#ffffff"/><rect x="409.4" y="521.3" width="24.7" height="25.4" fill="#ffffff"/><rect x="433.4" y="521.3" width="24.7" height="25.4" fill="#ffffff"/><rect x="457.5" y="521.3" width="36.7" height="25.4" fill="#ffffff"/><rect x="-12.0" y="546.1" width="36.7" height="25.4" fill="#ffffff"/><rect x="24.1" y="546.1" width="24.7" height="25.4" fill="#ffffff"/><rect x="48.2" y="546.1" width="24.7" height="25.4" fill="#ffffff"/><rect x="72.2" y="546.1" width="24.7" height="25.4" fill="#ffffff"/><rect x="96.3" y="546.1" width="24.7" height="25.4" fill="#ffffff"/><rect x="120.4" y="546.1" width="24.7" height="25.4" fill="#ffffff"/><rect x="144.5" y="546.1" width="24.7" height="25.4" fill="#ffffff"/><rect x="168.6" y="546.1" width="24.7" height="25.4" fill="#ffffff"/><rect x="192.6" y="546.1" width="24.7" height="25.4" fill="#ffffff"/><rect x="216.7" y="546.1" width="24.7" height="25.4" fill="#ffffff"/><rect x="240.8" y="546.1" width="24.7" height="25.4" fill="#ffffff"/><rect x="264.9" y="546.1" width="24.7" height="25.4" fill="#ffffff"/><rect x="289.0" y="546.1" width="24.7" height="25.4" fill="#ffffff"/><rect x="313.0" y="546.1" width="24.7" height="25.4" fill="#ffffff"/><rect x="337.1" y="546.1" width="24.7" height="25.4" fill="#ffffff"/><rect x="361.2" y="546.1" width="24.7" height="25.4" fill="#ffffff"/><rect x="385.3" y="546.1" width="24.7" height="25.4" fill="#ffffff"/><rect x="409.4" y="546.1" width="24.7" height="25.4" fill="#ffffff"/><rect x="433.4" y="546.1" width="24.7" height="25.4" fill="#ffffff"/><rect x="457.5" y="546.1" width="36.7" height="25.4" fill="#ffffff"/><rect x="-12.0" y="571.0" width="36.7" height="25.4" fill="#ffffff"/><rect x="24.1" y="571.0" width="24.7" height="25.4" fill="#ffffff"/><rect x="48.2" y="571.0" width="24.7" height="25.4" fill="#ffffff"/><rect x="72.2" y="571.0" width="24.7" height="25.4" fill="#ffffff"/><rect x="96.3" y="571.0" width="24.7" height="25.4" fill="#ffffff"/><rect x="120.4" y="571.0" width="24.7" height="25.4" fill="#ffffff"/><rect x="144.5" y="571.0" width="24.7" height="25.4" fill="#ffffff"/><rect x="168.6" y="571.0" width="24.7" height="25.4" fill="#ffffff"/><rect x="192.6" y="571.0" width="24.7" height="25.4" fill="#ffffff"/><rect x="216.7" y="571.0" width="24.7" height="25.4" fill="#ffffff"/><rect x="240.8" y="571.0" width="24.7" height="25.4" fill="#ffffff"/><rect x="264.9" y="571.0" width="24.7" height="25.4" fill="#ffffff"/><rect x="289.0" y="571.0" width="24.7" height="25.4" fill="#ffffff"/><rect x="313.0" y="571.0" width="24.7" height="25.4" fill="#ffffff"/><rect x="337.1" y="571.0" width="24.7" height="25.4" fill="#ffffff"/><rect x="361.2" y="571.0" width="24.7" height="25.4" fill="#ffffff"/><rect x="385.3" y="571.0" width="24.7" height="25.4" fill="#ffffff"/><rect x="409.4" y="571.0" width="24.7" height="25.4" fill="#ffffff"/><rect x="433.4" y="571.0" width="24.7" height="25.4" fill="#ffffff"/><rect x="457.5" y="571.0" width="36.7" height="25.4" fill="#ffffff"/><rect x="-12.0" y="595.8" width="36.7" height="25.4" fill="#ffffff"/><rect x="24.1" y="595.8" width="24.7" height="25.4" fill="#ffffff"/><rect x="48.2" y="595.8" width="24.7" height="25.4" fill="#ffffff"/><rect x="72.2" y="595.8" width="24.7" height="25.4" fill="#ffffff"/><rect x="96.3" y="595.8" width="24.7" height="25.4" fill="#ffffff"/><rect x="120.4" y="595.8" width="24.7" height="25.4" fill="#ffffff"/><rect x="144.5" y="595.8" width="24.7" height="25.4" fill="#ffffff"/><rect x="168.6" y="595.8" width="24.7" height="25.4" fill="#ffffff"/><rect x="192.6" y="595.8" width="24.7" height="25.4" fill="#ffffff"/><rect x="216.7" y="595.8" width="24.7" height="25.4" fill="#ffffff"/><rect x="240.8" y="595.8" width="24.7" height="25.4" fill="#ffffff"/><rect x="264.9" y="595.8" width="24.7" height="25.4" fill="#ffffff"/><rect x="289.0" y="595.8" width="24.7" height="25.4" fill="#ffffff"/><rect x="313.0" y="595.8" width="24.7" height="25.4" fill="#ffffff"/><rect x="337.1" y="595.8" width="24.7" height="25.4" fill="#ffffff"/><rect x="361.2" y="595.8" width="24.7" height="25.4" fill="#ffffff"/><rect x="385.3" y="595.8" width="24.7" height="25.4" fill="#ffffff"/><rect x="409.4" y="595.8" width="24.7" height="25.4" fill="#ffffff"/><rect x="433.4" y="595.8" width="24.7" height="25.4" fill="#ffffff"/><rect x="457.5" y="595.8" width="36.7" height="25.4" fill="#ffffff"/><rect x="-12.0" y="620.6" width="36.7" height="25.4" fill="#ffffff"/><rect x="24.1" y="620.6" width="24.7" height="25.4" fill="#ffffff"/><rect x="48.2" y="620.6" width="24.7" height="25.4" fill="#ffffff"/><rect x="72.2" y="620.6" width="24.7" height="25.4" fill="#ffffff"/><rect x="96.3" y="620.6" width="24.7" height="25.4" fill="#ffffff"/><rect x="120.4" y="620.6" width="24.7" height="25.4" fill="#ffffff"/><rect x="144.5" y="620.6" width="24.7" height="25.4" fill="#ffffff"/><rect x="168.6" y="620.6" width="24.7" height="25.4" fill="#ffffff"/><rect x="192.6" y="620.6" width="24.7" height="25.4" fill="#ffffff"/><rect x="216.7" y="620.6" width="24.7" height="25.4" fill="#ffffff"/><rect x="240.8" y="620.6" width="24.7" height="25.4" fill="#ffffff"/><rect x="264.9" y="620.6" width="24.7" height="25.4" fill="#ffffff"/><rect x="289.0" y="620.6" width="24.7" height="25.4" fill="#ffffff"/><rect x="313.0" y="620.6" width="24.7" height="25.4" fill="#ffffff"/><rect x="337.1" y="620.6" width="24.7" height="25.4" fill="#ffffff"/><rect x="361.2" y="620.6" width="24.7" height="25.4" fill="#ffffff"/><rect x="385.3" y="620.6" width="24.7" height="25.4" fill="#ffffff"/><rect x="409.4" y="620.6" width="24.7" height="25.4" fill="#ffffff"/><rect x="433.4" y="620.6" width="24.7" height="25.4" fill="#ffffff"/><rect x="457.5" y="620.6" width="36.7" height="25.4" fill="#ffffff"/><rect x="-12.0" y="645.4" width="36.7" height="25.4" fill="#ffffff"/><rect x="24.1" y="645.4" width="24.7" height="25.4" fill="#ffffff"/><rect x="48.2" y="645.4" width="24.7" height="25.4" fill="#ffffff"/><rect x="72.2" y="645.4" width="24.7" height="25.4" fill="#ffffff"/><rect x="96.3" y="645.4" width="24.7" height="25.4" fill="#ffffff"/><rect x="120.4" y="645.4" width="24.7" height="25.4" fill="#ffffff"/><rect x="144.5" y="645.4" width="24.7" height="25.4" fill="#ffffff"/><rect x="168.6" y="645.4" width="24.7" height="25.4" fill="#ffffff"/><rect x="192.6" y="645.4" width="24.7" height="25.4" fill="#ffffff"/><rect x="216.7" y="645.4" width="24.7" height="25.4" fill="#ffffff"/><rect x="240.8" y="645.4" width="24.7" height="25.4" fill="#ffffff"/><rect x="264.9" y="645.4" width="24.7" height="25.4" fill="#ffffff"/><rect x="289.0" y="645.4" width="24.7" height="25.4" fill="#ffffff"/><rect x="313.0" y="645.4" width="24.7" height="25.4" fill="#ffffff"/><rect x="337.1" y="645.4" width="24.7" height="25.4" fill="#ffffff"/><rect x="361.2" y="645.4" width="24.7" height="25.4" fill="#ffffff"/><rect x="385.3" y="645.4" width="24.7" height="25.4" fill="#ffffff"/><rect x="409.4" y="645.4" width="24.7" height="25.4" fill="#ffffff"/><rect x="433.4" y="645.4" width="24.7" height="25.4" fill="#ffffff"/><rect x="457.5" y="645.4" width="36.7" height="25.4" fill="#ffffff"/><rect x="-12.0" y="670.3" width="36.7" height="37.4" fill="#ffffff"/><rect x="24.1" y="670.3" width="24.7" height="37.4" fill="#ffffff"/><rect x="48.2" y="670.3" width="24.7" height="37.4" fill="#ffffff"/><rect x="72.2" y="670.3" width="24.7" height="37.4" fill="#ffffff"/><rect x="96.3" y="670.3" width="24.7" height="37.4" fill="#ffffff"/><rect x="120.4" y="670.3" width="24.7" height="37.4" fill="#ffffff"/><rect x="144.5" y="670.3" width="24.7" height="37.4" fill="#ffffff"/><rect x="168.6" y="670.3" width="24.7" height="37.4" fill="#ffffff"/><rect x="192.6" y="670.3" width="24.7" height="37.4" fill="#ffffff"/><rect x="216.7" y="670.3" width="24.7" height="37.4" fill="#ffffff"/><rect x="240.8" y="670.3" width="24.7" height="37.4" fill="#ffffff"/><rect x="264.9" y="670.3" width="24.7" height="37.4" fill="#ffffff"/><rect x="289.0" y="670.3" width="24.7" height="37.4" fill="#ffffff"/><rect x="313.0" y="670.3" width="24.7" height="37.4" fill="#ffffff"/><rect x="337.1" y="670.3" width="24.7" height="37.4" fill="#ffffff"/><rect x="361.2" y="670.3" width="24.7" height="37.4" fill="#ffffff"/><rect x="385.3" y="670.3" width="24.7" height="37.4" fill="#ffffff"/><rect x="409.4" y="670.3" width="24.7" height="37.4" fill="#ffffff"/><rect x="433.4" y="670.3" width="24.7" height="37.4" fill="#ffffff"/><rect x="457.5" y="670.3" width="36.7" height="37.4" fill="#ffffff"/></g>
<path d="M0.0,313.6 L9.1,323.1 L14.2,317.1 L21.1,315.4 L24.6,306.7 L25.4,299.8 L31.5,306.7 L40.1,311.9 L46.1,312.8 L57.3,310.2 L66.0,315.4 L69.4,310.2 L81.5,310.2 L90.1,317.1 L88.4,321.4 L100.4,324.0 L107.3,339.5 L116.0,343.8 L109.1,334.3 L110.8,322.3 L124.6,324.8 L134.9,324.8 L150.4,326.6 L159.1,334.3 L172.9,337.8 L178.0,339.5 L183.2,351.6 L179.8,365.4 L178.0,370.5 L169.4,368.8 L179.8,379.2 L181.5,392.9 L179.8,399.8 L167.7,410.2 L160.8,417.1 L155.6,424.0 L147.0,425.7 L145.3,434.3 L140.1,448.1 L133.2,455.0 L143.6,455.0 L148.7,461.9 L147.0,468.8 L155.6,482.6 L160.8,499.8 L166.0,513.6 L169.4,520.5 L178.0,513.6 L184.9,515.4 L181.5,522.3 L184.9,527.4 L179.8,530.9 L169.4,527.4 L160.8,530.9 L159.1,536.1 L159.1,541.5 L161.0,568.5 L159.1,580.1 L166.8,591.7 L176.5,607.1 L188.1,626.4 L199.6,641.9 L222.8,657.3 L233.0,662.9 L239.9,666.4 L250.2,675.0 L258.9,678.5 L272.7,683.6 L277.8,690.5 L282.0,695.5 L0.0,695.5 Z" fill="#ecf0dc" stroke="#1a1a1a" stroke-width="0.8"/>
<path d="M285.6,695.5 L281.3,683.6 L274.4,679.3 L278.7,676.7 L281.3,669.8 L279.6,659.5 L276.1,649.2 L267.5,644.0 L259.7,632.8 L267.5,642.3 L277.8,648.3 L284.7,656.1 L291.6,659.5 L296.8,662.9 L302.0,661.2 L308.9,656.1 L320.9,650.9 L324.4,645.7 L327.8,631.9 L331.3,628.5 L329.6,621.6 L325.2,613.8 L331.3,612.1 L350.2,618.1 L360.6,623.3 L359.7,614.7 L357.1,606.1 L364.0,600.9 L374.4,602.6 L372.7,595.7 L366.6,580.2 L367.5,574.2 L360.6,562.9 L355.4,552.6 L357.1,549.2 L369.2,547.4 L362.3,542.3 L355.4,535.4 L353.7,528.5 L358.9,523.3 L365.8,512.9 L369.2,518.1 L377.8,521.6 L383.0,528.5 L388.2,537.1 L393.3,545.7 L395.1,550.9 L403.7,550.9 L412.3,550.9 L417.5,557.8 L422.7,547.4 L427.8,540.5 L424.4,535.4 L433.0,530.2 L441.6,525.0 L452.0,523.3 L460.6,528.5 L464.0,538.8 L472.7,535.4 L482.5,532.8 L482.5,695.5 Z" fill="#ecf0dc" stroke="#1a1a1a" stroke-width="0.8"/>
<path d="M322.7,541.9 L328.7,549.2 L333.9,562.9 L334.7,574.2 L329.6,575.9 L322.7,569.8 L317.5,561.2 L315.4,552.6 L318.3,544.0 Z" fill="#ecf0dc" stroke="#1a1a1a" stroke-width="0.8"/>
<path d="M302.0,604.5 L306.0,605.5 L310.0,610.5 L312.3,616.4 L309.0,616.5 L304.0,611.5 Z" fill="#ecf0dc" stroke="#1a1a1a" stroke-width="0.8"/>
<path d="M290.0,643.5 L293.0,642.5 L295.0,647.5 L294.0,650.5 L291.0,649.5 Z" fill="#ecf0dc" stroke="#1a1a1a" stroke-width="0.8"/>
<path d="M177.0,492.5 L187.0,493.5 L192.0,497.5 L189.0,503.5 L183.0,506.5 L177.0,501.5 Z" fill="#ecf0dc" stroke="#1a1a1a" stroke-width="0.8"/>
<path d="M346.0,581.1 L348.5,582.5 L351.1,590.5 L350.0,591.5 L347.5,587.5 Z" fill="#ecf0dc" stroke="#1a1a1a" stroke-width="0.8"/>
<path d="M313.2,622.5 L314.8,623.5 L315.8,631.5 L314.2,631.5 Z" fill="#ecf0dc" stroke="#1a1a1a" stroke-width="0.8"/>
<g fill="none" stroke="#6e7268" stroke-width="1.0" stroke-dasharray="1.3,1.5" opacity="0.75"><circle cx="233.0" cy="816.5" r="777.1"/><circle cx="233.0" cy="816.5" r="642.9"/><circle cx="233.0" cy="816.5" r="511.3"/><circle cx="233.0" cy="816.5" r="381.8"/><circle cx="233.0" cy="816.5" r="253.7"/><circle cx="233.0" cy="816.5" r="126.6"/><line x1="233.0" y1="816.5" x2="-1684.6" y2="248.5"/><line x1="233.0" y1="816.5" x2="-1395.2" y2="-344.9"/><line x1="233.0" y1="816.5" x2="-928.4" y2="-811.7"/><line x1="233.0" y1="816.5" x2="-325.0" y2="-1104.1"/><line x1="233.0" y1="816.5" x2="320.2" y2="-1181.6"/><line x1="233.0" y1="816.5" x2="951.4" y2="-1050.0"/><line x1="233.0" y1="816.5" x2="1531.9" y2="-704.3"/><line x1="233.0" y1="816.5" x2="1956.3" y2="-198.6"/><line x1="233.0" y1="816.5" x2="2192.8" y2="417.8"/></g>
</g>
<rect x="0" y="0" width="481.6" height="695.1" fill="none" stroke="#111" stroke-width="1.2"/>
</g>
<g transform="translate(780.2,944.0)">
<g clip-path="url(#clipd)">
<rect width="481.8" height="695.4" fill="#fff"/>
<g filter="url(#blur)"><rect x="-12.0" y="-12.0" width="36.7" height="37.4" fill="#817dea"/><rect x="24.1" y="-12.0" width="24.7" height="37.4" fill="#9ffbdf"/><rect x="48.2" y="-12.0" width="24.7" height="37.4" fill="#80fad4"/><rect x="72.3" y="-12.0" width="24.7" height="37.4" fill="#a0bdea"/><rect x="96.4" y="-12.0" width="24.7" height="37.4" fill="#813ef4"/><rect x="120.5" y="-12.0" width="24.7" height="37.4" fill="#a17ef4"/><rect x="144.5" y="-12.0" width="24.7" height="37.4" fill="#813ef4"/><rect x="168.6" y="-12.0" width="24.7" height="37.4" fill="#a17ef4"/><rect x="192.7" y="-12.0" width="24.7" height="37.4" fill="#80fad4"/><rect x="216.8" y="-12.0" width="24.7" height="37.4" fill="#80fad4"/><rect x="240.9" y="-12.0" width="24.7" height="37.4" fill="#87facd"/><rect x="265.0" y="-12.0" width="24.7" height="37.4" fill="#8efac5"/><rect x="289.1" y="-12.0" width="24.7" height="37.4" fill="#95fabd"/><rect x="313.2" y="-12.0" width="24.7" height="37.4" fill="#9dfab5"/><rect x="337.3" y="-12.0" width="24.7" height="37.4" fill="#9dfab5"/><rect x="361.4" y="-12.0" width="24.7" height="37.4" fill="#9dfab5"/><rect x="385.4" y="-12.0" width="24.7" height="37.4" fill="#abf8a3"/><rect x="409.5" y="-12.0" width="24.7" height="37.4" fill="#d0d97a"/><rect x="433.6" y="-12.0" width="24.7" height="37.4" fill="#dbc96f"/><rect x="457.7" y="-12.0" width="36.7" height="37.4" fill="#cbe27f"/><rect x="-12.0" y="24.8" width="36.7" height="25.4" fill="#817dea"/><rect x="24.1" y="24.8" width="24.7" height="25.4" fill="#80bcdf"/><rect x="48.2" y="24.8" width="24.7" height="25.4" fill="#80fad4"/><rect x="72.3" y="24.8" width="24.7" height="25.4" fill="#80bcdf"/><rect x="96.4" y="24.8" width="24.7" height="25.4" fill="#80bcdf"/><rect x="120.5" y="24.8" width="24.7" height="25.4" fill="#817dea"/><rect x="144.5" y="24.8" width="24.7" height="25.4" fill="#80bcdf"/><rect x="168.6" y="24.8" width="24.7" height="25.4" fill="#80fad4"/><rect x="192.7" y="24.8" width="24.7" height="25.4" fill="#80fad4"/><rect x="216.8" y="24.8" width="24.7" height="25.4" fill="#80fad4"/><rect x="240.9" y="24.8" width="24.7" height="25.4" fill="#80fad4"/><rect x="265.0" y="24.8" width="24.7" height="25.4" fill="#87facd"/><rect x="289.1" y="24.8" width="24.7" height="25.4" fill="#8efac5"/><rect x="313.2" y="24.8" width="24.7" height="25.4" fill="#95fabd"/><rect x="337.3" y="24.8" width="24.7" height="25.4" fill="#9dfab5"/><rect x="361.4" y="24.8" width="24.7" height="25.4" fill="#9dfab5"/><rect x="385.4" y="24.8" width="24.7" height="25.4" fill="#b1f29d"/><rect x="409.5" y="24.8" width="24.7" height="25.4" fill="#e0bf6a"/><rect x="433.6" y="24.8" width="24.7" height="25.4" fill="#e6af62"/><rect x="457.7" y="24.8" width="36.7" height="25.4" fill="#e0bf6a"/><rect x="-12.0" y="49.7" width="36.7" height="25.4" fill="#80bcdf"/><rect x="24.1" y="49.7" width="24.7" height="25.4" fill="#80fad4"/><rect x="48.2" y="49.7" width="24.7" height="25.4" fill="#80fad4"/><rect x="72.3" y="49.7" width="24.7" height="25.4" fill="#80fad4"/><rect x="96.4" y="49.7" width="24.7" height="25.4" fill="#80fad4"/><rect x="120.5" y="49.7" width="24.7" height="25.4" fill="#80fad4"/><rect x="144.5" y="49.7" width="24.7" height="25.4" fill="#80fad4"/><rect x="168.6" y="49.7" width="24.7" height="25.4" fill="#80fad4"/><rect x="192.7" y="49.7" width="24.7" height="25.4" fill="#80fad4"/><rect x="216.8" y="49.7" width="24.7" height="25.4" fill="#87facd"/><rect x="240.9" y="49.7" width="24.7" height="25.4" fill="#8efac5"/><rect x="265.0" y="49.7" width="24.7" height="25.4" fill="#95fabd"/><rect x="289.1" y="49.7" width="24.7" height="25.4" fill="#9dfab5"/><rect x="313.2" y="49.7" width="24.7" height="25.4" fill="#9dfab5"/><rect x="337.3" y="49.7" width="24.7" height="25.4" fill="#9dfab5"/><rect x="361.4" y="49.7" width="24.7" height="25.4" fill="#a4f9ac"/><rect x="385.4" y="49.7" width="24.7" height="25.4" fill="#b2f89a"/><rect x="409.5" y="49.7" width="24.7" height="25.4" fill="#c5e985"/><rect x="433.6" y="49.7" width="24.7" height="25.4" fill="#cbe27f"/><rect x="457.7" y="49.7" width="36.7" height="25.4" fill="#c5e985"/><rect x="-12.0" y="74.5" width="36.7" height="25.4" fill="#80fad4"/><rect x="24.1" y="74.5" width="24.7" height="25.4" fill="#80fad4"/><rect x="48.2" y="74.5" width="24.7" height="25.4" fill="#80fad4"/><rect x="72.3" y="74.5" width="24.7" height="25.4" fill="#80fad4"/><rect x="96.4" y="74.5" width="24.7" height="25.4" fill="#80fad4"/><rect x="120.5" y="74.5" width="24.7" height="25.4" fill="#87facd"/><rect x="144.5" y="74.5" width="24.7" height="25.4" fill="#8efac5"/><rect x="168.6" y="74.5" width="24.7" height="25.4" fill="#95fabd"/><rect x="192.7" y="74.5" width="24.7" height="25.4" fill="#95fabd"/><rect x="216.8" y="74.5" width="24.7" height="25.4" fill="#9dfab5"/><rect x="240.9" y="74.5" width="24.7" height="25.4" fill="#9dfab5"/><rect x="265.0" y="74.5" width="24.7" height="25.4" fill="#9dfab5"/><rect x="289.1" y="74.5" width="24.7" height="25.4" fill="#9dfab5"/><rect x="313.2" y="74.5" width="24.7" height="25.4" fill="#9dfab5"/><rect x="337.3" y="74.5" width="24.7" height="25.4" fill="#a4f9ac"/><rect x="361.4" y="74.5" width="24.7" height="25.4" fill="#abf8a3"/><rect x="385.4" y="74.5" width="24.7" height="25.4" fill="#abf8a3"/><rect x="409.5" y="74.5" width="24.7" height="25.4" fill="#b2f89a"/><rect x="433.6" y="74.5" width="24.7" height="25.4" fill="#b9f791"/><rect x="457.7" y="74.5" width="36.7" height="25.4" fill="#b2f89a"/><rect x="-12.0" y="99.3" width="36.7" height="25.4" fill="#bffcea"/><rect x="24.1" y="99.3" width="24.7" height="25.4" fill="#9ffbdf"/><rect x="48.2" y="99.3" width="24.7" height="25.4" fill="#bcfabd"/><rect x="72.3" y="99.3" width="24.7" height="25.4" fill="#dbbf6d"/><rect x="96.4" y="99.3" width="24.7" height="25.4" fill="#e8a85e"/><rect x="120.5" y="99.3" width="24.7" height="25.4" fill="#e8a85e"/><rect x="144.5" y="99.3" width="24.7" height="25.4" fill="#e6af62"/><rect x="168.6" y="99.3" width="24.7" height="25.4" fill="#dbc96f"/><rect x="192.7" y="99.3" width="24.7" height="25.4" fill="#cbe27f"/><rect x="216.8" y="99.3" width="24.7" height="25.4" fill="#cbe27f"/><rect x="240.9" y="99.3" width="24.7" height="25.4" fill="#cbe27f"/><rect x="265.0" y="99.3" width="24.7" height="25.4" fill="#c5e985"/><rect x="289.1" y="99.3" width="24.7" height="25.4" fill="#c5e985"/><rect x="313.2" y="99.3" width="24.7" height="25.4" fill="#cbe27f"/><rect x="337.3" y="99.3" width="24.7" height="25.4" fill="#cbe27f"/><rect x="361.4" y="99.3" width="24.7" height="25.4" fill="#cbe27f"/><rect x="385.4" y="99.3" width="24.7" height="25.4" fill="#cbe27f"/><rect x="409.5" y="99.3" width="24.7" height="25.4" fill="#d0d97a"/><rect x="433.6" y="99.3" width="24.7" height="25.4" fill="#c5e985"/><rect x="457.7" y="99.3" width="36.7" height="25.4" fill="#bff08b"/><rect x="-12.0" y="124.2" width="36.7" height="25.4" fill="#bffcea"/><rect x="24.1" y="124.2" width="24.7" height="25.4" fill="#c7fce2"/><rect x="48.2" y="124.2" width="24.7" height="25.4" fill="#d5cca1"/><rect x="72.3" y="124.2" width="24.7" height="25.4" fill="#ec8d50"/><rect x="96.4" y="124.2" width="24.7" height="25.4" fill="#bae3c0"/><rect x="120.5" y="124.2" width="24.7" height="25.4" fill="#a7fbd7"/><rect x="144.5" y="124.2" width="24.7" height="25.4" fill="#aefbcf"/><rect x="168.6" y="124.2" width="24.7" height="25.4" fill="#9cf9b4"/><rect x="192.7" y="124.2" width="24.7" height="25.4" fill="#b5fac6"/><rect x="216.8" y="124.2" width="24.7" height="25.4" fill="#beea8e"/><rect x="240.9" y="124.2" width="24.7" height="25.4" fill="#d0d97a"/><rect x="265.0" y="124.2" width="24.7" height="25.4" fill="#dbc96f"/><rect x="289.1" y="124.2" width="24.7" height="25.4" fill="#e0bf6a"/><rect x="313.2" y="124.2" width="24.7" height="25.4" fill="#e0bf6a"/><rect x="337.3" y="124.2" width="24.7" height="25.4" fill="#e0bf6a"/><rect x="361.4" y="124.2" width="24.7" height="25.4" fill="#e1b867"/><rect x="385.4" y="124.2" width="24.7" height="25.4" fill="#e1b867"/><rect x="409.5" y="124.2" width="24.7" height="25.4" fill="#e0bf6a"/><rect x="433.6" y="124.2" width="24.7" height="25.4" fill="#d5d075"/><rect x="457.7" y="124.2" width="36.7" height="25.4" fill="#d0d97a"/><rect x="-12.0" y="149.0" width="36.7" height="25.4" fill="#bffcea"/><rect x="24.1" y="149.0" width="24.7" height="25.4" fill="#bae3c0"/><rect x="48.2" y="149.0" width="24.7" height="25.4" fill="#ec8d50"/><rect x="72.3" y="149.0" width="24.7" height="25.4" fill="#efb481"/><rect x="96.4" y="149.0" width="24.7" height="25.4" fill="#9ffbdf"/><rect x="120.5" y="149.0" width="24.7" height="25.4" fill="#a0bdea"/><rect x="144.5" y="149.0" width="24.7" height="25.4" fill="#80bcdf"/><rect x="168.6" y="149.0" width="24.7" height="25.4" fill="#9ffbdf"/><rect x="192.7" y="149.0" width="24.7" height="25.4" fill="#80bcdf"/><rect x="216.8" y="149.0" width="24.7" height="25.4" fill="#9ffbdf"/><rect x="240.9" y="149.0" width="24.7" height="25.4" fill="#95f9bc"/><rect x="265.0" y="149.0" width="24.7" height="25.4" fill="#c3e189"/><rect x="289.1" y="149.0" width="24.7" height="25.4" fill="#d5d075"/><rect x="313.2" y="149.0" width="24.7" height="25.4" fill="#e0bf6a"/><rect x="337.3" y="149.0" width="24.7" height="25.4" fill="#e0bf6a"/><rect x="361.4" y="149.0" width="24.7" height="25.4" fill="#dbc96f"/><rect x="385.4" y="149.0" width="24.7" height="25.4" fill="#d0d97a"/><rect x="409.5" y="149.0" width="24.7" height="25.4" fill="#beea8e"/><rect x="433.6" y="149.0" width="24.7" height="25.4" fill="#b5fac6"/><rect x="457.7" y="149.0" width="36.7" height="25.4" fill="#a7fbd7"/><rect x="-12.0" y="173.8" width="36.7" height="25.4" fill="#a0bdea"/><rect x="24.1" y="173.8" width="24.7" height="25.4" fill="#9ffbdf"/><rect x="48.2" y="173.8" width="24.7" height="25.4" fill="#b5ca96"/><rect x="72.3" y="173.8" width="24.7" height="25.4" fill="#e0a45f"/><rect x="96.4" y="173.8" width="24.7" height="25.4" fill="#c3ca85"/><rect x="120.5" y="173.8" width="24.7" height="25.4" fill="#9ffbdf"/><rect x="144.5" y="173.8" width="24.7" height="25.4" fill="#9ffbdf"/><rect x="168.6" y="173.8" width="24.7" height="25.4" fill="#80bcdf"/><rect x="192.7" y="173.8" width="24.7" height="25.4" fill="#8efac5"/><rect x="216.8" y="173.8" width="24.7" height="25.4" fill="#87facd"/><rect x="240.9" y="173.8" width="24.7" height="25.4" fill="#c8e3af"/><rect x="265.0" y="173.8" width="24.7" height="25.4" fill="#80fad4"/><rect x="289.1" y="173.8" width="24.7" height="25.4" fill="#9ffbdf"/><rect x="313.2" y="173.8" width="24.7" height="25.4" fill="#9ffbdf"/><rect x="337.3" y="173.8" width="24.7" height="25.4" fill="#bffcea"/><rect x="361.4" y="173.8" width="24.7" height="25.4" fill="#80bcdf"/><rect x="385.4" y="173.8" width="24.7" height="25.4" fill="#9ffbdf"/><rect x="409.5" y="173.8" width="24.7" height="25.4" fill="#a7fbd7"/><rect x="433.6" y="173.8" width="24.7" height="25.4" fill="#bee18c"/><rect x="457.7" y="173.8" width="36.7" height="25.4" fill="#9dfab5"/><rect x="-12.0" y="198.7" width="36.7" height="25.4" fill="#bffcea"/><rect x="24.1" y="198.7" width="24.7" height="25.4" fill="#dffef4"/><rect x="48.2" y="198.7" width="24.7" height="25.4" fill="#bffcea"/><rect x="72.3" y="198.7" width="24.7" height="25.4" fill="#f26d3d"/><rect x="96.4" y="198.7" width="24.7" height="25.4" fill="#ff1c0c"/><rect x="120.5" y="198.7" width="24.7" height="25.4" fill="#f74d2a"/><rect x="144.5" y="198.7" width="24.7" height="25.4" fill="#9ffbdf"/><rect x="168.6" y="198.7" width="24.7" height="25.4" fill="#80bcdf"/><rect x="192.7" y="198.7" width="24.7" height="25.4" fill="#817dea"/><rect x="216.8" y="198.7" width="24.7" height="25.4" fill="#9ffbdf"/><rect x="240.9" y="198.7" width="24.7" height="25.4" fill="#9ae2b5"/><rect x="265.0" y="198.7" width="24.7" height="25.4" fill="#b5ca96"/><rect x="289.1" y="198.7" width="24.7" height="25.4" fill="#9ffbdf"/><rect x="313.2" y="198.7" width="24.7" height="25.4" fill="#bffcea"/><rect x="337.3" y="198.7" width="24.7" height="25.4" fill="#80bcdf"/><rect x="361.4" y="198.7" width="24.7" height="25.4" fill="#9ffbdf"/><rect x="385.4" y="198.7" width="24.7" height="25.4" fill="#80fad4"/><rect x="409.5" y="198.7" width="24.7" height="25.4" fill="#b7e195"/><rect x="433.6" y="198.7" width="24.7" height="25.4" fill="#8efac5"/><rect x="457.7" y="198.7" width="36.7" height="25.4" fill="#80fad4"/><rect x="-12.0" y="223.5" width="36.7" height="25.4" fill="#dffef4"/><rect x="24.1" y="223.5" width="24.7" height="25.4" fill="#ffffff"/><rect x="48.2" y="223.5" width="24.7" height="25.4" fill="#bffcea"/><rect x="72.3" y="223.5" width="24.7" height="25.4" fill="#f74d2a"/><rect x="96.4" y="223.5" width="24.7" height="25.4" fill="#ff1c0c"/><rect x="120.5" y="223.5" width="24.7" height="25.4" fill="#d7855c"/><rect x="144.5" y="223.5" width="24.7" height="25.4" fill="#9ffbdf"/><rect x="168.6" y="223.5" width="24.7" height="25.4" fill="#6f62f5"/><rect x="192.7" y="223.5" width="24.7" height="25.4" fill="#7831fa"/><rect x="216.8" y="223.5" width="24.7" height="25.4" fill="#817dea"/><rect x="240.9" y="223.5" width="24.7" height="25.4" fill="#b5ca96"/><rect x="265.0" y="223.5" width="24.7" height="25.4" fill="#9ffbdf"/><rect x="289.1" y="223.5" width="24.7" height="25.4" fill="#80fad4"/><rect x="313.2" y="223.5" width="24.7" height="25.4" fill="#80bcdf"/><rect x="337.3" y="223.5" width="24.7" height="25.4" fill="#817dea"/><rect x="361.4" y="223.5" width="24.7" height="25.4" fill="#80fad4"/><rect x="385.4" y="223.5" width="24.7" height="25.4" fill="#87facd"/><rect x="409.5" y="223.5" width="24.7" height="25.4" fill="#9ae2b5"/><rect x="433.6" y="223.5" width="24.7" height="25.4" fill="#80fad4"/><rect x="457.7" y="223.5" width="36.7" height="25.4" fill="#9ffbdf"/><rect x="-12.0" y="248.4" width="36.7" height="25.4" fill="#ffffff"/><rect x="24.1" y="248.4" width="24.7" height="25.4" fill="#ffffff"/><rect x="48.2" y="248.4" width="24.7" height="25.4" fill="#dffef4"/><rect x="72.3" y="248.4" width="24.7" height="25.4" fill="#bffcea"/><rect x="96.4" y="248.4" width="24.7" height="25.4" fill="#bae3c0"/><rect x="120.5" y="248.4" width="24.7" height="25.4" fill="#9ffbdf"/><rect x="144.5" y="248.4" width="24.7" height="25.4" fill="#817dea"/><rect x="168.6" y="248.4" width="24.7" height="25.4" fill="#a17ef4"/><rect x="192.7" y="248.4" width="24.7" height="25.4" fill="#7831fa"/><rect x="216.8" y="248.4" width="24.7" height="25.4" fill="#817dea"/><rect x="240.9" y="248.4" width="24.7" height="25.4" fill="#bffcea"/><rect x="265.0" y="248.4" width="24.7" height="25.4" fill="#9ffbdf"/><rect x="289.1" y="248.4" width="24.7" height="25.4" fill="#9ffbdf"/><rect x="313.2" y="248.4" width="24.7" height="25.4" fill="#80bcdf"/><rect x="337.3" y="248.4" width="24.7" height="25.4" fill="#80fad4"/><rect x="361.4" y="248.4" width="24.7" height="25.4" fill="#9ffbdf"/><rect x="385.4" y="248.4" width="24.7" height="25.4" fill="#8efac5"/><rect x="409.5" y="248.4" width="24.7" height="25.4" fill="#9ffbdf"/><rect x="433.6" y="248.4" width="24.7" height="25.4" fill="#80fad4"/><rect x="457.7" y="248.4" width="36.7" height="25.4" fill="#9ffbdf"/><rect x="-12.0" y="273.2" width="36.7" height="25.4" fill="#dffef4"/><rect x="24.1" y="273.2" width="24.7" height="25.4" fill="#dffef4"/><rect x="48.2" y="273.2" width="24.7" height="25.4" fill="#bffcea"/><rect x="72.3" y="273.2" width="24.7" height="25.4" fill="#9ffbdf"/><rect x="96.4" y="273.2" width="24.7" height="25.4" fill="#80bcdf"/><rect x="120.5" y="273.2" width="24.7" height="25.4" fill="#bffcea"/><rect x="144.5" y="273.2" width="24.7" height="25.4" fill="#817dea"/><rect x="168.6" y="273.2" width="24.7" height="25.4" fill="#6f62f5"/><rect x="192.7" y="273.2" width="24.7" height="25.4" fill="#7831fa"/><rect x="216.8" y="273.2" width="24.7" height="25.4" fill="#817dea"/><rect x="240.9" y="273.2" width="24.7" height="25.4" fill="#817dea"/><rect x="265.0" y="273.2" width="24.7" height="25.4" fill="#817dea"/><rect x="289.1" y="273.2" width="24.7" height="25.4" fill="#80bcdf"/><rect x="313.2" y="273.2" width="24.7" height="25.4" fill="#9ffbdf"/><rect x="337.3" y="273.2" width="24.7" height="25.4" fill="#9ffbdf"/><rect x="361.4" y="273.2" width="24.7" height="25.4" fill="#80fad4"/><rect x="385.4" y="273.2" width="24.7" height="25.4" fill="#9ffbdf"/><rect x="409.5" y="273.2" width="24.7" height="25.4" fill="#80fad4"/><rect x="433.6" y="273.2" width="24.7" height="25.4" fill="#80bcdf"/><rect x="457.7" y="273.2" width="36.7" height="25.4" fill="#9ffbdf"/><rect x="-12.0" y="298.0" width="36.7" height="25.4" fill="#dffef4"/><rect x="24.1" y="298.0" width="24.7" height="25.4" fill="#bffcea"/><rect x="48.2" y="298.0" width="24.7" height="25.4" fill="#bae3c0"/><rect x="72.3" y="298.0" width="24.7" height="25.4" fill="#9ffbdf"/><rect x="96.4" y="298.0" width="24.7" height="25.4" fill="#bffcea"/><rect x="120.5" y="298.0" width="24.7" height="25.4" fill="#80bcdf"/><rect x="144.5" y="298.0" width="24.7" height="25.4" fill="#80bcdf"/><rect x="168.6" y="298.0" width="24.7" height="25.4" fill="#80bcdf"/><rect x="192.7" y="298.0" width="24.7" height="25.4" fill="#786fef"/><rect x="216.8" y="298.0" width="24.7" height="25.4" fill="#80fad4"/><rect x="240.9" y="298.0" width="24.7" height="25.4" fill="#80bcdf"/><rect x="265.0" y="298.0" width="24.7" height="25.4" fill="#817dea"/><rect x="289.1" y="298.0" width="24.7" height="25.4" fill="#80fad4"/><rect x="313.2" y="298.0" width="24.7" height="25.4" fill="#bffcea"/><rect x="337.3" y="298.0" width="24.7" height="25.4" fill="#80fad4"/><rect x="361.4" y="298.0" width="24.7" height="25.4" fill="#9ffbdf"/><rect x="385.4" y="298.0" width="24.7" height="25.4" fill="#9ae2b5"/><rect x="409.5" y="298.0" width="24.7" height="25.4" fill="#9ffbdf"/><rect x="433.6" y="298.0" width="24.7" height="25.4" fill="#9ffbdf"/><rect x="457.7" y="298.0" width="36.7" height="25.4" fill="#9ffbdf"/><rect x="-12.0" y="322.9" width="36.7" height="25.4" fill="#ffffff"/><rect x="24.1" y="322.9" width="24.7" height="25.4" fill="#ffffff"/><rect x="48.2" y="322.9" width="24.7" height="25.4" fill="#ffffff"/><rect x="72.3" y="322.9" width="24.7" height="25.4" fill="#ffffff"/><rect x="96.4" y="322.9" width="24.7" height="25.4" fill="#ffffff"/><rect x="120.5" y="322.9" width="24.7" height="25.4" fill="#ffffff"/><rect x="144.5" y="322.9" width="24.7" height="25.4" fill="#bae3c0"/><rect x="168.6" y="322.9" width="24.7" height="25.4" fill="#80fad4"/><rect x="192.7" y="322.9" width="24.7" height="25.4" fill="#80bcdf"/><rect x="216.8" y="322.9" width="24.7" height="25.4" fill="#817dea"/><rect x="240.9" y="322.9" width="24.7" height="25.4" fill="#786fef"/><rect x="265.0" y="322.9" width="24.7" height="25.4" fill="#80bcdf"/><rect x="289.1" y="322.9" width="24.7" height="25.4" fill="#80fad4"/><rect x="313.2" y="322.9" width="24.7" height="25.4" fill="#9ffbdf"/><rect x="337.3" y="322.9" width="24.7" height="25.4" fill="#9ffbdf"/><rect x="361.4" y="322.9" width="24.7" height="25.4" fill="#b5ca96"/><rect x="385.4" y="322.9" width="24.7" height="25.4" fill="#9ae2b5"/><rect x="409.5" y="322.9" width="24.7" height="25.4" fill="#9ffbdf"/><rect x="433.6" y="322.9" width="24.7" height="25.4" fill="#9ffbdf"/><rect x="457.7" y="322.9" width="36.7" height="25.4" fill="#80fad4"/><rect x="-12.0" y="347.7" width="36.7" height="25.4" fill="#ffffff"/><rect x="24.1" y="347.7" width="24.7" height="25.4" fill="#ffffff"/><rect x="48.2" y="347.7" width="24.7" height="25.4" fill="#ffffff"/><rect x="72.3" y="347.7" width="24.7" height="25.4" fill="#ffffff"/><rect x="96.4" y="347.7" width="24.7" height="25.4" fill="#ffffff"/><rect x="120.5" y="347.7" width="24.7" height="25.4" fill="#ffffff"/><rect x="144.5" y="347.7" width="24.7" height="25.4" fill="#ffffff"/><rect x="168.6" y="347.7" width="24.7" height="25.4" fill="#80fad4"/><rect x="192.7" y="347.7" width="24.7" height="25.4" fill="#80bcdf"/><rect x="216.8" y="347.7" width="24.7" height="25.4" fill="#786fef"/><rect x="240.9" y="347.7" width="24.7" height="25.4" fill="#817dea"/><rect x="265.0" y="347.7" width="24.7" height="25.4" fill="#bffcea"/><rect x="289.1" y="347.7" width="24.7" height="25.4" fill="#80bcdf"/><rect x="313.2" y="347.7" width="24.7" height="25.4" fill="#786fef"/><rect x="337.3" y="347.7" width="24.7" height="25.4" fill="#9ffbdf"/><rect x="361.4" y="347.7" width="24.7" height="25.4" fill="#9ffbdf"/><rect x="385.4" y="347.7" width="24.7" height="25.4" fill="#80fad4"/><rect x="409.5" y="347.7" width="24.7" height="25.4" fill="#9ffbdf"/><rect x="433.6" y="347.7" width="24.7" height="25.4" fill="#9ffbdf"/><rect x="457.7" y="347.7" width="36.7" height="25.4" fill="#80fad4"/><rect x="-12.0" y="372.5" width="36.7" height="25.4" fill="#ffffff"/><rect x="24.1" y="372.5" width="24.7" height="25.4" fill="#ffffff"/><rect x="48.2" y="372.5" width="24.7" height="25.4" fill="#ffffff"/><rect x="72.3" y="372.5" width="24.7" height="25.4" fill="#ffffff"/><rect x="96.4" y="372.5" width="24.7" height="25.4" fill="#ffffff"/><rect x="120.5" y="372.5" width="24.7" height="25.4" fill="#ffffff"/><rect x="144.5" y="372.5" width="24.7" height="25.4" fill="#bffcea"/><rect x="168.6" y="372.5" width="24.7" height="25.4" fill="#9ffbdf"/><rect x="192.7" y="372.5" width="24.7" height="25.4" fill="#80bcdf"/><rect x="216.8" y="372.5" width="24.7" height="25.4" fill="#817dea"/><rect x="240.9" y="372.5" width="24.7" height="25.4" fill="#bffcea"/><rect x="265.0" y="372.5" width="24.7" height="25.4" fill="#786fef"/><rect x="289.1" y="372.5" width="24.7" height="25.4" fill="#80bcdf"/><rect x="313.2" y="372.5" width="24.7" height="25.4" fill="#817dea"/><rect x="337.3" y="372.5" width="24.7" height="25.4" fill="#9ffbdf"/><rect x="361.4" y="372.5" width="24.7" height="25.4" fill="#9ffbdf"/><rect x="385.4" y="372.5" width="24.7" height="25.4" fill="#80fad4"/><rect x="409.5" y="372.5" width="24.7" height="25.4" fill="#9ffbdf"/><rect x="433.6" y="372.5" width="24.7" height="25.4" fill="#80bcdf"/><rect x="457.7" y="372.5" width="36.7" height="25.4" fill="#9ffbdf"/><rect x="-12.0" y="397.4" width="36.7" height="25.4" fill="#ffffff"/><rect x="24.1" y="397.4" width="24.7" height="25.4" fill="#ffffff"/><rect x="48.2" y="397.4" width="24.7" height="25.4" fill="#ffffff"/><rect x="72.3" y="397.4" width="24.7" height="25.4" fill="#ffffff"/><rect x="96.4" y="397.4" width="24.7" height="25.4" fill="#ffffff"/><rect x="120.5" y="397.4" width="24.7" height="25.4" fill="#ffffff"/><rect x="144.5" y="397.4" width="24.7" height="25.4" fill="#faad98"/><rect x="168.6" y="397.4" width="24.7" height="25.4" fill="#9ffbdf"/><rect x="192.7" y="397.4" width="24.7" height="25.4" fill="#bffcea"/><rect x="216.8" y="397.4" width="24.7" height="25.4" fill="#9ffbdf"/><rect x="240.9" y="397.4" width="24.7" height="25.4" fill="#bffcea"/><rect x="265.0" y="397.4" width="24.7" height="25.4" fill="#786fef"/><rect x="289.1" y="397.4" width="24.7" height="25.4" fill="#9ffbdf"/><rect x="313.2" y="397.4" width="24.7" height="25.4" fill="#9ffbdf"/><rect x="337.3" y="397.4" width="24.7" height="25.4" fill="#80fad4"/><rect x="361.4" y="397.4" width="24.7" height="25.4" fill="#9ffbdf"/><rect x="385.4" y="397.4" width="24.7" height="25.4" fill="#80bcdf"/><rect x="409.5" y="397.4" width="24.7" height="25.4" fill="#80fad4"/><rect x="433.6" y="397.4" width="24.7" height="25.4" fill="#9ffbdf"/><rect x="457.7" y="397.4" width="36.7" height="25.4" fill="#9ffbdf"/><rect x="-12.0" y="422.2" width="36.7" height="25.4" fill="#ffffff"/><rect x="24.1" y="422.2" width="24.7" height="25.4" fill="#ffffff"/><rect x="48.2" y="422.2" width="24.7" height="25.4" fill="#ffffff"/><rect x="72.3" y="422.2" width="24.7" height="25.4" fill="#ffffff"/><rect x="96.4" y="422.2" width="24.7" height="25.4" fill="#ffffff"/><rect x="120.5" y="422.2" width="24.7" height="25.4" fill="#ffffff"/><rect x="144.5" y="422.2" width="24.7" height="25.4" fill="#ff8e86"/><rect x="168.6" y="422.2" width="24.7" height="25.4" fill="#ff5549"/><rect x="192.7" y="422.2" width="24.7" height="25.4" fill="#ff5549"/><rect x="216.8" y="422.2" width="24.7" height="25.4" fill="#ff8e86"/><rect x="240.9" y="422.2" width="24.7" height="25.4" fill="#bffcea"/><rect x="265.0" y="422.2" width="24.7" height="25.4" fill="#80fad4"/><rect x="289.1" y="422.2" width="24.7" height="25.4" fill="#ff8e86"/><rect x="313.2" y="422.2" width="24.7" height="25.4" fill="#ff1c0c"/><rect x="337.3" y="422.2" width="24.7" height="25.4" fill="#ff5549"/><rect x="361.4" y="422.2" width="24.7" height="25.4" fill="#ff8e86"/><rect x="385.4" y="422.2" width="24.7" height="25.4" fill="#9ffbdf"/><rect x="409.5" y="422.2" width="24.7" height="25.4" fill="#9ffbdf"/><rect x="433.6" y="422.2" width="24.7" height="25.4" fill="#9ffbdf"/><rect x="457.7" y="422.2" width="36.7" height="25.4" fill="#80fad4"/><rect x="-12.0" y="447.0" width="36.7" height="25.4" fill="#ffffff"/><rect x="24.1" y="447.0" width="24.7" height="25.4" fill="#ffffff"/><rect x="48.2" y="447.0" width="24.7" height="25.4" fill="#ffffff"/><rect x="72.3" y="447.0" width="24.7" height="25.4" fill="#ffffff"/><rect x="96.4" y="447.0" width="24.7" height="25.4" fill="#ffffff"/><rect x="120.5" y="447.0" width="24.7" height="25.4" fill="#ffffff"/><rect x="144.5" y="447.0" width="24.7" height="25.4" fill="#ff8e86"/><rect x="168.6" y="447.0" width="24.7" height="25.4" fill="#ff1c0c"/><rect x="192.7" y="447.0" width="24.7" height="25.4" fill="#ff1c0c"/><rect x="216.8" y="447.0" width="24.7" height="25.4" fill="#ff1c0c"/><rect x="240.9" y="447.0" width="24.7" height="25.4" fill="#ff5549"/><rect x="265.0" y="447.0" width="24.7" height="25.4" fill="#fa3c1f"/><rect x="289.1" y="447.0" width="24.7" height="25.4" fill="#ff1c0c"/><rect x="313.2" y="447.0" width="24.7" height="25.4" fill="#ff1c0c"/><rect x="337.3" y="447.0" width="24.7" height="25.4" fill="#ff1c0c"/><rect x="361.4" y="447.0" width="24.7" height="25.4" fill="#ff1c0c"/><rect x="385.4" y="447.0" width="24.7" height="25.4" fill="#ff1c0c"/><rect x="409.5" y="447.0" width="24.7" height="25.4" fill="#df8c7b"/><rect x="433.6" y="447.0" width="24.7" height="25.4" fill="#9ffbdf"/><rect x="457.7" y="447.0" width="36.7" height="25.4" fill="#9ffbdf"/><rect x="-12.0" y="471.9" width="36.7" height="25.4" fill="#ffffff"/><rect x="24.1" y="471.9" width="24.7" height="25.4" fill="#ffffff"/><rect x="48.2" y="471.9" width="24.7" height="25.4" fill="#ffffff"/><rect x="72.3" y="471.9" width="24.7" height="25.4" fill="#ffffff"/><rect x="96.4" y="471.9" width="24.7" height="25.4" fill="#ffffff"/><rect x="120.5" y="471.9" width="24.7" height="25.4" fill="#ffffff"/><rect x="144.5" y="471.9" width="24.7" height="25.4" fill="#ffc6c2"/><rect x="168.6" y="471.9" width="24.7" height="25.4" fill="#ff5549"/><rect x="192.7" y="471.9" width="24.7" height="25.4" fill="#ff1c0c"/><rect x="216.8" y="471.9" width="24.7" height="25.4" fill="#ff5549"/><rect x="240.9" y="471.9" width="24.7" height="25.4" fill="#ff1c0c"/><rect x="265.0" y="471.9" width="24.7" height="25.4" fill="#ff1c0c"/><rect x="289.1" y="471.9" width="24.7" height="25.4" fill="#ff1c0c"/><rect x="313.2" y="471.9" width="24.7" height="25.4" fill="#ff1c0c"/><rect x="337.3" y="471.9" width="24.7" height="25.4" fill="#ff1c0c"/><rect x="361.4" y="471.9" width="24.7" height="25.4" fill="#ff1c0c"/><rect x="385.4" y="471.9" width="24.7" height="25.4" fill="#ff1c0c"/><rect x="409.5" y="471.9" width="24.7" height="25.4" fill="#ff1c0c"/><rect x="433.6" y="471.9" width="24.7" height="25.4" fill="#ff1c0c"/><rect x="457.7" y="471.9" width="36.7" height="25.4" fill="#ff5549"/><rect x="-12.0" y="496.7" width="36.7" height="25.4" fill="#ffffff"/><rect x="24.1" y="496.7" width="24.7" height="25.4" fill="#ffffff"/><rect x="48.2" y="496.7" width="24.7" height="25.4" fill="#ffffff"/><rect x="72.3" y="496.7" width="24.7" height="25.4" fill="#ffffff"/><rect x="96.4" y="496.7" width="24.7" height="25.4" fill="#ffffff"/><rect x="120.5" y="496.7" width="24.7" height="25.4" fill="#ffffff"/><rect x="144.5" y="496.7" width="24.7" height="25.4" fill="#ffffff"/><rect x="168.6" y="496.7" width="24.7" height="25.4" fill="#ffffff"/><rect x="192.7" y="496.7" width="24.7" height="25.4" fill="#ffffff"/><rect x="216.8" y="496.7" width="24.7" height="25.4" fill="#ffffff"/><rect x="240.9" y="496.7" width="24.7" height="25.4" fill="#ff8e86"/><rect x="265.0" y="496.7" width="24.7" height="25.4" fill="#ff5549"/><rect x="289.1" y="496.7" width="24.7" height="25.4" fill="#ff1c0c"/><rect x="313.2" y="496.7" width="24.7" height="25.4" fill="#ff1c0c"/><rect x="337.3" y="496.7" width="24.7" height="25.4" fill="#ff1c0c"/><rect x="361.4" y="496.7" width="24.7" height="25.4" fill="#ff5549"/><rect x="385.4" y="496.7" width="24.7" height="25.4" fill="#ff1c0c"/><rect x="409.5" y="496.7" width="24.7" height="25.4" fill="#ff8e86"/><rect x="433.6" y="496.7" width="24.7" height="25.4" fill="#ffc6c2"/><rect x="457.7" y="496.7" width="36.7" height="25.4" fill="#ffc6c2"/><rect x="-12.0" y="521.5" width="36.7" height="25.4" fill="#ffffff"/><rect x="24.1" y="521.5" width="24.7" height="25.4" fill="#ffffff"/><rect x="48.2" y="521.5" width="24.7" height="25.4" fill="#ffffff"/><rect x="72.3" y="521.5" width="24.7" height="25.4" fill="#ffffff"/><rect x="96.4" y="521.5" width="24.7" height="25.4" fill="#ffffff"/><rect x="120.5" y="521.5" width="24.7" height="25.4" fill="#ffffff"/><rect x="144.5" y="521.5" width="24.7" height="25.4" fill="#ffffff"/><rect x="168.6" y="521.5" width="24.7" height="25.4" fill="#ffffff"/><rect x="192.7" y="521.5" width="24.7" height="25.4" fill="#ffffff"/><rect x="216.8" y="521.5" width="24.7" height="25.4" fill="#ffffff"/><rect x="240.9" y="521.5" width="24.7" height="25.4" fill="#ffffff"/><rect x="265.0" y="521.5" width="24.7" height="25.4" fill="#ffffff"/><rect x="289.1" y="521.5" width="24.7" height="25.4" fill="#ffc6c2"/><rect x="313.2" y="521.5" width="24.7" height="25.4" fill="#ff8e86"/><rect x="337.3" y="521.5" width="24.7" height="25.4" fill="#ffc6c2"/><rect x="361.4" y="521.5" width="24.7" height="25.4" fill="#ffffff"/><rect x="385.4" y="521.5" width="24.7" height="25.4" fill="#ffffff"/><rect x="409.5" y="521.5" width="24.7" height="25.4" fill="#ffffff"/><rect x="433.6" y="521.5" width="24.7" height="25.4" fill="#ffffff"/><rect x="457.7" y="521.5" width="36.7" height="25.4" fill="#ffffff"/><rect x="-12.0" y="546.4" width="36.7" height="25.4" fill="#ffffff"/><rect x="24.1" y="546.4" width="24.7" height="25.4" fill="#ffffff"/><rect x="48.2" y="546.4" width="24.7" height="25.4" fill="#ffffff"/><rect x="72.3" y="546.4" width="24.7" height="25.4" fill="#ffffff"/><rect x="96.4" y="546.4" width="24.7" height="25.4" fill="#ffffff"/><rect x="120.5" y="546.4" width="24.7" height="25.4" fill="#ffffff"/><rect x="144.5" y="546.4" width="24.7" height="25.4" fill="#ffffff"/><rect x="168.6" y="546.4" width="24.7" height="25.4" fill="#ffffff"/><rect x="192.7" y="546.4" width="24.7" height="25.4" fill="#ffffff"/><rect x="216.8" y="546.4" width="24.7" height="25.4" fill="#ffffff"/><rect x="240.9" y="546.4" width="24.7" height="25.4" fill="#ffffff"/><rect x="265.0" y="546.4" width="24.7" height="25.4" fill="#ffffff"/><rect x="289.1" y="546.4" width="24.7" height="25.4" fill="#ffffff"/><rect x="313.2" y="546.4" width="24.7" height="25.4" fill="#ffffff"/><rect x="337.3" y="546.4" width="24.7" height="25.4" fill="#ffffff"/><rect x="361.4" y="546.4" width="24.7" height="25.4" fill="#ffffff"/><rect x="385.4" y="546.4" width="24.7" height="25.4" fill="#ffffff"/><rect x="409.5" y="546.4" width="24.7" height="25.4" fill="#ffffff"/><rect x="433.6" y="546.4" width="24.7" height="25.4" fill="#ffffff"/><rect x="457.7" y="546.4" width="36.7" height="25.4" fill="#ffffff"/><rect x="-12.0" y="571.2" width="36.7" height="25.4" fill="#ffffff"/><rect x="24.1" y="571.2" width="24.7" height="25.4" fill="#ffffff"/><rect x="48.2" y="571.2" width="24.7" height="25.4" fill="#ffffff"/><rect x="72.3" y="571.2" width="24.7" height="25.4" fill="#ffffff"/><rect x="96.4" y="571.2" width="24.7" height="25.4" fill="#ffffff"/><rect x="120.5" y="571.2" width="24.7" height="25.4" fill="#ffffff"/><rect x="144.5" y="571.2" width="24.7" height="25.4" fill="#ffffff"/><rect x="168.6" y="571.2" width="24.7" height="25.4" fill="#ffffff"/><rect x="192.7" y="571.2" width="24.7" height="25.4" fill="#ffffff"/><rect x="216.8" y="571.2" width="24.7" height="25.4" fill="#ffffff"/><rect x="240.9" y="571.2" width="24.7" height="25.4" fill="#ffffff"/><rect x="265.0" y="571.2" width="24.7" height="25.4" fill="#ffffff"/><rect x="289.1" y="571.2" width="24.7" height="25.4" fill="#ffffff"/><rect x="313.2" y="571.2" width="24.7" height="25.4" fill="#ffffff"/><rect x="337.3" y="571.2" width="24.7" height="25.4" fill="#ffffff"/><rect x="361.4" y="571.2" width="24.7" height="25.4" fill="#ffffff"/><rect x="385.4" y="571.2" width="24.7" height="25.4" fill="#ffffff"/><rect x="409.5" y="571.2" width="24.7" height="25.4" fill="#ffffff"/><rect x="433.6" y="571.2" width="24.7" height="25.4" fill="#ffffff"/><rect x="457.7" y="571.2" width="36.7" height="25.4" fill="#ffffff"/><rect x="-12.0" y="596.1" width="36.7" height="25.4" fill="#ffffff"/><rect x="24.1" y="596.1" width="24.7" height="25.4" fill="#ffffff"/><rect x="48.2" y="596.1" width="24.7" height="25.4" fill="#ffffff"/><rect x="72.3" y="596.1" width="24.7" height="25.4" fill="#ffffff"/><rect x="96.4" y="596.1" width="24.7" height="25.4" fill="#ffffff"/><rect x="120.5" y="596.1" width="24.7" height="25.4" fill="#ffffff"/><rect x="144.5" y="596.1" width="24.7" height="25.4" fill="#ffffff"/><rect x="168.6" y="596.1" width="24.7" height="25.4" fill="#ffffff"/><rect x="192.7" y="596.1" width="24.7" height="25.4" fill="#ffffff"/><rect x="216.8" y="596.1" width="24.7" height="25.4" fill="#ffffff"/><rect x="240.9" y="596.1" width="24.7" height="25.4" fill="#ffffff"/><rect x="265.0" y="596.1" width="24.7" height="25.4" fill="#ffffff"/><rect x="289.1" y="596.1" width="24.7" height="25.4" fill="#ffffff"/><rect x="313.2" y="596.1" width="24.7" height="25.4" fill="#ffffff"/><rect x="337.3" y="596.1" width="24.7" height="25.4" fill="#ffffff"/><rect x="361.4" y="596.1" width="24.7" height="25.4" fill="#ffffff"/><rect x="385.4" y="596.1" width="24.7" height="25.4" fill="#ffffff"/><rect x="409.5" y="596.1" width="24.7" height="25.4" fill="#ffffff"/><rect x="433.6" y="596.1" width="24.7" height="25.4" fill="#ffffff"/><rect x="457.7" y="596.1" width="36.7" height="25.4" fill="#ffffff"/><rect x="-12.0" y="620.9" width="36.7" height="25.4" fill="#ffffff"/><rect x="24.1" y="620.9" width="24.7" height="25.4" fill="#ffffff"/><rect x="48.2" y="620.9" width="24.7" height="25.4" fill="#ffffff"/><rect x="72.3" y="620.9" width="24.7" height="25.4" fill="#ffffff"/><rect x="96.4" y="620.9" width="24.7" height="25.4" fill="#ffffff"/><rect x="120.5" y="620.9" width="24.7" height="25.4" fill="#ffffff"/><rect x="144.5" y="620.9" width="24.7" height="25.4" fill="#ffffff"/><rect x="168.6" y="620.9" width="24.7" height="25.4" fill="#ffffff"/><rect x="192.7" y="620.9" width="24.7" height="25.4" fill="#ffffff"/><rect x="216.8" y="620.9" width="24.7" height="25.4" fill="#ffffff"/><rect x="240.9" y="620.9" width="24.7" height="25.4" fill="#ffffff"/><rect x="265.0" y="620.9" width="24.7" height="25.4" fill="#ffffff"/><rect x="289.1" y="620.9" width="24.7" height="25.4" fill="#ffffff"/><rect x="313.2" y="620.9" width="24.7" height="25.4" fill="#ffffff"/><rect x="337.3" y="620.9" width="24.7" height="25.4" fill="#ffffff"/><rect x="361.4" y="620.9" width="24.7" height="25.4" fill="#ffffff"/><rect x="385.4" y="620.9" width="24.7" height="25.4" fill="#ffffff"/><rect x="409.5" y="620.9" width="24.7" height="25.4" fill="#ffffff"/><rect x="433.6" y="620.9" width="24.7" height="25.4" fill="#ffffff"/><rect x="457.7" y="620.9" width="36.7" height="25.4" fill="#ffffff"/><rect x="-12.0" y="645.7" width="36.7" height="25.4" fill="#ffffff"/><rect x="24.1" y="645.7" width="24.7" height="25.4" fill="#ffffff"/><rect x="48.2" y="645.7" width="24.7" height="25.4" fill="#ffffff"/><rect x="72.3" y="645.7" width="24.7" height="25.4" fill="#ffffff"/><rect x="96.4" y="645.7" width="24.7" height="25.4" fill="#ffffff"/><rect x="120.5" y="645.7" width="24.7" height="25.4" fill="#ffffff"/><rect x="144.5" y="645.7" width="24.7" height="25.4" fill="#ffffff"/><rect x="168.6" y="645.7" width="24.7" height="25.4" fill="#ffffff"/><rect x="192.7" y="645.7" width="24.7" height="25.4" fill="#ffffff"/><rect x="216.8" y="645.7" width="24.7" height="25.4" fill="#ffffff"/><rect x="240.9" y="645.7" width="24.7" height="25.4" fill="#ffffff"/><rect x="265.0" y="645.7" width="24.7" height="25.4" fill="#ffffff"/><rect x="289.1" y="645.7" width="24.7" height="25.4" fill="#ffffff"/><rect x="313.2" y="645.7" width="24.7" height="25.4" fill="#ffffff"/><rect x="337.3" y="645.7" width="24.7" height="25.4" fill="#ffffff"/><rect x="361.4" y="645.7" width="24.7" height="25.4" fill="#ffffff"/><rect x="385.4" y="645.7" width="24.7" height="25.4" fill="#ffffff"/><rect x="409.5" y="645.7" width="24.7" height="25.4" fill="#ffffff"/><rect x="433.6" y="645.7" width="24.7" height="25.4" fill="#ffffff"/><rect x="457.7" y="645.7" width="36.7" height="25.4" fill="#ffffff"/><rect x="-12.0" y="670.6" width="36.7" height="37.4" fill="#ffffff"/><rect x="24.1" y="670.6" width="24.7" height="37.4" fill="#ffffff"/><rect x="48.2" y="670.6" width="24.7" height="37.4" fill="#ffffff"/><rect x="72.3" y="670.6" width="24.7" height="37.4" fill="#ffffff"/><rect x="96.4" y="670.6" width="24.7" height="37.4" fill="#ffffff"/><rect x="120.5" y="670.6" width="24.7" height="37.4" fill="#ffffff"/><rect x="144.5" y="670.6" width="24.7" height="37.4" fill="#ffffff"/><rect x="168.6" y="670.6" width="24.7" height="37.4" fill="#ffffff"/><rect x="192.7" y="670.6" width="24.7" height="37.4" fill="#ffffff"/><rect x="216.8" y="670.6" width="24.7" height="37.4" fill="#ffffff"/><rect x="240.9" y="670.6" width="24.7" height="37.4" fill="#ffffff"/><rect x="265.0" y="670.6" width="24.7" height="37.4" fill="#ffffff"/><rect x="289.1" y="670.6" width="24.7" height="37.4" fill="#ffffff"/><rect x="313.2" y="670.6" width="24.7" height="37.4" fill="#ffffff"/><rect x="337.3" y="670.6" width="24.7" height="37.4" fill="#ffffff"/><rect x="361.4" y="670.6" width="24.7" height="37.4" fill="#ffffff"/><rect x="385.4" y="670.6" width="24.7" height="37.4" fill="#ffffff"/><rect x="409.5" y="670.6" width="24.7" height="37.4" fill="#ffffff"/><rect x="433.6" y="670.6" width="24.7" height="37.4" fill="#ffffff"/><rect x="457.7" y="670.6" width="36.7" height="37.4" fill="#ffffff"/></g>
<path d="M0.0,313.6 L9.1,323.1 L14.2,317.1 L21.1,315.4 L24.6,306.7 L25.4,299.8 L31.5,306.7 L40.1,311.9 L46.1,312.8 L57.3,310.2 L66.0,315.4 L69.4,310.2 L81.5,310.2 L90.1,317.1 L88.4,321.4 L100.4,324.0 L107.3,339.5 L116.0,343.8 L109.1,334.3 L110.8,322.3 L124.6,324.8 L134.9,324.8 L150.4,326.6 L159.1,334.3 L172.9,337.8 L178.0,339.5 L183.2,351.6 L179.8,365.4 L178.0,370.5 L169.4,368.8 L179.8,379.2 L181.5,392.9 L179.8,399.8 L167.7,410.2 L160.8,417.1 L155.6,424.0 L147.0,425.7 L145.3,434.3 L140.1,448.1 L133.2,455.0 L143.6,455.0 L148.7,461.9 L147.0,468.8 L155.6,482.6 L160.8,499.8 L166.0,513.6 L169.4,520.5 L178.0,513.6 L184.9,515.4 L181.5,522.3 L184.9,527.4 L179.8,530.9 L169.4,527.4 L160.8,530.9 L159.1,536.1 L159.1,541.5 L161.0,568.5 L159.1,580.1 L166.8,591.7 L176.5,607.1 L188.1,626.4 L199.6,641.9 L222.8,657.3 L233.0,662.9 L239.9,666.4 L250.2,675.0 L258.9,678.5 L272.7,683.6 L277.8,690.5 L282.0,695.5 L0.0,695.5 Z" fill="#ecf0dc" stroke="#1a1a1a" stroke-width="0.8"/>
<path d="M285.6,695.5 L281.3,683.6 L274.4,679.3 L278.7,676.7 L281.3,669.8 L279.6,659.5 L276.1,649.2 L267.5,644.0 L259.7,632.8 L267.5,642.3 L277.8,648.3 L284.7,656.1 L291.6,659.5 L296.8,662.9 L302.0,661.2 L308.9,656.1 L320.9,650.9 L324.4,645.7 L327.8,631.9 L331.3,628.5 L329.6,621.6 L325.2,613.8 L331.3,612.1 L350.2,618.1 L360.6,623.3 L359.7,614.7 L357.1,606.1 L364.0,600.9 L374.4,602.6 L372.7,595.7 L366.6,580.2 L367.5,574.2 L360.6,562.9 L355.4,552.6 L357.1,549.2 L369.2,547.4 L362.3,542.3 L355.4,535.4 L353.7,528.5 L358.9,523.3 L365.8,512.9 L369.2,518.1 L377.8,521.6 L383.0,528.5 L388.2,537.1 L393.3,545.7 L395.1,550.9 L403.7,550.9 L412.3,550.9 L417.5,557.8 L422.7,547.4 L427.8,540.5 L424.4,535.4 L433.0,530.2 L441.6,525.0 L452.0,523.3 L460.6,528.5 L464.0,538.8 L472.7,535.4 L482.5,532.8 L482.5,695.5 Z" fill="#ecf0dc" stroke="#1a1a1a" stroke-width="0.8"/>
<path d="M322.7,541.9 L328.7,549.2 L333.9,562.9 L334.7,574.2 L329.6,575.9 L322.7,569.8 L317.5,561.2 L315.4,552.6 L318.3,544.0 Z" fill="#ecf0dc" stroke="#1a1a1a" stroke-width="0.8"/>
<path d="M302.0,604.5 L306.0,605.5 L310.0,610.5 L312.3,616.4 L309.0,616.5 L304.0,611.5 Z" fill="#ecf0dc" stroke="#1a1a1a" stroke-width="0.8"/>
<path d="M290.0,643.5 L293.0,642.5 L295.0,647.5 L294.0,650.5 L291.0,649.5 Z" fill="#ecf0dc" stroke="#1a1a1a" stroke-width="0.8"/>
<path d="M177.0,492.5 L187.0,493.5 L192.0,497.5 L189.0,503.5 L183.0,506.5 L177.0,501.5 Z" fill="#ecf0dc" stroke="#1a1a1a" stroke-width="0.8"/>
<path d="M346.0,581.1 L348.5,582.5 L351.1,590.5 L350.0,591.5 L347.5,587.5 Z" fill="#ecf0dc" stroke="#1a1a1a" stroke-width="0.8"/>
<path d="M313.2,622.5 L314.8,623.5 L315.8,631.5 L314.2,631.5 Z" fill="#ecf0dc" stroke="#1a1a1a" stroke-width="0.8"/>
<g fill="none" stroke="#6e7268" stroke-width="1.0" stroke-dasharray="1.3,1.5" opacity="0.75"><circle cx="233.0" cy="816.5" r="777.1"/><circle cx="233.0" cy="816.5" r="642.9"/><circle cx="233.0" cy="816.5" r="511.3"/><circle cx="233.0" cy="816.5" r="381.8"/><circle cx="233.0" cy="816.5" r="253.7"/><circle cx="233.0" cy="816.5" r="126.6"/><line x1="233.0" y1="816.5" x2="-1684.6" y2="248.5"/><line x1="233.0" y1="816.5" x2="-1395.2" y2="-344.9"/><line x1="233.0" y1="816.5" x2="-928.4" y2="-811.7"/><line x1="233.0" y1="816.5" x2="-325.0" y2="-1104.1"/><line x1="233.0" y1="816.5" x2="320.2" y2="-1181.6"/><line x1="233.0" y1="816.5" x2="951.4" y2="-1050.0"/><line x1="233.0" y1="816.5" x2="1531.9" y2="-704.3"/><line x1="233.0" y1="816.5" x2="1956.3" y2="-198.6"/><line x1="233.0" y1="816.5" x2="2192.8" y2="417.8"/></g>
</g>
<rect x="0" y="0" width="481.8" height="695.4" fill="none" stroke="#111" stroke-width="1.2"/>
</g>
<rect x="584.5" y="649.06" width="33.00" height="87.24" fill="#368c1e"/><rect x="584.5" y="562.12" width="33.00" height="87.24" fill="#a0fa96"/><rect x="584.5" y="475.19" width="33.00" height="87.24" fill="#3d8c82"/><rect x="584.5" y="388.25" width="33.00" height="87.24" fill="#8cd2e6"/><rect x="584.5" y="301.31" width="33.00" height="87.24" fill="#7d1b8c"/><rect x="584.5" y="214.38" width="33.00" height="87.24" fill="#d7bedc"/><rect x="584.5" y="127.44" width="33.00" height="87.24" fill="#dc2341"/><rect x="584.5" y="40.50" width="33.00" height="87.24" fill="#f2d7b2"/><rect x="584.5" y="40.5" width="33.00" height="695.50" fill="none" stroke="#111" stroke-width="1"/><line x1="617.5" y1="40.50" x2="621.0" y2="40.50" stroke="#111" stroke-width="1"/><line x1="617.5" y1="127.44" x2="621.0" y2="127.44" stroke="#111" stroke-width="1"/><line x1="617.5" y1="214.38" x2="621.0" y2="214.38" stroke="#111" stroke-width="1"/><line x1="617.5" y1="301.31" x2="621.0" y2="301.31" stroke="#111" stroke-width="1"/><line x1="617.5" y1="388.25" x2="621.0" y2="388.25" stroke="#111" stroke-width="1"/><line x1="617.5" y1="475.19" x2="621.0" y2="475.19" stroke="#111" stroke-width="1"/><line x1="617.5" y1="562.12" x2="621.0" y2="562.12" stroke="#111" stroke-width="1"/><line x1="617.5" y1="649.06" x2="621.0" y2="649.06" stroke="#111" stroke-width="1"/><line x1="617.5" y1="736.00" x2="621.0" y2="736.00" stroke="#111" stroke-width="1"/>
<rect x="1312.0" y="649.26" width="33.00" height="87.24" fill="#368c1e"/><rect x="1312.0" y="562.33" width="33.00" height="87.24" fill="#a0fa96"/><rect x="1312.0" y="475.39" width="33.00" height="87.24" fill="#3d8c82"/><rect x="1312.0" y="388.45" width="33.00" height="87.24" fill="#8cd2e6"/><rect x="1312.0" y="301.51" width="33.00" height="87.24" fill="#7d1b8c"/><rect x="1312.0" y="214.58" width="33.00" height="87.24" fill="#d7bedc"/><rect x="1312.0" y="127.64" width="33.00" height="87.24" fill="#dc2341"/><rect x="1312.0" y="40.70" width="33.00" height="87.24" fill="#f2d7b2"/><rect x="1312.0" y="40.7" width="33.00" height="695.50" fill="none" stroke="#111" stroke-width="1"/><line x1="1345.0" y1="40.70" x2="1348.5" y2="40.70" stroke="#111" stroke-width="1"/><line x1="1345.0" y1="127.64" x2="1348.5" y2="127.64" stroke="#111" stroke-width="1"/><line x1="1345.0" y1="214.57" x2="1348.5" y2="214.57" stroke="#111" stroke-width="1"/><line x1="1345.0" y1="301.51" x2="1348.5" y2="301.51" stroke="#111" stroke-width="1"/><line x1="1345.0" y1="388.45" x2="1348.5" y2="388.45" stroke="#111" stroke-width="1"/><line x1="1345.0" y1="475.39" x2="1348.5" y2="475.39" stroke="#111" stroke-width="1"/><line x1="1345.0" y1="562.33" x2="1348.5" y2="562.33" stroke="#111" stroke-width="1"/><line x1="1345.0" y1="649.26" x2="1348.5" y2="649.26" stroke="#111" stroke-width="1"/><line x1="1345.0" y1="736.20" x2="1348.5" y2="736.20" stroke="#111" stroke-width="1"/>
<rect x="580.4" y="944.3" width="33.10" height="695.10" fill="url(#gc)" stroke="#111" stroke-width="1"/><line x1="613.5" y1="1593.34" x2="617.0" y2="1593.34" stroke="#111" stroke-width="1"/><line x1="613.5" y1="1500.62" x2="617.0" y2="1500.62" stroke="#111" stroke-width="1"/><line x1="613.5" y1="1407.90" x2="617.0" y2="1407.90" stroke="#111" stroke-width="1"/><line x1="613.5" y1="1315.18" x2="617.0" y2="1315.18" stroke="#111" stroke-width="1"/><line x1="613.5" y1="1222.46" x2="617.0" y2="1222.46" stroke="#111" stroke-width="1"/><line x1="613.5" y1="1129.74" x2="617.0" y2="1129.74" stroke="#111" stroke-width="1"/><line x1="613.5" y1="1037.02" x2="617.0" y2="1037.02" stroke="#111" stroke-width="1"/><line x1="613.5" y1="944.30" x2="617.0" y2="944.30" stroke="#111" stroke-width="1"/>
<rect x="1301.3" y="944.0" width="33.10" height="695.40" fill="url(#gd)" stroke="#111" stroke-width="1"/><line x1="1334.4" y1="1639.92" x2="1337.9" y2="1639.92" stroke="#111" stroke-width="1"/><line x1="1334.4" y1="1457.14" x2="1337.9" y2="1457.14" stroke="#111" stroke-width="1"/><line x1="1334.4" y1="1350.22" x2="1336.6000000000001" y2="1350.22" stroke="#111" stroke-width="1"/><line x1="1334.4" y1="1274.35" x2="1337.9" y2="1274.35" stroke="#111" stroke-width="1"/><line x1="1334.4" y1="1215.51" x2="1336.6000000000001" y2="1215.51" stroke="#111" stroke-width="1"/><line x1="1334.4" y1="1167.43" x2="1337.9" y2="1167.43" stroke="#111" stroke-width="1"/><line x1="1334.4" y1="1126.78" x2="1336.6000000000001" y2="1126.78" stroke="#111" stroke-width="1"/><line x1="1334.4" y1="1091.57" x2="1337.9" y2="1091.57" stroke="#111" stroke-width="1"/><line x1="1334.4" y1="1060.51" x2="1336.6000000000001" y2="1060.51" stroke="#111" stroke-width="1"/><line x1="1334.4" y1="1032.73" x2="1337.9" y2="1032.73" stroke="#111" stroke-width="1"/><line x1="1334.4" y1="984.65" x2="1337.9" y2="984.65" stroke="#111" stroke-width="1"/><line x1="1334.4" y1="944.00" x2="1337.9" y2="944.00" stroke="#111" stroke-width="1"/>
<g><text x="63.40" y="26.71" font-size="28.43" textLength="34.51" lengthAdjust="spacingAndGlyphs">(a)</text><text x="793.30" y="25.99" font-size="30.47" textLength="34.71" lengthAdjust="spacingAndGlyphs">(b)</text><text x="59.00" y="928.64" font-size="30.26" textLength="34.70" lengthAdjust="spacingAndGlyphs">(c)</text><text x="784.00" y="931.95" font-size="30.69" textLength="34.91" lengthAdjust="spacingAndGlyphs">(d)</text><text x="210.60" y="33.00" font-size="38.23" textLength="189.61" lengthAdjust="spacingAndGlyphs">Bloom Start</text><text x="946.60" y="33.10" font-size="39.10" textLength="170.29" lengthAdjust="spacingAndGlyphs">Bloom End</text><text x="175.40" y="936.30" font-size="38.23" textLength="250.11" lengthAdjust="spacingAndGlyphs">Bloom Duration</text><text x="916.60" y="935.20" font-size="36.77" textLength="263.79" lengthAdjust="spacingAndGlyphs">Bloom Biomass</text><text x="10.28" y="132.53" font-size="22.32" textLength="45.75" lengthAdjust="spacingAndGlyphs" transform="rotate(-8 33.15 124.85)">60°S</text><text x="10.49" y="272.48" font-size="22.32" textLength="45.32" lengthAdjust="spacingAndGlyphs" transform="rotate(-11 33.15 264.80)">65°S</text><text x="9.17" y="418.93" font-size="22.32" textLength="47.07" lengthAdjust="spacingAndGlyphs" transform="rotate(-16 32.70 411.25)">70°S</text><text x="12.10" y="580.53" font-size="22.32" textLength="44.81" lengthAdjust="spacingAndGlyphs" transform="rotate(-26 34.50 572.85)">75°S</text><text x="206.64" y="775.92" font-size="22.88" textLength="60.32" lengthAdjust="spacingAndGlyphs" transform="rotate(55 236.80 768.05)">140°E</text><text x="241.44" y="785.07" font-size="22.88" textLength="62.13" lengthAdjust="spacingAndGlyphs" transform="rotate(-105 272.50 777.20)">160°E</text><text x="276.45" y="780.27" font-size="22.88" textLength="48.41" lengthAdjust="spacingAndGlyphs" transform="rotate(-90 300.65 772.40)">180°</text><text x="294.56" y="786.27" font-size="22.88" textLength="70.09" lengthAdjust="spacingAndGlyphs" transform="rotate(-70 329.60 778.40)">160°W</text><text x="339.85" y="779.52" font-size="22.88" textLength="65.20" lengthAdjust="spacingAndGlyphs" transform="rotate(-55 372.45 771.65)">140°W</text><text x="738.58" y="132.73" font-size="22.32" textLength="45.75" lengthAdjust="spacingAndGlyphs" transform="rotate(-8 761.45 125.05)">60°S</text><text x="738.79" y="272.68" font-size="22.32" textLength="45.32" lengthAdjust="spacingAndGlyphs" transform="rotate(-11 761.45 265.00)">65°S</text><text x="737.47" y="419.13" font-size="22.32" textLength="47.07" lengthAdjust="spacingAndGlyphs" transform="rotate(-16 761.00 411.45)">70°S</text><text x="740.40" y="580.73" font-size="22.32" textLength="44.81" lengthAdjust="spacingAndGlyphs" transform="rotate(-26 762.80 573.05)">75°S</text><text x="934.94" y="776.12" font-size="22.88" textLength="60.32" lengthAdjust="spacingAndGlyphs" transform="rotate(55 965.10 768.25)">140°E</text><text x="969.74" y="785.27" font-size="22.88" textLength="62.13" lengthAdjust="spacingAndGlyphs" transform="rotate(-105 1000.80 777.40)">160°E</text><text x="1004.75" y="780.47" font-size="22.88" textLength="48.41" lengthAdjust="spacingAndGlyphs" transform="rotate(-90 1028.95 772.60)">180°</text><text x="1022.86" y="786.47" font-size="22.88" textLength="70.09" lengthAdjust="spacingAndGlyphs" transform="rotate(-70 1057.90 778.60)">160°W</text><text x="1068.15" y="779.72" font-size="22.88" textLength="65.20" lengthAdjust="spacingAndGlyphs" transform="rotate(-55 1100.75 771.85)">140°W</text><text x="6.68" y="1036.33" font-size="22.32" textLength="45.75" lengthAdjust="spacingAndGlyphs" transform="rotate(-8 29.55 1028.65)">60°S</text><text x="6.89" y="1176.28" font-size="22.32" textLength="45.32" lengthAdjust="spacingAndGlyphs" transform="rotate(-11 29.55 1168.60)">65°S</text><text x="5.57" y="1322.73" font-size="22.32" textLength="47.07" lengthAdjust="spacingAndGlyphs" transform="rotate(-16 29.10 1315.05)">70°S</text><text x="8.50" y="1484.33" font-size="22.32" textLength="44.81" lengthAdjust="spacingAndGlyphs" transform="rotate(-26 30.90 1476.65)">75°S</text><text x="203.04" y="1679.72" font-size="22.88" textLength="60.32" lengthAdjust="spacingAndGlyphs" transform="rotate(55 233.20 1671.85)">140°E</text><text x="237.84" y="1688.87" font-size="22.88" textLength="62.13" lengthAdjust="spacingAndGlyphs" transform="rotate(-105 268.90 1681.00)">160°E</text><text x="272.85" y="1684.07" font-size="22.88" textLength="48.41" lengthAdjust="spacingAndGlyphs" transform="rotate(-90 297.05 1676.20)">180°</text><text x="290.96" y="1690.07" font-size="22.88" textLength="70.09" lengthAdjust="spacingAndGlyphs" transform="rotate(-70 326.00 1682.20)">160°W</text><text x="336.25" y="1683.32" font-size="22.88" textLength="65.20" lengthAdjust="spacingAndGlyphs" transform="rotate(-55 368.85 1675.45)">140°W</text><text x="727.48" y="1036.03" font-size="22.32" textLength="45.75" lengthAdjust="spacingAndGlyphs" transform="rotate(-8 750.35 1028.35)">60°S</text><text x="727.69" y="1175.98" font-size="22.32" textLength="45.32" lengthAdjust="spacingAndGlyphs" transform="rotate(-11 750.35 1168.30)">65°S</text><text x="726.37" y="1322.43" font-size="22.32" textLength="47.07" lengthAdjust="spacingAndGlyphs" transform="rotate(-16 749.90 1314.75)">70°S</text><text x="729.30" y="1484.03" font-size="22.32" textLength="44.81" lengthAdjust="spacingAndGlyphs" transform="rotate(-26 751.70 1476.35)">75°S</text><text x="923.84" y="1679.42" font-size="22.88" textLength="60.32" lengthAdjust="spacingAndGlyphs" transform="rotate(55 954.00 1671.55)">140°E</text><text x="958.64" y="1688.57" font-size="22.88" textLength="62.13" lengthAdjust="spacingAndGlyphs" transform="rotate(-105 989.70 1680.70)">160°E</text><text x="993.65" y="1683.77" font-size="22.88" textLength="48.41" lengthAdjust="spacingAndGlyphs" transform="rotate(-90 1017.85 1675.90)">180°</text><text x="1011.76" y="1689.77" font-size="22.88" textLength="70.09" lengthAdjust="spacingAndGlyphs" transform="rotate(-70 1046.80 1681.90)">160°W</text><text x="1057.05" y="1683.02" font-size="22.88" textLength="65.20" lengthAdjust="spacingAndGlyphs" transform="rotate(-55 1089.65 1675.15)">140°W</text><text x="644.30" y="49.72" font-size="26.80" textLength="49.11" lengthAdjust="spacingAndGlyphs">May</text><text x="644.30" y="136.66" font-size="26.80" textLength="40.45" lengthAdjust="spacingAndGlyphs">Apr</text><text x="644.30" y="223.59" font-size="26.80" textLength="44.77" lengthAdjust="spacingAndGlyphs">Mar</text><text x="644.30" y="310.53" font-size="26.80" textLength="44.80" lengthAdjust="spacingAndGlyphs">Feb</text><text x="644.30" y="397.47" font-size="26.80" textLength="41.91" lengthAdjust="spacingAndGlyphs">Jan</text><text x="644.30" y="484.41" font-size="26.80" textLength="46.23" lengthAdjust="spacingAndGlyphs">Dec</text><text x="644.30" y="571.34" font-size="26.80" textLength="46.23" lengthAdjust="spacingAndGlyphs">Nov</text><text x="644.30" y="658.28" font-size="26.80" textLength="40.44" lengthAdjust="spacingAndGlyphs">Oct</text><text x="644.30" y="745.22" font-size="26.80" textLength="46.26" lengthAdjust="spacingAndGlyphs">Sep</text><text x="1373.60" y="52.12" font-size="26.80" textLength="49.11" lengthAdjust="spacingAndGlyphs">May</text><text x="1373.60" y="139.06" font-size="26.80" textLength="40.45" lengthAdjust="spacingAndGlyphs">Apr</text><text x="1373.60" y="225.99" font-size="26.80" textLength="44.77" lengthAdjust="spacingAndGlyphs">Mar</text><text x="1373.60" y="312.93" font-size="26.80" textLength="44.80" lengthAdjust="spacingAndGlyphs">Feb</text><text x="1373.60" y="399.87" font-size="26.80" textLength="41.91" lengthAdjust="spacingAndGlyphs">Jan</text><text x="1373.60" y="486.81" font-size="26.80" textLength="46.23" lengthAdjust="spacingAndGlyphs">Dec</text><text x="1373.60" y="573.74" font-size="26.80" textLength="46.23" lengthAdjust="spacingAndGlyphs">Nov</text><text x="1373.60" y="660.68" font-size="26.80" textLength="40.44" lengthAdjust="spacingAndGlyphs">Oct</text><text x="1373.60" y="747.62" font-size="26.80" textLength="46.26" lengthAdjust="spacingAndGlyphs">Sep</text><text x="641.50" y="1602.30" font-size="25.60" textLength="13.81" lengthAdjust="spacingAndGlyphs">2</text><text x="641.50" y="1509.58" font-size="25.60" textLength="13.81" lengthAdjust="spacingAndGlyphs">4</text><text x="641.50" y="1416.86" font-size="25.60" textLength="13.81" lengthAdjust="spacingAndGlyphs">6</text><text x="641.50" y="1324.14" font-size="25.60" textLength="13.81" lengthAdjust="spacingAndGlyphs">8</text><text x="641.50" y="1231.42" font-size="25.60" textLength="27.62" lengthAdjust="spacingAndGlyphs">10</text><text x="641.50" y="1138.70" font-size="25.60" textLength="27.62" lengthAdjust="spacingAndGlyphs">12</text><text x="641.50" y="1045.98" font-size="25.60" textLength="27.62" lengthAdjust="spacingAndGlyphs">14</text><text x="641.50" y="953.26" font-size="25.60" textLength="27.62" lengthAdjust="spacingAndGlyphs">16</text><text x="1360.80" y="1648.88" font-size="25.60" textLength="13.81" lengthAdjust="spacingAndGlyphs">1</text><text x="1360.80" y="1466.10" font-size="25.60" textLength="13.81" lengthAdjust="spacingAndGlyphs">2</text><text x="1360.80" y="1283.31" font-size="25.60" textLength="13.81" lengthAdjust="spacingAndGlyphs">4</text><text x="1360.80" y="1176.39" font-size="25.60" textLength="13.81" lengthAdjust="spacingAndGlyphs">6</text><text x="1360.80" y="1100.53" font-size="25.60" textLength="13.81" lengthAdjust="spacingAndGlyphs">8</text><text x="1360.80" y="1041.69" font-size="25.60" textLength="27.62" lengthAdjust="spacingAndGlyphs">10</text><text x="1360.80" y="993.61" font-size="25.60" textLength="27.62" lengthAdjust="spacingAndGlyphs">12</text><text x="1360.80" y="952.96" font-size="25.60" textLength="27.62" lengthAdjust="spacingAndGlyphs">14</text><text x="671.50" y="398.81" font-size="28.57" textLength="75.34" lengthAdjust="spacingAndGlyphs" transform="rotate(-90 709.20 388.60)">Week</text><text x="1399.00" y="398.81" font-size="28.57" textLength="75.34" lengthAdjust="spacingAndGlyphs" transform="rotate(-90 1436.70 388.60)">Week</text><text x="617.65" y="1281.72" font-size="27.76" textLength="156.29" lengthAdjust="spacingAndGlyphs" transform="rotate(-90 695.80 1271.80)">Nº of weeks</text><g transform="rotate(-90 1417.0 1287.0)"><text x="1417.0" y="1297.0" font-size="28.4" text-anchor="middle" id="chl">Chl-<tspan font-style="italic">a</tspan> (mg. m<tspan font-size="17" dy="-11">-3</tspan><tspan dy="11">)</tspan></text></g></g>
</svg></body></html>
